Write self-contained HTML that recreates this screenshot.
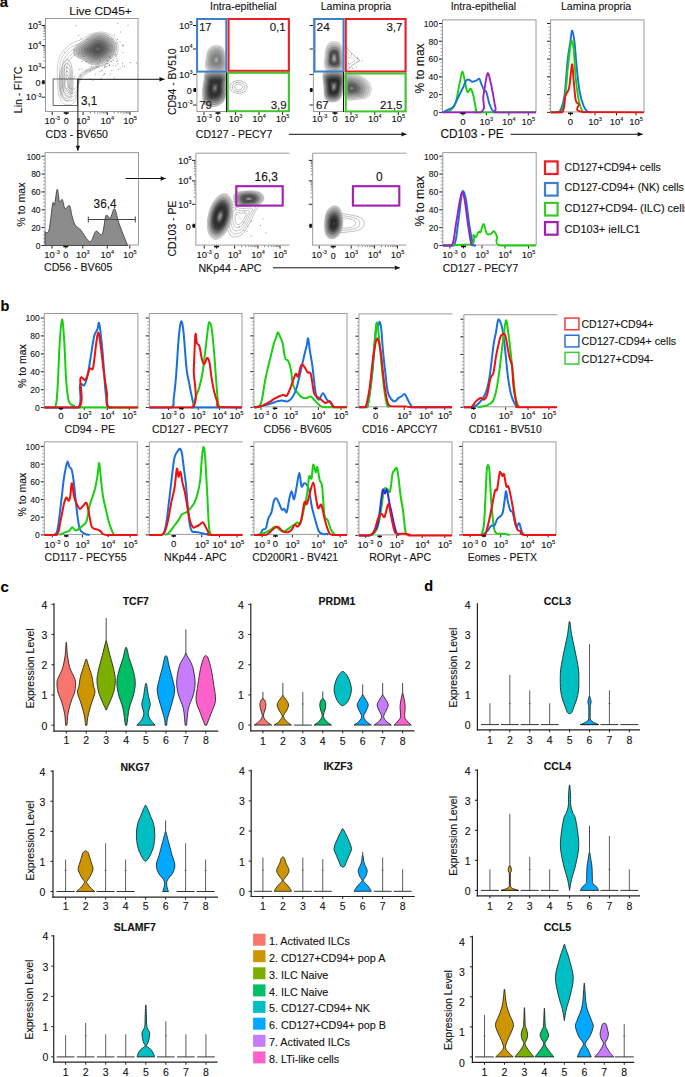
<!DOCTYPE html><html><head><meta charset="utf-8"><style>html,body{margin:0;padding:0;background:#fff;overflow:hidden;}svg{display:block;font-family:"Liberation Sans", sans-serif;} text{stroke:#1a1a1a;stroke-width:0.12px;}</style></head><body>
<svg width="685" height="1077" viewBox="0 0 685 1077">
<rect width="685" height="1077" fill="#fff"/>
<text x="-0.3" y="6.7" font-size="15" font-weight="bold" fill="#000">a</text>
<text x="69.30" y="14.56" font-size="11.5"  textLength="62.5" lengthAdjust="spacingAndGlyphs"  fill="#111" >Live CD45+</text>
<rect x="45.50" y="18.50" width="92.50" height="93.00" fill="none" stroke="#9a9a9a" stroke-width="1"/>
<line x1="41.50" y1="25.50" x2="45.00" y2="25.50" stroke="#222" stroke-width="1"/>
<line x1="41.50" y1="45.60" x2="45.00" y2="45.60" stroke="#222" stroke-width="1"/>
<line x1="41.50" y1="67.70" x2="45.00" y2="67.70" stroke="#222" stroke-width="1"/>
<line x1="41.50" y1="97.20" x2="45.00" y2="97.20" stroke="#222" stroke-width="1"/>
<line x1="41.50" y1="82.20" x2="45.00" y2="82.20" stroke="#222" stroke-width="1"/>
<text x="41.20" y="28.75" font-size="9.45" text-anchor="end" fill="#111">10<tspan font-size="5.5" dy="-3.78">5</tspan></text>
<text x="41.20" y="48.85" font-size="9.45" text-anchor="end" fill="#111">10<tspan font-size="5.5" dy="-3.78">4</tspan></text>
<text x="41.20" y="70.95" font-size="9.45" text-anchor="end" fill="#111">10<tspan font-size="5.5" dy="-3.78">3</tspan></text>
<text x="40.50" y="85.90" font-size="9" text-anchor="end"   fill="#111" >0</text>
<text x="41.20" y="100.45" font-size="9.45" text-anchor="end" fill="#111">10<tspan font-size="5.5" dy="-3.78">-3</tspan></text>
<line x1="45.00" y1="67.70" x2="45.00" y2="67.70" stroke="#222" stroke-width="1"/>
<line x1="45.00" y1="45.60" x2="45.00" y2="45.60" stroke="#222" stroke-width="1"/>
<line x1="45.00" y1="25.50" x2="45.00" y2="25.50" stroke="#222" stroke-width="1"/>
<line x1="43.50" y1="61.05" x2="45.00" y2="61.05" stroke="#555" stroke-width="0.7"/>
<line x1="43.50" y1="57.16" x2="45.00" y2="57.16" stroke="#555" stroke-width="0.7"/>
<line x1="43.50" y1="54.39" x2="45.00" y2="54.39" stroke="#555" stroke-width="0.7"/>
<line x1="43.50" y1="52.25" x2="45.00" y2="52.25" stroke="#555" stroke-width="0.7"/>
<line x1="43.50" y1="50.50" x2="45.00" y2="50.50" stroke="#555" stroke-width="0.7"/>
<line x1="43.50" y1="49.02" x2="45.00" y2="49.02" stroke="#555" stroke-width="0.7"/>
<line x1="43.50" y1="47.74" x2="45.00" y2="47.74" stroke="#555" stroke-width="0.7"/>
<line x1="43.50" y1="46.61" x2="45.00" y2="46.61" stroke="#555" stroke-width="0.7"/>
<line x1="43.50" y1="39.55" x2="45.00" y2="39.55" stroke="#555" stroke-width="0.7"/>
<line x1="43.50" y1="36.01" x2="45.00" y2="36.01" stroke="#555" stroke-width="0.7"/>
<line x1="43.50" y1="33.50" x2="45.00" y2="33.50" stroke="#555" stroke-width="0.7"/>
<line x1="43.50" y1="31.55" x2="45.00" y2="31.55" stroke="#555" stroke-width="0.7"/>
<line x1="43.50" y1="29.96" x2="45.00" y2="29.96" stroke="#555" stroke-width="0.7"/>
<line x1="43.50" y1="28.61" x2="45.00" y2="28.61" stroke="#555" stroke-width="0.7"/>
<line x1="43.50" y1="27.45" x2="45.00" y2="27.45" stroke="#555" stroke-width="0.7"/>
<line x1="43.50" y1="26.42" x2="45.00" y2="26.42" stroke="#555" stroke-width="0.7"/>
<line x1="52.20" y1="112.00" x2="52.20" y2="115.00" stroke="#222" stroke-width="1"/>
<line x1="66.20" y1="112.00" x2="66.20" y2="115.00" stroke="#222" stroke-width="1"/>
<line x1="83.10" y1="112.00" x2="83.10" y2="115.00" stroke="#222" stroke-width="1"/>
<line x1="107.30" y1="112.00" x2="107.30" y2="115.00" stroke="#222" stroke-width="1"/>
<line x1="130.00" y1="112.00" x2="130.00" y2="115.00" stroke="#222" stroke-width="1"/>
<line x1="83.10" y1="112.00" x2="83.10" y2="112.00" stroke="#222" stroke-width="1"/>
<line x1="107.30" y1="112.00" x2="107.30" y2="112.00" stroke="#222" stroke-width="1"/>
<line x1="130.00" y1="112.00" x2="130.00" y2="112.00" stroke="#222" stroke-width="1"/>
<line x1="90.38" y1="112.00" x2="90.38" y2="113.50" stroke="#555" stroke-width="0.7"/>
<line x1="94.65" y1="112.00" x2="94.65" y2="113.50" stroke="#555" stroke-width="0.7"/>
<line x1="97.67" y1="112.00" x2="97.67" y2="113.50" stroke="#555" stroke-width="0.7"/>
<line x1="100.02" y1="112.00" x2="100.02" y2="113.50" stroke="#555" stroke-width="0.7"/>
<line x1="101.93" y1="112.00" x2="101.93" y2="113.50" stroke="#555" stroke-width="0.7"/>
<line x1="103.55" y1="112.00" x2="103.55" y2="113.50" stroke="#555" stroke-width="0.7"/>
<line x1="104.95" y1="112.00" x2="104.95" y2="113.50" stroke="#555" stroke-width="0.7"/>
<line x1="106.19" y1="112.00" x2="106.19" y2="113.50" stroke="#555" stroke-width="0.7"/>
<line x1="114.13" y1="112.00" x2="114.13" y2="113.50" stroke="#555" stroke-width="0.7"/>
<line x1="118.13" y1="112.00" x2="118.13" y2="113.50" stroke="#555" stroke-width="0.7"/>
<line x1="120.97" y1="112.00" x2="120.97" y2="113.50" stroke="#555" stroke-width="0.7"/>
<line x1="123.17" y1="112.00" x2="123.17" y2="113.50" stroke="#555" stroke-width="0.7"/>
<line x1="124.96" y1="112.00" x2="124.96" y2="113.50" stroke="#555" stroke-width="0.7"/>
<line x1="126.48" y1="112.00" x2="126.48" y2="113.50" stroke="#555" stroke-width="0.7"/>
<line x1="127.80" y1="112.00" x2="127.80" y2="113.50" stroke="#555" stroke-width="0.7"/>
<line x1="128.96" y1="112.00" x2="128.96" y2="113.50" stroke="#555" stroke-width="0.7"/>
<text x="52.20" y="123.95" font-size="9.45" text-anchor="middle" fill="#111">10<tspan font-size="5.5" dy="-3.78">-3</tspan></text>
<text x="66.20" y="124.40" font-size="9" text-anchor="middle"   fill="#111" >0</text>
<text x="83.10" y="123.95" font-size="9.45" text-anchor="middle" fill="#111">10<tspan font-size="5.5" dy="-3.78">3</tspan></text>
<text x="107.30" y="123.95" font-size="9.45" text-anchor="middle" fill="#111">10<tspan font-size="5.5" dy="-3.78">4</tspan></text>
<text x="130.00" y="123.95" font-size="9.45" text-anchor="middle" fill="#111">10<tspan font-size="5.5" dy="-3.78">5</tspan></text>
<text x="45.50" y="137.68" font-size="11"  textLength="62.5" lengthAdjust="spacingAndGlyphs"  fill="#111" >CD3 - BV650</text>
<text transform="translate(18.70,89.90) rotate(-90)" x="0" y="3.78" font-size="11" text-anchor="middle" textLength="46.5" lengthAdjust="spacingAndGlyphs"  fill="#111" >Lin - FITC</text>
<path d="M58.00,62.30 C58.82,57.85 60.10,55.45 62.20,52.40 C64.30,49.35 67.57,46.10 70.60,44.00 C73.63,41.90 77.12,41.43 80.40,39.80 C83.68,38.17 86.55,35.48 90.30,34.20 C94.05,32.92 98.93,31.63 102.90,32.10 C106.87,32.57 111.53,34.55 114.10,37.00 C116.67,39.45 118.07,43.53 118.30,46.80 C118.53,50.07 117.37,53.78 115.50,56.60 C113.63,59.42 110.13,61.82 107.10,63.70 C104.07,65.58 100.35,66.50 97.30,67.90 C94.25,69.30 91.38,70.47 88.80,72.10 C86.22,73.73 83.55,75.37 81.80,77.70 C80.05,80.03 79.12,82.83 78.30,86.10 C77.48,89.37 77.95,94.27 76.90,97.30 C75.85,100.33 74.22,103.25 72.00,104.30 C69.78,105.35 65.82,105.23 63.60,103.60 C61.38,101.97 59.75,98.58 58.70,94.50 C57.65,90.42 57.42,84.47 57.30,79.10 C57.18,73.73 57.18,66.75 58.00,62.30Z" fill="none" stroke="#333" stroke-opacity="0.45" stroke-width="0.5"/>
<path d="M60.25,63.17 C60.97,59.22 62.11,57.09 63.98,54.38 C65.84,51.67 68.74,48.79 71.43,46.92 C74.12,45.06 77.22,44.65 80.13,43.20 C83.04,41.75 85.59,39.37 88.92,38.23 C92.24,37.09 96.58,35.95 100.10,36.36 C103.62,36.78 107.76,38.54 110.04,40.71 C112.32,42.89 113.56,46.51 113.77,49.41 C113.97,52.31 112.94,55.61 111.28,58.11 C109.62,60.61 106.52,62.74 103.83,64.41 C101.13,66.08 97.84,66.89 95.13,68.14 C92.42,69.38 89.88,70.41 87.58,71.86 C85.29,73.31 82.93,74.76 81.37,76.83 C79.82,78.90 78.99,81.39 78.27,84.29 C77.54,87.19 77.96,91.54 77.02,94.23 C76.09,96.92 74.64,99.51 72.67,100.44 C70.71,101.37 67.19,101.27 65.22,99.82 C63.25,98.37 61.80,95.37 60.87,91.74 C59.94,88.12 59.73,82.84 59.63,78.08 C59.53,73.31 59.53,67.12 60.25,63.17Z" fill="none" stroke="#333" stroke-opacity="0.45" stroke-width="0.5"/>
<path d="M62.50,64.03 C63.13,60.58 64.13,58.72 65.75,56.36 C67.38,54.00 69.91,51.48 72.27,49.85 C74.62,48.22 77.32,47.86 79.86,46.59 C82.40,45.33 84.63,43.25 87.53,42.26 C90.44,41.26 94.22,40.27 97.30,40.63 C100.37,40.99 103.99,42.53 105.98,44.42 C107.97,46.32 109.05,49.49 109.23,52.02 C109.41,54.55 108.51,57.43 107.06,59.62 C105.62,61.80 102.90,63.66 100.55,65.12 C98.20,66.58 95.32,67.29 92.96,68.37 C90.59,69.46 88.37,70.36 86.37,71.63 C84.37,72.89 82.30,74.16 80.94,75.97 C79.59,77.78 78.87,79.95 78.23,82.48 C77.60,85.01 77.96,88.81 77.15,91.16 C76.33,93.51 75.07,95.77 73.35,96.58 C71.63,97.40 68.56,97.31 66.84,96.04 C65.12,94.77 63.86,92.15 63.04,88.99 C62.23,85.82 62.05,81.21 61.96,77.05 C61.87,72.89 61.87,67.48 62.50,64.03Z" fill="none" stroke="#333" stroke-opacity="0.45" stroke-width="0.5"/>
<path d="M64.75,64.90 C65.29,61.95 66.14,60.36 67.53,58.34 C68.92,56.32 71.09,54.17 73.10,52.77 C75.11,51.38 77.41,51.07 79.59,49.99 C81.77,48.91 83.66,47.13 86.15,46.28 C88.63,45.43 91.87,44.58 94.50,44.89 C97.12,45.20 100.22,46.51 101.92,48.14 C103.62,49.76 104.54,52.47 104.70,54.63 C104.85,56.79 104.08,59.26 102.84,61.12 C101.61,62.99 99.29,64.58 97.28,65.83 C95.27,67.07 92.81,67.68 90.79,68.61 C88.77,69.54 86.87,70.31 85.16,71.39 C83.44,72.47 81.68,73.56 80.52,75.10 C79.36,76.65 78.74,78.50 78.20,80.67 C77.66,82.83 77.97,86.08 77.27,88.09 C76.58,90.10 75.49,92.03 74.03,92.72 C72.56,93.42 69.93,93.34 68.46,92.26 C66.99,91.18 65.91,88.94 65.21,86.23 C64.52,83.53 64.36,79.58 64.29,76.03 C64.21,72.47 64.21,67.85 64.75,64.90Z" fill="none" stroke="#333" stroke-opacity="0.45" stroke-width="0.5"/>
<path d="M67.00,65.77 C67.45,63.32 68.16,62.00 69.31,60.32 C70.47,58.64 72.26,56.86 73.93,55.70 C75.60,54.55 77.51,54.29 79.32,53.39 C81.13,52.49 82.70,51.02 84.77,50.31 C86.83,49.60 89.51,48.90 91.70,49.16 C93.88,49.41 96.44,50.50 97.85,51.85 C99.27,53.20 100.04,55.44 100.16,57.24 C100.29,59.04 99.65,61.08 98.62,62.63 C97.60,64.18 95.67,65.50 94.00,66.53 C92.34,67.57 90.29,68.08 88.61,68.84 C86.94,69.61 85.36,70.26 83.94,71.16 C82.52,72.05 81.05,72.95 80.09,74.23 C79.13,75.52 78.61,77.06 78.16,78.85 C77.72,80.65 77.97,83.35 77.40,85.02 C76.82,86.68 75.92,88.29 74.70,88.86 C73.48,89.44 71.30,89.38 70.08,88.48 C68.86,87.58 67.96,85.72 67.39,83.47 C66.81,81.23 66.68,77.96 66.61,75.00 C66.55,72.05 66.55,68.21 67.00,65.77Z" fill="none" stroke="#333" stroke-opacity="0.45" stroke-width="0.5"/>
<path d="M61.00,70.00 C62.17,66.33 64.33,61.00 66.00,60.00 C67.67,59.00 69.83,60.67 71.00,64.00 C72.17,67.33 72.83,74.83 73.00,80.00 C73.17,85.17 73.00,91.50 72.00,95.00 C71.00,98.50 68.83,100.83 67.00,101.00 C65.17,101.17 62.33,99.17 61.00,96.00 C59.67,92.83 59.00,86.33 59.00,82.00 C59.00,77.67 59.83,73.67 61.00,70.00Z" fill="none" stroke="#333" stroke-opacity="0.55" stroke-width="0.55"/>
<path d="M61.83,72.25 C62.82,69.13 64.66,64.60 66.08,63.75 C67.49,62.90 69.33,64.32 70.33,67.15 C71.32,69.98 71.88,76.36 72.03,80.75 C72.17,85.14 72.03,90.53 71.17,93.50 C70.32,96.47 68.48,98.46 66.92,98.60 C65.37,98.74 62.96,97.04 61.83,94.35 C60.69,91.66 60.12,86.13 60.12,82.45 C60.12,78.77 60.83,75.37 61.83,72.25Z" fill="none" stroke="#333" stroke-opacity="0.55" stroke-width="0.55"/>
<path d="M62.65,74.50 C63.47,71.93 64.98,68.20 66.15,67.50 C67.32,66.80 68.83,67.97 69.65,70.30 C70.47,72.63 70.93,77.88 71.05,81.50 C71.17,85.12 71.05,89.55 70.35,92.00 C69.65,94.45 68.13,96.08 66.85,96.20 C65.57,96.32 63.58,94.92 62.65,92.70 C61.72,90.48 61.25,85.93 61.25,82.90 C61.25,79.87 61.83,77.07 62.65,74.50Z" fill="none" stroke="#333" stroke-opacity="0.55" stroke-width="0.55"/>
<path d="M63.48,76.75 C64.12,74.73 65.31,71.80 66.22,71.25 C67.14,70.70 68.33,71.62 68.97,73.45 C69.62,75.28 69.98,79.41 70.08,82.25 C70.17,85.09 70.08,88.58 69.53,90.50 C68.98,92.42 67.78,93.71 66.78,93.80 C65.77,93.89 64.21,92.79 63.48,91.05 C62.74,89.31 62.38,85.73 62.38,83.35 C62.38,80.97 62.83,78.77 63.48,76.75Z" fill="none" stroke="#333" stroke-opacity="0.55" stroke-width="0.55"/>
<path d="M64.30,79.00 C64.77,77.53 65.63,75.40 66.30,75.00 C66.97,74.60 67.83,75.27 68.30,76.60 C68.77,77.93 69.03,80.93 69.10,83.00 C69.17,85.07 69.10,87.60 68.70,89.00 C68.30,90.40 67.43,91.33 66.70,91.40 C65.97,91.47 64.83,90.67 64.30,89.40 C63.77,88.13 63.50,85.53 63.50,83.80 C63.50,82.07 63.83,80.47 64.30,79.00Z" fill="none" stroke="#333" stroke-opacity="0.55" stroke-width="0.55"/>
<path d="M65.12,81.25 C65.42,80.33 65.96,79.00 66.38,78.75 C66.79,78.50 67.33,78.92 67.62,79.75 C67.92,80.58 68.08,82.46 68.12,83.75 C68.17,85.04 68.12,86.62 67.88,87.50 C67.62,88.38 67.08,88.96 66.62,89.00 C66.17,89.04 65.46,88.54 65.12,87.75 C64.79,86.96 64.62,85.33 64.62,84.25 C64.62,83.17 64.83,82.17 65.12,81.25Z" fill="none" stroke="#333" stroke-opacity="0.55" stroke-width="0.55"/>
<path d="M74.10,48.20 C75.50,45.75 80.03,42.83 83.20,40.50 C86.37,38.17 89.58,35.37 93.10,34.20 C96.62,33.03 100.92,32.68 104.30,33.50 C107.68,34.32 111.30,36.77 113.40,39.10 C115.50,41.43 116.90,44.58 116.90,47.50 C116.90,50.42 115.73,54.02 113.40,56.60 C111.07,59.18 106.52,61.70 102.90,63.00 C99.28,64.30 95.22,65.00 91.70,64.40 C88.18,63.80 84.62,60.93 81.80,59.40 C78.98,57.87 76.08,57.07 74.80,55.20 C73.52,53.33 72.70,50.65 74.10,48.20Z" fill="rgb(205,205,205)" stroke="#333" stroke-opacity="0.5" stroke-width="0.4"/>
<path d="M76.73,48.29 C77.97,46.11 82.01,43.51 84.83,41.44 C87.65,39.36 90.51,36.87 93.64,35.83 C96.77,34.79 100.60,34.48 103.61,35.20 C106.62,35.93 109.84,38.11 111.71,40.19 C113.58,42.27 114.82,45.07 114.82,47.66 C114.82,50.26 113.78,53.46 111.71,55.76 C109.63,58.06 105.58,60.30 102.36,61.46 C99.14,62.62 95.52,63.24 92.39,62.71 C89.26,62.17 86.09,59.62 83.58,58.26 C81.08,56.89 78.49,56.18 77.35,54.52 C76.21,52.86 75.48,50.47 76.73,48.29Z" fill="rgb(185,185,185)" stroke="#333" stroke-opacity="0.5" stroke-width="0.4"/>
<path d="M79.36,48.38 C80.45,46.47 83.99,44.19 86.46,42.37 C88.93,40.55 91.44,38.37 94.18,37.46 C96.92,36.55 100.28,36.27 102.91,36.91 C105.55,37.55 108.37,39.46 110.01,41.28 C111.65,43.10 112.74,45.55 112.74,47.83 C112.74,50.10 111.83,52.91 110.01,54.93 C108.19,56.94 104.64,58.91 101.82,59.92 C99.00,60.93 95.83,61.48 93.09,61.01 C90.34,60.54 87.56,58.31 85.36,57.11 C83.17,55.92 80.91,55.29 79.90,53.84 C78.90,52.38 78.27,50.29 79.36,48.38Z" fill="rgb(165,165,165)" stroke="#333" stroke-opacity="0.5" stroke-width="0.4"/>
<path d="M81.99,48.46 C82.92,46.82 85.96,44.87 88.08,43.30 C90.21,41.74 92.36,39.87 94.72,39.08 C97.07,38.30 99.95,38.07 102.22,38.62 C104.49,39.16 106.91,40.80 108.32,42.37 C109.72,43.93 110.66,46.04 110.66,47.99 C110.66,49.95 109.88,52.36 108.32,54.09 C106.75,55.82 103.71,57.51 101.28,58.38 C98.86,59.25 96.14,59.72 93.78,59.32 C91.42,58.92 89.03,57.00 87.15,55.97 C85.26,54.94 83.32,54.40 82.46,53.15 C81.60,51.90 81.05,50.11 81.99,48.46Z" fill="rgb(145,145,145)" stroke="#333" stroke-opacity="0.5" stroke-width="0.4"/>
<path d="M84.62,48.55 C85.40,47.18 87.94,45.55 89.71,44.24 C91.49,42.93 93.29,41.37 95.26,40.71 C97.23,40.06 99.63,39.86 101.53,40.32 C103.42,40.78 105.45,42.15 106.62,43.46 C107.80,44.76 108.58,46.53 108.58,48.16 C108.58,49.79 107.93,51.81 106.62,53.26 C105.32,54.70 102.77,56.11 100.74,56.84 C98.72,57.57 96.44,57.96 94.47,57.62 C92.50,57.29 90.51,55.68 88.93,54.82 C87.35,53.97 85.73,53.52 85.01,52.47 C84.29,51.43 83.83,49.92 84.62,48.55Z" fill="rgb(125,125,125)" stroke="#333" stroke-opacity="0.5" stroke-width="0.4"/>
<path d="M87.25,48.64 C87.88,47.54 89.92,46.22 91.34,45.17 C92.77,44.12 94.21,42.87 95.80,42.34 C97.38,41.82 99.31,41.66 100.83,42.02 C102.36,42.39 103.99,43.50 104.93,44.55 C105.88,45.59 106.50,47.01 106.50,48.33 C106.50,49.64 105.98,51.26 104.93,52.42 C103.88,53.58 101.83,54.71 100.20,55.30 C98.58,55.88 96.75,56.20 95.17,55.93 C93.58,55.66 91.98,54.37 90.71,53.68 C89.44,52.99 88.14,52.63 87.56,51.79 C86.98,50.95 86.62,49.74 87.25,48.64Z" fill="rgb(110,110,110)" stroke="#333" stroke-opacity="0.5" stroke-width="0.4"/>
<path d="M89.87,48.73 C90.35,47.90 91.89,46.90 92.97,46.11 C94.04,45.32 95.14,44.36 96.33,43.97 C97.53,43.57 98.99,43.45 100.14,43.73 C101.29,44.01 102.52,44.84 103.24,45.63 C103.95,46.43 104.43,47.50 104.43,48.49 C104.43,49.48 104.03,50.71 103.24,51.58 C102.44,52.46 100.90,53.32 99.67,53.76 C98.44,54.20 97.05,54.44 95.86,54.24 C94.66,54.03 93.45,53.06 92.49,52.54 C91.53,52.01 90.55,51.74 90.11,51.11 C89.68,50.47 89.40,49.56 89.87,48.73Z" fill="rgb(95,95,95)" stroke="#333" stroke-opacity="0.5" stroke-width="0.4"/>
<path d="M92.50,48.82 C92.83,48.25 93.87,47.58 94.60,47.05 C95.32,46.51 96.06,45.86 96.87,45.60 C97.68,45.33 98.67,45.25 99.45,45.44 C100.23,45.62 101.06,46.19 101.54,46.72 C102.03,47.26 102.35,47.98 102.35,48.66 C102.35,49.33 102.08,50.15 101.54,50.75 C101.01,51.34 99.96,51.92 99.13,52.22 C98.30,52.52 97.36,52.68 96.55,52.54 C95.74,52.40 94.92,51.74 94.27,51.39 C93.63,51.04 92.96,50.86 92.66,50.43 C92.37,50.00 92.18,49.38 92.50,48.82Z" fill="rgb(85,85,85)" stroke="#333" stroke-opacity="0.5" stroke-width="0.4"/>
<path d="M95.13,48.90 C95.30,48.61 95.84,48.26 96.22,47.98 C96.60,47.70 96.99,47.36 97.41,47.22 C97.83,47.08 98.35,47.04 98.76,47.14 C99.16,47.24 99.60,47.53 99.85,47.81 C100.10,48.09 100.27,48.47 100.27,48.82 C100.27,49.17 100.13,49.60 99.85,49.91 C99.57,50.22 99.02,50.52 98.59,50.68 C98.15,50.84 97.67,50.92 97.24,50.85 C96.82,50.78 96.39,50.43 96.06,50.25 C95.72,50.06 95.37,49.97 95.22,49.74 C95.06,49.52 94.96,49.20 95.13,48.90Z" fill="rgb(100,100,100)" stroke="#333" stroke-opacity="0.5" stroke-width="0.4"/>
<rect x="53.10" y="79.00" width="24.30" height="26.40" stroke="#444" stroke-width="0.8" fill="none"/>
<line x1="77.40" y1="79.30" x2="164.50" y2="79.30" stroke="#111" stroke-width="1"/>
<polygon points="164.50,79.30 159.50,77.05 159.50,81.55" fill="#111"/>
<line x1="77.90" y1="79.30" x2="77.90" y2="150.80" stroke="#111" stroke-width="1"/>
<polygon points="77.90,150.80 80.15,145.80 75.65,145.80" fill="#111"/>
<text x="81.10" y="104.83" font-size="12"  textLength="16.2" lengthAdjust="spacingAndGlyphs"  fill="#111" >3,1</text>
<text x="210.00" y="10.48" font-size="11"  textLength="66.5" lengthAdjust="spacingAndGlyphs"  fill="#111" >Intra-epithelial</text>
<rect x="196.90" y="18.50" width="92.40" height="93.00" fill="none" stroke="#9a9a9a" stroke-width="1"/>
<line x1="193.00" y1="25.50" x2="196.40" y2="25.50" stroke="#222" stroke-width="1"/>
<text x="192.50" y="28.75" font-size="9.45" text-anchor="end" fill="#111">10<tspan font-size="5.5" dy="-3.78">5</tspan></text>
<line x1="193.00" y1="49.00" x2="196.40" y2="49.00" stroke="#222" stroke-width="1"/>
<text x="192.50" y="52.25" font-size="9.45" text-anchor="end" fill="#111">10<tspan font-size="5.5" dy="-3.78">4</tspan></text>
<line x1="193.00" y1="74.60" x2="196.40" y2="74.60" stroke="#222" stroke-width="1"/>
<text x="192.50" y="77.85" font-size="9.45" text-anchor="end" fill="#111">10<tspan font-size="5.5" dy="-3.78">3</tspan></text>
<line x1="193.00" y1="90.00" x2="196.40" y2="90.00" stroke="#222" stroke-width="1"/>
<text x="191.80" y="93.70" font-size="9" text-anchor="end"   fill="#111" >0</text>
<line x1="193.00" y1="105.00" x2="196.40" y2="105.00" stroke="#222" stroke-width="1"/>
<text x="192.50" y="108.25" font-size="9.45" text-anchor="end" fill="#111">10<tspan font-size="5.5" dy="-3.78">-3</tspan></text>
<text transform="translate(172.30,81.80) rotate(-90)" x="0" y="3.78" font-size="11" text-anchor="middle" textLength="66.5" lengthAdjust="spacingAndGlyphs"  fill="#111" >CD94 - BV510</text>
<line x1="204.00" y1="112.00" x2="204.00" y2="115.00" stroke="#222" stroke-width="1"/>
<text x="204.00" y="121.75" font-size="9.45" text-anchor="middle" fill="#111">10<tspan font-size="5.5" dy="-3.78">-3</tspan></text>
<line x1="235.60" y1="112.00" x2="235.60" y2="115.00" stroke="#222" stroke-width="1"/>
<text x="235.60" y="121.75" font-size="9.45" text-anchor="middle" fill="#111">10<tspan font-size="5.5" dy="-3.78">3</tspan></text>
<line x1="259.00" y1="112.00" x2="259.00" y2="115.00" stroke="#222" stroke-width="1"/>
<text x="259.00" y="121.75" font-size="9.45" text-anchor="middle" fill="#111">10<tspan font-size="5.5" dy="-3.78">4</tspan></text>
<line x1="282.60" y1="112.00" x2="282.60" y2="115.00" stroke="#222" stroke-width="1"/>
<text x="282.60" y="121.75" font-size="9.45" text-anchor="middle" fill="#111">10<tspan font-size="5.5" dy="-3.78">5</tspan></text>
<line x1="218.00" y1="112.00" x2="218.00" y2="115.00" stroke="#222" stroke-width="1"/>
<text x="218.00" y="122.20" font-size="9" text-anchor="middle"   fill="#111" >0</text>
<text x="195.80" y="138.38" font-size="11"  textLength="76.6" lengthAdjust="spacingAndGlyphs"  fill="#111" >CD127 - PECY7</text>
<line x1="288.80" y1="134.30" x2="406.50" y2="134.30" stroke="#111" stroke-width="1"/>
<polygon points="406.50,134.30 401.50,132.05 401.50,136.55" fill="#111"/>
<path d="M207.00,70.00 C203.92,67.50 206.17,59.58 206.50,56.00 C206.83,52.42 207.58,50.25 209.00,48.50 C210.42,46.75 212.83,45.75 215.00,45.50 C217.17,45.25 220.33,45.42 222.00,47.00 C223.67,48.58 224.50,51.00 225.00,55.00 C225.50,59.00 228.00,68.50 225.00,71.00 C222.00,73.50 210.08,72.50 207.00,70.00Z" fill="rgb(225,225,225)" stroke="#333" stroke-opacity="0.45" stroke-width="0.4"/>
<path d="M208.01,68.94 C205.25,66.70 207.26,59.63 207.56,56.42 C207.86,53.22 208.53,51.29 209.80,49.72 C211.06,48.16 213.22,47.26 215.16,47.04 C217.10,46.82 219.93,46.97 221.42,48.38 C222.91,49.80 223.65,51.96 224.10,55.53 C224.54,59.11 226.78,67.60 224.10,69.83 C221.42,72.07 210.77,71.17 208.01,68.94Z" fill="rgb(205,205,205)" stroke="#333" stroke-opacity="0.45" stroke-width="0.4"/>
<path d="M209.02,67.88 C206.59,65.91 208.36,59.67 208.62,56.85 C208.89,54.03 209.48,52.32 210.59,50.94 C211.71,49.57 213.61,48.78 215.32,48.58 C217.03,48.38 219.52,48.52 220.83,49.76 C222.14,51.01 222.80,52.91 223.19,56.06 C223.59,59.21 225.56,66.69 223.19,68.66 C220.83,70.63 211.45,69.84 209.02,67.88Z" fill="rgb(185,185,185)" stroke="#333" stroke-opacity="0.45" stroke-width="0.4"/>
<path d="M210.03,66.81 C207.93,65.11 209.46,59.72 209.69,57.27 C209.91,54.83 210.43,53.36 211.39,52.17 C212.36,50.97 214.00,50.29 215.48,50.12 C216.95,49.95 219.11,50.07 220.25,51.14 C221.38,52.22 221.95,53.87 222.29,56.59 C222.63,59.32 224.33,65.79 222.29,67.49 C220.25,69.20 212.13,68.52 210.03,66.81Z" fill="rgb(170,170,170)" stroke="#333" stroke-opacity="0.45" stroke-width="0.4"/>
<path d="M211.04,65.75 C209.26,64.31 210.56,59.76 210.75,57.70 C210.94,55.64 211.37,54.39 212.19,53.39 C213.00,52.38 214.39,51.81 215.64,51.66 C216.88,51.52 218.70,51.61 219.66,52.52 C220.62,53.44 221.10,54.83 221.39,57.12 C221.67,59.42 223.11,64.89 221.39,66.33 C219.66,67.76 212.81,67.19 211.04,65.75Z" fill="rgb(160,160,160)" stroke="#333" stroke-opacity="0.45" stroke-width="0.4"/>
<path d="M212.05,64.69 C210.60,63.52 211.66,59.80 211.81,58.12 C211.97,56.45 212.32,55.43 212.98,54.61 C213.65,53.79 214.78,53.32 215.80,53.20 C216.81,53.09 218.30,53.16 219.08,53.91 C219.86,54.65 220.25,55.78 220.48,57.66 C220.72,59.53 221.89,63.98 220.48,65.16 C219.08,66.33 213.49,65.86 212.05,64.69Z" fill="rgb(150,150,150)" stroke="#333" stroke-opacity="0.45" stroke-width="0.4"/>
<path d="M213.06,63.62 C211.94,62.72 212.75,59.85 212.88,58.55 C213.00,57.25 213.27,56.47 213.78,55.83 C214.29,55.20 215.17,54.83 215.96,54.74 C216.74,54.65 217.89,54.71 218.49,55.29 C219.10,55.86 219.40,56.74 219.58,58.19 C219.76,59.64 220.67,63.08 219.58,63.99 C218.49,64.89 214.17,64.53 213.06,63.62Z" fill="rgb(140,140,140)" stroke="#333" stroke-opacity="0.45" stroke-width="0.4"/>
<path d="M214.07,62.56 C213.28,61.92 213.85,59.89 213.94,58.98 C214.02,58.06 214.22,57.50 214.58,57.05 C214.94,56.60 215.56,56.35 216.12,56.28 C216.67,56.22 217.48,56.26 217.91,56.67 C218.34,57.07 218.55,57.69 218.68,58.72 C218.81,59.74 219.45,62.18 218.68,62.82 C217.91,63.46 214.86,63.20 214.07,62.56Z" fill="rgb(150,150,150)" stroke="#333" stroke-opacity="0.45" stroke-width="0.4"/>
<path d="M215.07,61.50 C214.61,61.12 214.95,59.94 215.00,59.40 C215.05,58.86 215.16,58.54 215.38,58.27 C215.59,58.01 215.95,57.86 216.28,57.83 C216.60,57.79 217.07,57.81 217.32,58.05 C217.57,58.29 217.70,58.65 217.78,59.25 C217.85,59.85 218.23,61.27 217.78,61.65 C217.32,62.02 215.54,61.88 215.07,61.50Z" fill="rgb(175,175,175)" stroke="#333" stroke-opacity="0.45" stroke-width="0.4"/>
<path d="M207.00,71.50 C210.58,70.08 222.33,69.25 225.50,71.50 C228.67,73.75 226.08,80.42 226.00,85.00 C225.92,89.58 226.50,95.50 225.00,99.00 C223.50,102.50 220.33,105.00 217.00,106.00 C213.67,107.00 207.42,107.17 205.00,105.00 C202.58,102.83 202.67,97.17 202.50,93.00 C202.33,88.83 203.25,83.58 204.00,80.00 C204.75,76.42 203.42,72.92 207.00,71.50Z" fill="rgb(195,195,195)" stroke="#333" stroke-opacity="0.5" stroke-width="0.4"/>
<path d="M207.80,73.15 C211.03,71.88 221.60,71.12 224.45,73.15 C227.30,75.18 224.97,81.17 224.90,85.30 C224.83,89.42 225.35,94.75 224.00,97.90 C222.65,101.05 219.80,103.30 216.80,104.20 C213.80,105.10 208.18,105.25 206.00,103.30 C203.82,101.35 203.90,96.25 203.75,92.50 C203.60,88.75 204.42,84.02 205.10,80.80 C205.78,77.58 204.58,74.43 207.80,73.15Z" fill="rgb(165,165,165)" stroke="#333" stroke-opacity="0.5" stroke-width="0.4"/>
<path d="M208.60,74.80 C211.47,73.67 220.87,73.00 223.40,74.80 C225.93,76.60 223.87,81.93 223.80,85.60 C223.73,89.27 224.20,94.00 223.00,96.80 C221.80,99.60 219.27,101.60 216.60,102.40 C213.93,103.20 208.93,103.33 207.00,101.60 C205.07,99.87 205.13,95.33 205.00,92.00 C204.87,88.67 205.60,84.47 206.20,81.60 C206.80,78.73 205.73,75.93 208.60,74.80Z" fill="rgb(135,135,135)" stroke="#333" stroke-opacity="0.5" stroke-width="0.4"/>
<path d="M209.40,76.45 C211.91,75.46 220.13,74.88 222.35,76.45 C224.57,78.03 222.76,82.69 222.70,85.90 C222.64,89.11 223.05,93.25 222.00,95.70 C220.95,98.15 218.73,99.90 216.40,100.60 C214.07,101.30 209.69,101.42 208.00,99.90 C206.31,98.38 206.37,94.42 206.25,91.50 C206.13,88.58 206.78,84.91 207.30,82.40 C207.83,79.89 206.89,77.44 209.40,76.45Z" fill="rgb(105,105,105)" stroke="#333" stroke-opacity="0.5" stroke-width="0.4"/>
<path d="M210.20,78.10 C212.35,77.25 219.40,76.75 221.30,78.10 C223.20,79.45 221.65,83.45 221.60,86.20 C221.55,88.95 221.90,92.50 221.00,94.60 C220.10,96.70 218.20,98.20 216.20,98.80 C214.20,99.40 210.45,99.50 209.00,98.20 C207.55,96.90 207.60,93.50 207.50,91.00 C207.40,88.50 207.95,85.35 208.40,83.20 C208.85,81.05 208.05,78.95 210.20,78.10Z" fill="rgb(75,75,75)" stroke="#333" stroke-opacity="0.5" stroke-width="0.4"/>
<path d="M211.00,79.75 C212.79,79.04 218.67,78.62 220.25,79.75 C221.83,80.88 220.54,84.21 220.50,86.50 C220.46,88.79 220.75,91.75 220.00,93.50 C219.25,95.25 217.67,96.50 216.00,97.00 C214.33,97.50 211.21,97.58 210.00,96.50 C208.79,95.42 208.83,92.58 208.75,90.50 C208.67,88.42 209.12,85.79 209.50,84.00 C209.88,82.21 209.21,80.46 211.00,79.75Z" fill="rgb(55,55,55)" stroke="#333" stroke-opacity="0.5" stroke-width="0.4"/>
<path d="M211.80,81.40 C213.23,80.83 217.93,80.50 219.20,81.40 C220.47,82.30 219.43,84.97 219.40,86.80 C219.37,88.63 219.60,91.00 219.00,92.40 C218.40,93.80 217.13,94.80 215.80,95.20 C214.47,95.60 211.97,95.67 211.00,94.80 C210.03,93.93 210.07,91.67 210.00,90.00 C209.93,88.33 210.30,86.23 210.60,84.80 C210.90,83.37 210.37,81.97 211.80,81.40Z" fill="rgb(45,45,45)" stroke="#333" stroke-opacity="0.5" stroke-width="0.4"/>
<path d="M212.60,83.05 C213.68,82.62 217.20,82.38 218.15,83.05 C219.10,83.72 218.33,85.72 218.30,87.10 C218.28,88.47 218.45,90.25 218.00,91.30 C217.55,92.35 216.60,93.10 215.60,93.40 C214.60,93.70 212.72,93.75 212.00,93.10 C211.28,92.45 211.30,90.75 211.25,89.50 C211.20,88.25 211.47,86.67 211.70,85.60 C211.92,84.52 211.52,83.47 212.60,83.05Z" fill="rgb(60,60,60)" stroke="#333" stroke-opacity="0.5" stroke-width="0.4"/>
<path d="M213.40,84.70 C214.12,84.42 216.47,84.25 217.10,84.70 C217.73,85.15 217.22,86.48 217.20,87.40 C217.18,88.32 217.30,89.50 217.00,90.20 C216.70,90.90 216.07,91.40 215.40,91.60 C214.73,91.80 213.48,91.83 213.00,91.40 C212.52,90.97 212.53,89.83 212.50,89.00 C212.47,88.17 212.65,87.12 212.80,86.40 C212.95,85.68 212.68,84.98 213.40,84.70Z" fill="rgb(90,90,90)" stroke="#333" stroke-opacity="0.5" stroke-width="0.4"/>
<path d="M214.20,86.35 C214.56,86.21 215.73,86.12 216.05,86.35 C216.37,86.57 216.11,87.24 216.10,87.70 C216.09,88.16 216.15,88.75 216.00,89.10 C215.85,89.45 215.53,89.70 215.20,89.80 C214.87,89.90 214.24,89.92 214.00,89.70 C213.76,89.48 213.77,88.92 213.75,88.50 C213.73,88.08 213.83,87.56 213.90,87.20 C213.97,86.84 213.84,86.49 214.20,86.35Z" fill="rgb(130,130,130)" stroke="#333" stroke-opacity="0.5" stroke-width="0.4"/>
<path d="M247.10,87.00 C247.10,88.07 246.66,89.28 245.95,90.20 C245.23,91.12 244.04,92.01 242.80,92.54 C241.56,93.08 239.93,93.40 238.50,93.40 C237.07,93.40 235.44,93.08 234.20,92.54 C232.96,92.01 231.77,91.12 231.05,90.20 C230.34,89.28 229.90,88.07 229.90,87.00 C229.90,85.93 230.34,84.72 231.05,83.80 C231.77,82.88 232.96,81.99 234.20,81.46 C235.44,80.92 237.07,80.60 238.50,80.60 C239.93,80.60 241.56,80.92 242.80,81.46 C244.04,81.99 245.23,82.88 245.95,83.80 C246.66,84.72 247.10,85.93 247.10,87.00Z" fill="none" stroke="#333" stroke-opacity="0.55" stroke-width="0.6"/>
<path d="M244.73,87.00 C244.73,87.77 244.42,88.65 243.90,89.32 C243.38,89.99 242.52,90.63 241.62,91.02 C240.72,91.41 239.54,91.64 238.50,91.64 C237.46,91.64 236.28,91.41 235.38,91.02 C234.48,90.63 233.62,89.99 233.10,89.32 C232.58,88.65 232.27,87.77 232.27,87.00 C232.27,86.23 232.58,85.35 233.10,84.68 C233.62,84.01 234.48,83.37 235.38,82.98 C236.28,82.59 237.46,82.36 238.50,82.36 C239.54,82.36 240.72,82.59 241.62,82.98 C242.52,83.37 243.38,84.01 243.90,84.68 C244.42,85.35 244.73,86.23 244.73,87.00Z" fill="none" stroke="#333" stroke-opacity="0.55" stroke-width="0.6"/>
<path d="M242.37,87.00 C242.37,87.48 242.17,88.02 241.85,88.44 C241.53,88.86 240.99,89.25 240.44,89.49 C239.88,89.73 239.15,89.88 238.50,89.88 C237.85,89.88 237.12,89.73 236.56,89.49 C236.01,89.25 235.47,88.86 235.15,88.44 C234.83,88.02 234.63,87.48 234.63,87.00 C234.63,86.52 234.83,85.98 235.15,85.56 C235.47,85.14 236.01,84.75 236.56,84.51 C237.12,84.27 237.85,84.12 238.50,84.12 C239.15,84.12 239.88,84.27 240.44,84.51 C240.99,84.75 241.53,85.14 241.85,85.56 C242.17,85.98 242.37,86.52 242.37,87.00Z" fill="none" stroke="#333" stroke-opacity="0.55" stroke-width="0.6"/>
<rect x="197.10" y="19.00" width="29.20" height="52.60" stroke="#3f7fc8" stroke-width="2" fill="none"/>
<rect x="228.60" y="19.00" width="60.20" height="51.80" stroke="#ee1c25" stroke-width="2" fill="none"/>
<rect x="227.80" y="72.80" width="61.00" height="38.40" stroke="#3fc62b" stroke-width="2" fill="none"/>
<line x1="226.50" y1="72.60" x2="226.50" y2="112.20" stroke="#111" stroke-width="1"/>
<text x="199.20" y="30.96" font-size="11.5"  textLength="12.3" lengthAdjust="spacingAndGlyphs"  fill="#111" >17</text>
<text x="285.70" y="30.96" font-size="11.5" text-anchor="end"   fill="#111" >0,1</text>
<text x="199.20" y="109.06" font-size="11.5"  textLength="12.8" lengthAdjust="spacingAndGlyphs"  fill="#111" >79</text>
<text x="286.70" y="109.06" font-size="11.5" text-anchor="end"   fill="#111" >3,9</text>
<text x="320.70" y="10.38" font-size="11"  textLength="70.5" lengthAdjust="spacingAndGlyphs"  fill="#111" >Lamina propria</text>
<rect x="313.40" y="18.50" width="92.60" height="93.00" fill="none" stroke="#9a9a9a" stroke-width="1"/>
<line x1="309.50" y1="25.50" x2="312.90" y2="25.50" stroke="#222" stroke-width="1"/>
<line x1="309.50" y1="49.00" x2="312.90" y2="49.00" stroke="#222" stroke-width="1"/>
<line x1="309.50" y1="74.60" x2="312.90" y2="74.60" stroke="#222" stroke-width="1"/>
<line x1="309.50" y1="90.00" x2="312.90" y2="90.00" stroke="#222" stroke-width="1"/>
<line x1="309.50" y1="105.00" x2="312.90" y2="105.00" stroke="#222" stroke-width="1"/>
<line x1="319.60" y1="112.00" x2="319.60" y2="115.00" stroke="#222" stroke-width="1"/>
<text x="319.60" y="121.75" font-size="9.45" text-anchor="middle" fill="#111">10<tspan font-size="5.5" dy="-3.78">-3</tspan></text>
<line x1="351.00" y1="112.00" x2="351.00" y2="115.00" stroke="#222" stroke-width="1"/>
<text x="351.00" y="121.75" font-size="9.45" text-anchor="middle" fill="#111">10<tspan font-size="5.5" dy="-3.78">3</tspan></text>
<line x1="374.80" y1="112.00" x2="374.80" y2="115.00" stroke="#222" stroke-width="1"/>
<text x="374.80" y="121.75" font-size="9.45" text-anchor="middle" fill="#111">10<tspan font-size="5.5" dy="-3.78">4</tspan></text>
<line x1="398.30" y1="112.00" x2="398.30" y2="115.00" stroke="#222" stroke-width="1"/>
<text x="398.30" y="121.75" font-size="9.45" text-anchor="middle" fill="#111">10<tspan font-size="5.5" dy="-3.78">5</tspan></text>
<line x1="335.00" y1="112.00" x2="335.00" y2="115.00" stroke="#222" stroke-width="1"/>
<text x="335.00" y="122.20" font-size="9" text-anchor="middle"   fill="#111" >0</text>
<path d="M345.5,46 C350,52 355,57 360,60.7 C355,63 350,67 345.5,71" fill="none" stroke="#666" stroke-width="0.5"/>
<path d="M345.5,50 C349,55 352,58 355,60.5 C352,62 349,65 345.5,68" fill="none" stroke="#888" stroke-width="0.4"/>
<path d="M326.00,70.00 C323.22,66.83 324.88,56.42 325.30,52.00 C325.72,47.58 326.97,45.20 328.50,43.50 C330.03,41.80 332.50,41.72 334.50,41.80 C336.50,41.88 339.13,41.80 340.50,44.00 C341.87,46.20 342.45,50.50 342.70,55.00 C342.95,59.50 344.78,68.50 342.00,71.00 C339.22,73.50 328.78,73.17 326.00,70.00Z" fill="rgb(228,228,228)" stroke="#333" stroke-opacity="0.45" stroke-width="0.4"/>
<path d="M326.88,68.78 C324.39,65.95 325.88,56.64 326.26,52.69 C326.63,48.74 327.75,46.61 329.12,45.09 C330.49,43.57 332.69,43.50 334.48,43.57 C336.27,43.65 338.62,43.57 339.84,45.54 C341.06,47.51 341.58,51.35 341.81,55.37 C342.03,59.39 343.67,67.44 341.18,69.67 C338.69,71.91 329.37,71.61 326.88,68.78Z" fill="rgb(208,208,208)" stroke="#333" stroke-opacity="0.45" stroke-width="0.4"/>
<path d="M327.76,67.56 C325.57,65.06 326.88,56.86 327.21,53.38 C327.54,49.90 328.53,48.03 329.73,46.69 C330.94,45.35 332.88,45.28 334.46,45.35 C336.03,45.41 338.11,45.35 339.18,47.08 C340.26,48.81 340.72,52.20 340.92,55.74 C341.11,59.29 342.56,66.38 340.36,68.34 C338.17,70.31 329.96,70.05 327.76,67.56Z" fill="rgb(182,182,182)" stroke="#333" stroke-opacity="0.45" stroke-width="0.4"/>
<path d="M328.65,66.33 C326.75,64.18 327.88,57.08 328.17,54.07 C328.45,51.06 329.30,49.44 330.35,48.28 C331.39,47.12 333.07,47.07 334.44,47.12 C335.80,47.18 337.59,47.12 338.52,48.62 C339.45,50.12 339.85,53.05 340.02,56.12 C340.19,59.18 341.44,65.31 339.55,67.02 C337.65,68.72 330.54,68.49 328.65,66.33Z" fill="rgb(150,150,150)" stroke="#333" stroke-opacity="0.45" stroke-width="0.4"/>
<path d="M329.53,65.11 C327.93,63.29 328.89,57.30 329.12,54.76 C329.36,52.22 330.08,50.85 330.97,49.88 C331.85,48.90 333.27,48.85 334.42,48.90 C335.56,48.95 337.08,48.90 337.87,50.16 C338.65,51.43 338.99,53.90 339.13,56.49 C339.27,59.07 340.33,64.25 338.73,65.69 C337.13,67.12 331.13,66.93 329.53,65.11Z" fill="rgb(110,110,110)" stroke="#333" stroke-opacity="0.45" stroke-width="0.4"/>
<path d="M330.41,63.89 C329.10,62.41 329.89,57.52 330.08,55.45 C330.28,53.38 330.86,52.27 331.58,51.47 C332.30,50.67 333.46,50.63 334.39,50.67 C335.33,50.71 336.57,50.67 337.21,51.70 C337.85,52.73 338.12,54.75 338.24,56.86 C338.35,58.97 339.21,63.19 337.91,64.36 C336.60,65.53 331.71,65.38 330.41,63.89Z" fill="rgb(75,75,75)" stroke="#333" stroke-opacity="0.45" stroke-width="0.4"/>
<path d="M331.29,62.67 C330.28,61.52 330.89,57.74 331.04,56.14 C331.19,54.54 331.64,53.68 332.20,53.06 C332.75,52.45 333.65,52.42 334.37,52.45 C335.10,52.48 336.05,52.45 336.55,53.24 C337.04,54.04 337.25,55.60 337.35,57.23 C337.44,58.86 338.10,62.12 337.09,63.03 C336.08,63.94 332.30,63.82 331.29,62.67Z" fill="rgb(85,85,85)" stroke="#333" stroke-opacity="0.45" stroke-width="0.4"/>
<path d="M332.17,61.45 C331.46,60.64 331.89,57.97 331.99,56.83 C332.10,55.70 332.42,55.09 332.81,54.66 C333.21,54.22 333.84,54.20 334.35,54.22 C334.86,54.24 335.54,54.22 335.89,54.78 C336.24,55.35 336.39,56.45 336.45,57.60 C336.52,58.76 336.99,61.06 336.27,61.70 C335.56,62.34 332.89,62.26 332.17,61.45Z" fill="rgb(125,125,125)" stroke="#333" stroke-opacity="0.45" stroke-width="0.4"/>
<path d="M333.06,60.23 C332.64,59.75 332.89,58.19 332.95,57.52 C333.01,56.86 333.20,56.51 333.43,56.25 C333.66,55.99 334.03,55.98 334.33,55.99 C334.63,56.01 335.03,56.00 335.23,56.33 C335.44,56.66 335.52,57.30 335.56,57.98 C335.60,58.65 335.87,60.00 335.45,60.38 C335.04,60.75 333.47,60.70 333.06,60.23Z" fill="rgb(165,165,165)" stroke="#333" stroke-opacity="0.45" stroke-width="0.4"/>
<path d="M324.50,72.00 C327.70,69.67 339.88,69.33 343.00,72.00 C346.12,74.67 343.70,83.50 343.20,88.00 C342.70,92.50 341.70,96.67 340.00,99.00 C338.30,101.33 335.42,102.00 333.00,102.00 C330.58,102.00 327.03,101.67 325.50,99.00 C323.97,96.33 323.97,90.50 323.80,86.00 C323.63,81.50 321.30,74.33 324.50,72.00Z" fill="rgb(195,195,195)" stroke="#333" stroke-opacity="0.5" stroke-width="0.4"/>
<path d="M325.51,73.59 C328.37,71.51 339.26,71.21 342.04,73.59 C344.83,75.98 342.67,83.87 342.22,87.89 C341.78,91.92 340.88,95.64 339.36,97.72 C337.84,99.81 335.27,100.41 333.11,100.41 C330.95,100.41 327.77,100.11 326.40,97.72 C325.03,95.34 325.03,90.13 324.88,86.11 C324.73,82.08 322.65,75.68 325.51,73.59Z" fill="rgb(160,160,160)" stroke="#333" stroke-opacity="0.5" stroke-width="0.4"/>
<path d="M326.52,75.19 C329.04,73.35 338.63,73.09 341.09,75.19 C343.54,77.29 341.64,84.24 341.25,87.79 C340.85,91.33 340.06,94.61 338.73,96.45 C337.39,98.29 335.12,98.81 333.21,98.81 C331.31,98.81 328.51,98.55 327.31,96.45 C326.10,94.35 326.10,89.76 325.97,86.21 C325.84,82.67 324.00,77.03 326.52,75.19Z" fill="rgb(125,125,125)" stroke="#333" stroke-opacity="0.5" stroke-width="0.4"/>
<path d="M327.53,76.78 C329.71,75.19 338.01,74.96 340.13,76.78 C342.25,78.60 340.61,84.62 340.27,87.68 C339.93,90.75 339.25,93.59 338.09,95.17 C336.93,96.76 334.97,97.22 333.32,97.22 C331.67,97.22 329.25,96.99 328.21,95.17 C327.16,93.36 327.16,89.38 327.05,86.32 C326.94,83.25 325.35,78.37 327.53,76.78Z" fill="rgb(90,90,90)" stroke="#333" stroke-opacity="0.5" stroke-width="0.4"/>
<path d="M328.54,78.38 C330.38,77.03 337.38,76.84 339.18,78.38 C340.97,79.91 339.58,84.99 339.29,87.58 C339.00,90.16 338.43,92.56 337.45,93.90 C336.47,95.24 334.81,95.62 333.43,95.62 C332.04,95.62 329.99,95.43 329.11,93.90 C328.23,92.37 328.23,89.01 328.13,86.42 C328.04,83.84 326.70,79.72 328.54,78.38Z" fill="rgb(60,60,60)" stroke="#333" stroke-opacity="0.5" stroke-width="0.4"/>
<path d="M329.55,79.97 C331.05,78.88 336.76,78.72 338.22,79.97 C339.68,81.22 338.55,85.36 338.31,87.47 C338.08,89.58 337.61,91.53 336.81,92.62 C336.02,93.72 334.66,94.03 333.53,94.03 C332.40,94.03 330.73,93.88 330.02,92.62 C329.30,91.38 329.30,88.64 329.22,86.53 C329.14,84.42 328.05,81.06 329.55,79.97Z" fill="rgb(40,40,40)" stroke="#333" stroke-opacity="0.5" stroke-width="0.4"/>
<path d="M330.56,81.56 C331.72,80.72 336.13,80.60 337.26,81.56 C338.39,82.53 337.52,85.73 337.33,87.36 C337.15,88.99 336.79,90.50 336.18,91.35 C335.56,92.20 334.51,92.44 333.64,92.44 C332.76,92.44 331.47,92.32 330.92,91.35 C330.36,90.38 330.36,88.27 330.30,86.64 C330.24,85.01 329.40,82.41 330.56,81.56Z" fill="rgb(55,55,55)" stroke="#333" stroke-opacity="0.5" stroke-width="0.4"/>
<path d="M331.57,83.16 C332.39,82.56 335.51,82.47 336.31,83.16 C337.10,83.84 336.49,86.10 336.36,87.26 C336.23,88.41 335.97,89.48 335.54,90.08 C335.10,90.67 334.36,90.84 333.74,90.84 C333.12,90.84 332.21,90.76 331.82,90.08 C331.43,89.39 331.43,87.90 331.39,86.74 C331.34,85.59 330.75,83.75 331.57,83.16Z" fill="rgb(95,95,95)" stroke="#333" stroke-opacity="0.5" stroke-width="0.4"/>
<path d="M332.57,84.75 C333.06,84.40 334.88,84.35 335.35,84.75 C335.82,85.15 335.45,86.48 335.38,87.15 C335.31,87.83 335.15,88.45 334.90,88.80 C334.64,89.15 334.21,89.25 333.85,89.25 C333.49,89.25 332.96,89.20 332.73,88.80 C332.50,88.40 332.50,87.52 332.47,86.85 C332.45,86.17 332.09,85.10 332.57,84.75Z" fill="rgb(140,140,140)" stroke="#333" stroke-opacity="0.5" stroke-width="0.4"/>
<path d="M345.30,75.00 C347.08,71.08 352.55,73.83 356.00,74.50 C359.45,75.17 363.45,76.75 366.00,79.00 C368.55,81.25 370.97,85.00 371.30,88.00 C371.63,91.00 370.38,95.08 368.00,97.00 C365.62,98.92 360.78,99.33 357.00,99.50 C353.22,99.67 347.25,102.08 345.30,98.00 C343.35,93.92 343.52,78.92 345.30,75.00Z" fill="rgb(225,225,225)" stroke="#333" stroke-opacity="0.4" stroke-width="0.4"/>
<path d="M345.93,76.48 C347.51,73.00 352.38,75.45 355.45,76.04 C358.52,76.63 362.08,78.04 364.35,80.05 C366.62,82.05 368.77,85.39 369.07,88.06 C369.36,90.73 368.25,94.36 366.13,96.06 C364.01,97.77 359.71,98.14 356.34,98.29 C352.97,98.44 347.66,100.59 345.93,96.95 C344.19,93.32 344.34,79.97 345.93,76.48Z" fill="rgb(205,205,205)" stroke="#333" stroke-opacity="0.4" stroke-width="0.4"/>
<path d="M346.55,77.97 C347.95,74.91 352.21,77.06 354.90,77.58 C357.59,78.10 360.71,79.34 362.70,81.09 C364.69,82.84 366.57,85.77 366.83,88.11 C367.09,90.45 366.12,93.63 364.26,95.13 C362.40,96.62 358.63,96.95 355.68,97.08 C352.73,97.21 348.08,99.09 346.55,95.91 C345.03,92.72 345.16,81.03 346.55,77.97Z" fill="rgb(185,185,185)" stroke="#333" stroke-opacity="0.4" stroke-width="0.4"/>
<path d="M347.18,79.45 C348.38,76.83 352.04,78.67 354.35,79.12 C356.66,79.57 359.34,80.63 361.05,82.14 C362.76,83.64 364.38,86.16 364.60,88.17 C364.82,90.18 363.99,92.91 362.39,94.19 C360.79,95.48 357.55,95.76 355.02,95.87 C352.49,95.98 348.49,97.60 347.18,94.86 C345.87,92.13 345.99,82.08 347.18,79.45Z" fill="rgb(165,165,165)" stroke="#333" stroke-opacity="0.4" stroke-width="0.4"/>
<path d="M347.81,80.94 C348.81,78.75 351.87,80.29 353.80,80.66 C355.73,81.03 357.97,81.92 359.40,83.18 C360.83,84.44 362.18,86.54 362.37,88.22 C362.55,89.90 361.85,92.19 360.52,93.26 C359.19,94.33 356.48,94.57 354.36,94.66 C352.24,94.75 348.90,96.11 347.81,93.82 C346.72,91.53 346.81,83.13 347.81,80.94Z" fill="rgb(145,145,145)" stroke="#333" stroke-opacity="0.4" stroke-width="0.4"/>
<path d="M348.44,82.42 C349.24,80.66 351.70,81.90 353.25,82.20 C354.80,82.50 356.60,83.21 357.75,84.22 C358.90,85.24 359.99,86.93 360.13,88.28 C360.28,89.62 359.72,91.46 358.65,92.33 C357.58,93.19 355.40,93.38 353.70,93.45 C352.00,93.53 349.31,94.61 348.44,92.78 C347.56,90.94 347.63,84.19 348.44,82.42Z" fill="rgb(120,120,120)" stroke="#333" stroke-opacity="0.4" stroke-width="0.4"/>
<path d="M349.06,83.91 C349.67,82.58 351.53,83.51 352.70,83.74 C353.87,83.97 355.23,84.50 356.10,85.27 C356.97,86.03 357.79,87.31 357.90,88.33 C358.02,89.35 357.59,90.74 356.78,91.39 C355.97,92.04 354.33,92.18 353.04,92.24 C351.75,92.30 349.73,93.12 349.06,91.73 C348.40,90.34 348.46,85.24 349.06,83.91Z" fill="rgb(100,100,100)" stroke="#333" stroke-opacity="0.4" stroke-width="0.4"/>
<path d="M349.69,85.39 C350.10,84.49 351.36,85.13 352.15,85.28 C352.94,85.43 353.86,85.80 354.45,86.31 C355.04,86.83 355.59,87.70 355.67,88.39 C355.75,89.08 355.46,90.01 354.91,90.45 C354.36,90.90 353.25,90.99 352.38,91.03 C351.51,91.07 350.14,91.62 349.69,90.69 C349.24,89.75 349.28,86.30 349.69,85.39Z" fill="rgb(90,90,90)" stroke="#333" stroke-opacity="0.4" stroke-width="0.4"/>
<path d="M350.32,86.88 C350.53,86.41 351.19,86.74 351.60,86.82 C352.01,86.90 352.49,87.09 352.80,87.36 C353.11,87.63 353.40,88.08 353.44,88.44 C353.48,88.80 353.33,89.29 353.04,89.52 C352.75,89.75 352.17,89.80 351.72,89.82 C351.27,89.84 350.55,90.13 350.32,89.64 C350.08,89.15 350.10,87.35 350.32,86.88Z" fill="rgb(130,130,130)" stroke="#333" stroke-opacity="0.4" stroke-width="0.4"/>
<rect x="314.50" y="19.00" width="29.00" height="52.50" stroke="#3f7fc8" stroke-width="2" fill="none"/>
<rect x="345.80" y="19.00" width="59.70" height="52.50" stroke="#ee1c25" stroke-width="2" fill="none"/>
<rect x="345.80" y="73.50" width="59.70" height="37.90" stroke="#3fc62b" stroke-width="2" fill="none"/>
<line x1="343.50" y1="72.00" x2="343.50" y2="112.00" stroke="#111" stroke-width="1"/>
<text x="316.60" y="30.96" font-size="11.5"  textLength="13.3" lengthAdjust="spacingAndGlyphs"  fill="#111" >24</text>
<text x="402.40" y="30.96" font-size="11.5" text-anchor="end"   fill="#111" >3,7</text>
<text x="316.00" y="109.06" font-size="11.5"  textLength="12.7" lengthAdjust="spacingAndGlyphs"  fill="#111" >67</text>
<text x="402.40" y="109.06" font-size="11.5" text-anchor="end"   fill="#111" >21,5</text>
<text x="450.70" y="10.38" font-size="11"  textLength="65.3" lengthAdjust="spacingAndGlyphs"  fill="#111" >Intra-epithelial</text>
<rect x="442.50" y="19.90" width="93.50" height="92.00" fill="none" stroke="#9a9a9a" stroke-width="1"/>
<line x1="439.00" y1="112.40" x2="442.00" y2="112.40" stroke="#222" stroke-width="1"/>
<text x="438.00" y="115.81" font-size="9.9" text-anchor="end" textLength="4.74" lengthAdjust="spacingAndGlyphs"  fill="#111" >0</text>
<line x1="439.00" y1="94.62" x2="442.00" y2="94.62" stroke="#222" stroke-width="1"/>
<text x="438.00" y="98.03" font-size="9.9" text-anchor="end" textLength="9.47" lengthAdjust="spacingAndGlyphs"  fill="#111" >20</text>
<line x1="439.00" y1="76.84" x2="442.00" y2="76.84" stroke="#222" stroke-width="1"/>
<text x="438.00" y="80.25" font-size="9.9" text-anchor="end" textLength="9.47" lengthAdjust="spacingAndGlyphs"  fill="#111" >40</text>
<line x1="439.00" y1="59.06" x2="442.00" y2="59.06" stroke="#222" stroke-width="1"/>
<text x="438.00" y="62.47" font-size="9.9" text-anchor="end" textLength="9.47" lengthAdjust="spacingAndGlyphs"  fill="#111" >60</text>
<line x1="439.00" y1="41.28" x2="442.00" y2="41.28" stroke="#222" stroke-width="1"/>
<text x="438.00" y="44.69" font-size="9.9" text-anchor="end" textLength="9.47" lengthAdjust="spacingAndGlyphs"  fill="#111" >80</text>
<line x1="439.00" y1="23.50" x2="442.00" y2="23.50" stroke="#222" stroke-width="1"/>
<text x="438.00" y="26.91" font-size="9.9" text-anchor="end" textLength="14.21" lengthAdjust="spacingAndGlyphs"  fill="#111" >100</text>
<line x1="440.50" y1="112.40" x2="442.00" y2="112.40" stroke="#555" stroke-width="0.6"/>
<line x1="440.50" y1="108.84" x2="442.00" y2="108.84" stroke="#555" stroke-width="0.6"/>
<line x1="440.50" y1="105.29" x2="442.00" y2="105.29" stroke="#555" stroke-width="0.6"/>
<line x1="440.50" y1="101.73" x2="442.00" y2="101.73" stroke="#555" stroke-width="0.6"/>
<line x1="440.50" y1="98.18" x2="442.00" y2="98.18" stroke="#555" stroke-width="0.6"/>
<line x1="440.50" y1="94.62" x2="442.00" y2="94.62" stroke="#555" stroke-width="0.6"/>
<line x1="440.50" y1="91.06" x2="442.00" y2="91.06" stroke="#555" stroke-width="0.6"/>
<line x1="440.50" y1="87.51" x2="442.00" y2="87.51" stroke="#555" stroke-width="0.6"/>
<line x1="440.50" y1="83.95" x2="442.00" y2="83.95" stroke="#555" stroke-width="0.6"/>
<line x1="440.50" y1="80.40" x2="442.00" y2="80.40" stroke="#555" stroke-width="0.6"/>
<line x1="440.50" y1="76.84" x2="442.00" y2="76.84" stroke="#555" stroke-width="0.6"/>
<line x1="440.50" y1="73.28" x2="442.00" y2="73.28" stroke="#555" stroke-width="0.6"/>
<line x1="440.50" y1="69.73" x2="442.00" y2="69.73" stroke="#555" stroke-width="0.6"/>
<line x1="440.50" y1="66.17" x2="442.00" y2="66.17" stroke="#555" stroke-width="0.6"/>
<line x1="440.50" y1="62.62" x2="442.00" y2="62.62" stroke="#555" stroke-width="0.6"/>
<line x1="440.50" y1="59.06" x2="442.00" y2="59.06" stroke="#555" stroke-width="0.6"/>
<line x1="440.50" y1="55.50" x2="442.00" y2="55.50" stroke="#555" stroke-width="0.6"/>
<line x1="440.50" y1="51.95" x2="442.00" y2="51.95" stroke="#555" stroke-width="0.6"/>
<line x1="440.50" y1="48.39" x2="442.00" y2="48.39" stroke="#555" stroke-width="0.6"/>
<line x1="440.50" y1="44.84" x2="442.00" y2="44.84" stroke="#555" stroke-width="0.6"/>
<line x1="440.50" y1="41.28" x2="442.00" y2="41.28" stroke="#555" stroke-width="0.6"/>
<line x1="440.50" y1="37.72" x2="442.00" y2="37.72" stroke="#555" stroke-width="0.6"/>
<line x1="440.50" y1="34.17" x2="442.00" y2="34.17" stroke="#555" stroke-width="0.6"/>
<line x1="440.50" y1="30.61" x2="442.00" y2="30.61" stroke="#555" stroke-width="0.6"/>
<line x1="440.50" y1="27.06" x2="442.00" y2="27.06" stroke="#555" stroke-width="0.6"/>
<text transform="translate(420.20,68.50) rotate(-90)" x="0" y="4.13" font-size="12" text-anchor="middle" textLength="50.2" lengthAdjust="spacingAndGlyphs"  fill="#111" >% to max</text>
<line x1="486.40" y1="112.40" x2="486.40" y2="115.40" stroke="#222" stroke-width="1"/>
<text x="486.40" y="125.25" font-size="9.45" text-anchor="middle" fill="#111">10<tspan font-size="5.5" dy="-3.78">3</tspan></text>
<line x1="508.90" y1="112.40" x2="508.90" y2="115.40" stroke="#222" stroke-width="1"/>
<text x="508.90" y="125.25" font-size="9.45" text-anchor="middle" fill="#111">10<tspan font-size="5.5" dy="-3.78">4</tspan></text>
<line x1="528.30" y1="112.40" x2="528.30" y2="115.40" stroke="#222" stroke-width="1"/>
<text x="528.30" y="125.25" font-size="9.45" text-anchor="middle" fill="#111">10<tspan font-size="5.5" dy="-3.78">5</tspan></text>
<line x1="462.90" y1="112.40" x2="462.90" y2="115.40" stroke="#222" stroke-width="1"/>
<text x="462.90" y="124.87" font-size="9.5" text-anchor="middle"   fill="#111" >0</text>
<text x="440.40" y="137.93" font-size="12"  textLength="63.4" lengthAdjust="spacingAndGlyphs"  fill="#111" >CD103 - PE</text>
<line x1="510.50" y1="134.30" x2="642.70" y2="134.30" stroke="#111" stroke-width="1"/>
<polygon points="642.70,134.30 637.70,132.05 637.70,136.55" fill="#111"/>
<path d="M442.50,112.40 C442.83,112.37 443.13,112.40 444.50,112.20 C445.87,111.87 448.82,112.07 450.70,110.40 C452.58,108.73 454.27,106.98 455.80,102.20 C457.33,97.42 458.78,86.82 459.90,81.70 C461.02,76.58 461.65,71.50 462.50,71.50 C463.35,71.50 464.18,78.28 465.00,81.70 C465.82,85.12 466.45,90.80 467.40,92.00 C468.35,93.20 469.68,88.23 470.70,88.90 C471.72,89.57 472.58,92.42 473.50,96.00 C474.42,99.58 475.42,107.67 476.20,110.40 C476.98,112.40 468.23,112.07 478.20,112.40 L536.00,112.40" fill="none" stroke="#18d010" stroke-width="1.9" stroke-linejoin="round"/>
<path d="M442.50,112.40 C443.52,111.88 446.73,110.32 448.60,109.30 C450.47,108.28 452.00,108.52 453.70,106.30 C455.40,104.08 457.27,99.07 458.80,96.00 C460.33,92.93 461.70,90.45 462.90,87.90 C464.10,85.35 464.98,82.07 466.00,80.70 C467.02,79.33 467.98,79.53 469.00,79.70 C470.02,79.87 470.90,81.53 472.10,81.70 C473.30,81.87 475.00,81.20 476.20,80.70 C477.40,80.20 478.45,78.18 479.30,78.70 C480.15,79.22 480.45,81.77 481.30,83.80 C482.15,85.83 483.55,89.53 484.40,90.90 C485.25,92.27 485.55,89.78 486.40,92.00 C487.25,94.22 488.30,100.87 489.50,104.20 C490.70,107.53 492.52,110.63 493.60,112.00 C494.68,112.40 495.60,112.33 496.00,112.40" fill="none" stroke="#1a6fe0" stroke-width="1.9" stroke-linejoin="round"/>
<path d="M442.50,112.40 L480.30,112.40 C487.12,109.67 482.22,102.47 483.40,96.00 C484.58,89.53 486.22,75.98 487.40,73.60 C488.58,71.22 489.63,78.63 490.50,81.70 C491.37,84.77 491.75,87.57 492.60,92.00 C493.45,96.43 494.75,104.90 495.60,108.30 C496.45,111.70 490.97,111.72 497.70,112.40 L536.00,112.40" fill="none" stroke="#a020c0" stroke-width="1.9" stroke-linejoin="round"/>
<text x="561.00" y="10.38" font-size="11"  textLength="70.2" lengthAdjust="spacingAndGlyphs"  fill="#111" >Lamina propria</text>
<rect x="550.60" y="19.90" width="93.40" height="92.00" fill="none" stroke="#9a9a9a" stroke-width="1"/>
<line x1="547.10" y1="112.40" x2="550.10" y2="112.40" stroke="#222" stroke-width="1"/>
<line x1="547.10" y1="94.62" x2="550.10" y2="94.62" stroke="#222" stroke-width="1"/>
<line x1="547.10" y1="76.84" x2="550.10" y2="76.84" stroke="#222" stroke-width="1"/>
<line x1="547.10" y1="59.06" x2="550.10" y2="59.06" stroke="#222" stroke-width="1"/>
<line x1="547.10" y1="41.28" x2="550.10" y2="41.28" stroke="#222" stroke-width="1"/>
<line x1="547.10" y1="23.50" x2="550.10" y2="23.50" stroke="#222" stroke-width="1"/>
<line x1="548.60" y1="112.40" x2="550.10" y2="112.40" stroke="#555" stroke-width="0.6"/>
<line x1="548.60" y1="108.84" x2="550.10" y2="108.84" stroke="#555" stroke-width="0.6"/>
<line x1="548.60" y1="105.29" x2="550.10" y2="105.29" stroke="#555" stroke-width="0.6"/>
<line x1="548.60" y1="101.73" x2="550.10" y2="101.73" stroke="#555" stroke-width="0.6"/>
<line x1="548.60" y1="98.18" x2="550.10" y2="98.18" stroke="#555" stroke-width="0.6"/>
<line x1="548.60" y1="94.62" x2="550.10" y2="94.62" stroke="#555" stroke-width="0.6"/>
<line x1="548.60" y1="91.06" x2="550.10" y2="91.06" stroke="#555" stroke-width="0.6"/>
<line x1="548.60" y1="87.51" x2="550.10" y2="87.51" stroke="#555" stroke-width="0.6"/>
<line x1="548.60" y1="83.95" x2="550.10" y2="83.95" stroke="#555" stroke-width="0.6"/>
<line x1="548.60" y1="80.40" x2="550.10" y2="80.40" stroke="#555" stroke-width="0.6"/>
<line x1="548.60" y1="76.84" x2="550.10" y2="76.84" stroke="#555" stroke-width="0.6"/>
<line x1="548.60" y1="73.28" x2="550.10" y2="73.28" stroke="#555" stroke-width="0.6"/>
<line x1="548.60" y1="69.73" x2="550.10" y2="69.73" stroke="#555" stroke-width="0.6"/>
<line x1="548.60" y1="66.17" x2="550.10" y2="66.17" stroke="#555" stroke-width="0.6"/>
<line x1="548.60" y1="62.62" x2="550.10" y2="62.62" stroke="#555" stroke-width="0.6"/>
<line x1="548.60" y1="59.06" x2="550.10" y2="59.06" stroke="#555" stroke-width="0.6"/>
<line x1="548.60" y1="55.50" x2="550.10" y2="55.50" stroke="#555" stroke-width="0.6"/>
<line x1="548.60" y1="51.95" x2="550.10" y2="51.95" stroke="#555" stroke-width="0.6"/>
<line x1="548.60" y1="48.39" x2="550.10" y2="48.39" stroke="#555" stroke-width="0.6"/>
<line x1="548.60" y1="44.84" x2="550.10" y2="44.84" stroke="#555" stroke-width="0.6"/>
<line x1="548.60" y1="41.28" x2="550.10" y2="41.28" stroke="#555" stroke-width="0.6"/>
<line x1="548.60" y1="37.72" x2="550.10" y2="37.72" stroke="#555" stroke-width="0.6"/>
<line x1="548.60" y1="34.17" x2="550.10" y2="34.17" stroke="#555" stroke-width="0.6"/>
<line x1="548.60" y1="30.61" x2="550.10" y2="30.61" stroke="#555" stroke-width="0.6"/>
<line x1="548.60" y1="27.06" x2="550.10" y2="27.06" stroke="#555" stroke-width="0.6"/>
<line x1="595.00" y1="112.40" x2="595.00" y2="115.40" stroke="#222" stroke-width="1"/>
<text x="595.00" y="125.25" font-size="9.45" text-anchor="middle" fill="#111">10<tspan font-size="5.5" dy="-3.78">3</tspan></text>
<line x1="616.50" y1="112.40" x2="616.50" y2="115.40" stroke="#222" stroke-width="1"/>
<text x="616.50" y="125.25" font-size="9.45" text-anchor="middle" fill="#111">10<tspan font-size="5.5" dy="-3.78">4</tspan></text>
<line x1="636.00" y1="112.40" x2="636.00" y2="115.40" stroke="#222" stroke-width="1"/>
<text x="636.00" y="125.25" font-size="9.45" text-anchor="middle" fill="#111">10<tspan font-size="5.5" dy="-3.78">5</tspan></text>
<line x1="570.50" y1="112.40" x2="570.50" y2="115.40" stroke="#222" stroke-width="1"/>
<text x="570.50" y="124.87" font-size="9.5" text-anchor="middle"   fill="#111" >0</text>
<path d="M550.50,112.40 C551.97,112.33 556.98,112.40 559.30,112.00 C561.62,109.27 563.03,104.45 564.40,96.00 C565.77,87.55 566.48,70.48 567.50,61.30 C568.52,52.12 569.72,46.00 570.50,40.90 C571.28,35.80 571.52,30.37 572.20,30.70 C572.88,31.03 573.85,36.78 574.60,42.90 C575.35,49.02 575.85,59.22 576.70,67.40 C577.55,75.58 578.52,85.52 579.70,92.00 C580.88,98.48 582.43,102.97 583.80,106.30 C585.17,109.63 586.53,110.98 587.90,112.00 C589.27,112.40 591.32,112.33 592.00,112.40" fill="none" stroke="#1a6fe0" stroke-width="1.9" stroke-linejoin="round"/>
<path d="M550.50,112.40 C552.30,112.33 558.82,112.40 561.30,112.00 C563.78,108.93 564.30,101.43 565.40,94.00 C566.50,86.57 566.93,76.08 567.90,67.40 C568.87,58.72 570.25,44.97 571.20,41.90 C572.15,38.83 572.85,43.03 573.60,49.00 C574.35,54.97 574.85,69.18 575.70,77.70 C576.55,86.22 577.52,94.38 578.70,100.10 C579.88,105.82 581.58,109.95 582.80,112.00 C584.02,112.40 585.47,112.33 586.00,112.40" fill="none" stroke="#18d010" stroke-width="1.9" stroke-linejoin="round"/>
<path d="M550.50,112.40 C552.48,112.33 559.92,112.40 562.40,112.00 C564.88,109.27 564.28,100.02 565.40,96.00 C566.52,91.98 568.00,93.17 569.10,87.90 C570.20,82.63 571.25,65.77 572.00,64.40 C572.75,63.03 572.98,73.75 573.60,79.70 C574.22,85.65 574.85,96.02 575.70,100.10 C576.55,104.18 577.52,102.22 578.70,104.20 C579.88,106.18 571.92,110.63 582.80,112.00 L644.00,112.40" fill="none" stroke="#f01010" stroke-width="1.9" stroke-linejoin="round"/>
<rect x="45.10" y="152.60" width="93.40" height="92.40" fill="none" stroke="#9a9a9a" stroke-width="1"/>
<line x1="41.60" y1="245.50" x2="44.60" y2="245.50" stroke="#222" stroke-width="1"/>
<text x="40.60" y="248.91" font-size="9.9" text-anchor="end" textLength="4.74" lengthAdjust="spacingAndGlyphs"  fill="#111" >0</text>
<line x1="41.60" y1="227.64" x2="44.60" y2="227.64" stroke="#222" stroke-width="1"/>
<text x="40.60" y="231.05" font-size="9.9" text-anchor="end" textLength="9.47" lengthAdjust="spacingAndGlyphs"  fill="#111" >20</text>
<line x1="41.60" y1="209.78" x2="44.60" y2="209.78" stroke="#222" stroke-width="1"/>
<text x="40.60" y="213.19" font-size="9.9" text-anchor="end" textLength="9.47" lengthAdjust="spacingAndGlyphs"  fill="#111" >40</text>
<line x1="41.60" y1="191.92" x2="44.60" y2="191.92" stroke="#222" stroke-width="1"/>
<text x="40.60" y="195.33" font-size="9.9" text-anchor="end" textLength="9.47" lengthAdjust="spacingAndGlyphs"  fill="#111" >60</text>
<line x1="41.60" y1="174.06" x2="44.60" y2="174.06" stroke="#222" stroke-width="1"/>
<text x="40.60" y="177.47" font-size="9.9" text-anchor="end" textLength="9.47" lengthAdjust="spacingAndGlyphs"  fill="#111" >80</text>
<line x1="41.60" y1="156.20" x2="44.60" y2="156.20" stroke="#222" stroke-width="1"/>
<text x="40.60" y="159.61" font-size="9.9" text-anchor="end" textLength="14.21" lengthAdjust="spacingAndGlyphs"  fill="#111" >100</text>
<line x1="43.10" y1="245.50" x2="44.60" y2="245.50" stroke="#555" stroke-width="0.6"/>
<line x1="43.10" y1="241.93" x2="44.60" y2="241.93" stroke="#555" stroke-width="0.6"/>
<line x1="43.10" y1="238.36" x2="44.60" y2="238.36" stroke="#555" stroke-width="0.6"/>
<line x1="43.10" y1="234.78" x2="44.60" y2="234.78" stroke="#555" stroke-width="0.6"/>
<line x1="43.10" y1="231.21" x2="44.60" y2="231.21" stroke="#555" stroke-width="0.6"/>
<line x1="43.10" y1="227.64" x2="44.60" y2="227.64" stroke="#555" stroke-width="0.6"/>
<line x1="43.10" y1="224.07" x2="44.60" y2="224.07" stroke="#555" stroke-width="0.6"/>
<line x1="43.10" y1="220.50" x2="44.60" y2="220.50" stroke="#555" stroke-width="0.6"/>
<line x1="43.10" y1="216.92" x2="44.60" y2="216.92" stroke="#555" stroke-width="0.6"/>
<line x1="43.10" y1="213.35" x2="44.60" y2="213.35" stroke="#555" stroke-width="0.6"/>
<line x1="43.10" y1="209.78" x2="44.60" y2="209.78" stroke="#555" stroke-width="0.6"/>
<line x1="43.10" y1="206.21" x2="44.60" y2="206.21" stroke="#555" stroke-width="0.6"/>
<line x1="43.10" y1="202.64" x2="44.60" y2="202.64" stroke="#555" stroke-width="0.6"/>
<line x1="43.10" y1="199.06" x2="44.60" y2="199.06" stroke="#555" stroke-width="0.6"/>
<line x1="43.10" y1="195.49" x2="44.60" y2="195.49" stroke="#555" stroke-width="0.6"/>
<line x1="43.10" y1="191.92" x2="44.60" y2="191.92" stroke="#555" stroke-width="0.6"/>
<line x1="43.10" y1="188.35" x2="44.60" y2="188.35" stroke="#555" stroke-width="0.6"/>
<line x1="43.10" y1="184.78" x2="44.60" y2="184.78" stroke="#555" stroke-width="0.6"/>
<line x1="43.10" y1="181.20" x2="44.60" y2="181.20" stroke="#555" stroke-width="0.6"/>
<line x1="43.10" y1="177.63" x2="44.60" y2="177.63" stroke="#555" stroke-width="0.6"/>
<line x1="43.10" y1="174.06" x2="44.60" y2="174.06" stroke="#555" stroke-width="0.6"/>
<line x1="43.10" y1="170.49" x2="44.60" y2="170.49" stroke="#555" stroke-width="0.6"/>
<line x1="43.10" y1="166.92" x2="44.60" y2="166.92" stroke="#555" stroke-width="0.6"/>
<line x1="43.10" y1="163.34" x2="44.60" y2="163.34" stroke="#555" stroke-width="0.6"/>
<line x1="43.10" y1="159.77" x2="44.60" y2="159.77" stroke="#555" stroke-width="0.6"/>
<text transform="translate(20.90,204.60) rotate(-90)" x="0" y="3.65" font-size="10.6" text-anchor="middle" textLength="44.1" lengthAdjust="spacingAndGlyphs"  fill="#111" >% to max</text>
<line x1="52.00" y1="245.50" x2="52.00" y2="248.50" stroke="#222" stroke-width="1"/>
<text x="52.00" y="257.95" font-size="9.45" text-anchor="middle" fill="#111">10<tspan font-size="5.5" dy="-3.78">-3</tspan></text>
<line x1="82.80" y1="245.50" x2="82.80" y2="248.50" stroke="#222" stroke-width="1"/>
<text x="82.80" y="257.95" font-size="9.45" text-anchor="middle" fill="#111">10<tspan font-size="5.5" dy="-3.78">3</tspan></text>
<line x1="107.30" y1="245.50" x2="107.30" y2="248.50" stroke="#222" stroke-width="1"/>
<text x="107.30" y="257.95" font-size="9.45" text-anchor="middle" fill="#111">10<tspan font-size="5.5" dy="-3.78">4</tspan></text>
<line x1="129.80" y1="245.50" x2="129.80" y2="248.50" stroke="#222" stroke-width="1"/>
<text x="129.80" y="257.95" font-size="9.45" text-anchor="middle" fill="#111">10<tspan font-size="5.5" dy="-3.78">5</tspan></text>
<line x1="65.80" y1="245.50" x2="65.80" y2="248.50" stroke="#222" stroke-width="1"/>
<text x="65.80" y="258.40" font-size="9" text-anchor="middle"   fill="#111" >0</text>
<text x="44.00" y="270.88" font-size="11"  textLength="68.4" lengthAdjust="spacingAndGlyphs"  fill="#111" >CD56 - BV605</text>
<path d="M45.00,232.00 C45.67,231.67 47.72,234.73 49.00,230.00 C50.28,225.27 51.78,207.77 52.70,203.60 C53.62,199.43 53.75,207.38 54.50,205.00 C55.25,202.62 56.35,189.80 57.20,189.30 C58.05,188.80 58.75,200.30 59.60,202.00 C60.45,203.70 61.40,198.38 62.30,199.50 C63.20,200.62 63.80,207.68 65.00,208.70 C66.20,209.72 68.33,204.42 69.50,205.60 C70.67,206.78 71.05,212.57 72.00,215.80 C72.95,219.03 73.75,222.63 75.20,225.00 C76.65,227.37 78.58,227.43 80.70,230.00 C82.82,232.57 86.10,238.67 87.90,240.40 C89.70,242.13 90.15,241.93 91.50,240.40 C92.85,238.87 94.22,232.23 96.00,231.20 C97.78,230.17 100.55,236.77 102.20,234.20 C103.85,231.63 104.55,218.50 105.90,215.80 C107.25,213.10 108.87,219.18 110.30,218.00 C111.73,216.82 113.13,208.03 114.50,208.70 C115.87,209.37 116.80,217.07 118.50,222.00 C120.20,226.93 123.17,234.38 124.70,238.30 C126.23,242.22 127.20,244.30 127.70,245.50 L127.7,245.5 L45,245.5 Z" fill="#8c8c8c" stroke="#333" stroke-width="0.8"/>
<text x="93.60" y="208.33" font-size="12"  textLength="22.9" lengthAdjust="spacingAndGlyphs"  fill="#111" >36,4</text>
<line x1="88.30" y1="219.50" x2="135.30" y2="219.50" stroke="#444" stroke-width="1.2"/>
<line x1="88.30" y1="216.50" x2="88.30" y2="222.50" stroke="#444" stroke-width="1"/>
<line x1="135.30" y1="216.50" x2="135.30" y2="222.50" stroke="#444" stroke-width="1"/>
<line x1="125.70" y1="178.50" x2="165.70" y2="178.50" stroke="#111" stroke-width="1"/>
<polygon points="165.70,178.50 160.70,176.25 160.70,180.75" fill="#111"/>
<path d="M195.9,245.6 V153.2 H289.5" fill="none" stroke="#9a9a9a" stroke-width="1"/>
<line x1="195.40" y1="245.10" x2="289.50" y2="245.10" stroke="#9a9a9a" stroke-width="1"/>
<line x1="192.00" y1="160.40" x2="195.40" y2="160.40" stroke="#222" stroke-width="1"/>
<text x="191.50" y="163.65" font-size="9.45" text-anchor="end" fill="#111">10<tspan font-size="5.5" dy="-3.78">5</tspan></text>
<line x1="192.00" y1="180.90" x2="195.40" y2="180.90" stroke="#222" stroke-width="1"/>
<text x="191.50" y="184.15" font-size="9.45" text-anchor="end" fill="#111">10<tspan font-size="5.5" dy="-3.78">4</tspan></text>
<line x1="192.00" y1="204.30" x2="195.40" y2="204.30" stroke="#222" stroke-width="1"/>
<text x="191.50" y="207.55" font-size="9.45" text-anchor="end" fill="#111">10<tspan font-size="5.5" dy="-3.78">3</tspan></text>
<line x1="192.00" y1="225.80" x2="195.40" y2="225.80" stroke="#222" stroke-width="1"/>
<text x="190.80" y="229.50" font-size="9" text-anchor="end"   fill="#111" >0</text>
<line x1="195.40" y1="204.30" x2="195.40" y2="204.30" stroke="#222" stroke-width="1"/>
<line x1="195.40" y1="180.90" x2="195.40" y2="180.90" stroke="#222" stroke-width="1"/>
<line x1="195.40" y1="160.40" x2="195.40" y2="160.40" stroke="#222" stroke-width="1"/>
<line x1="193.90" y1="197.26" x2="195.40" y2="197.26" stroke="#555" stroke-width="0.7"/>
<line x1="193.90" y1="193.14" x2="195.40" y2="193.14" stroke="#555" stroke-width="0.7"/>
<line x1="193.90" y1="190.21" x2="195.40" y2="190.21" stroke="#555" stroke-width="0.7"/>
<line x1="193.90" y1="187.94" x2="195.40" y2="187.94" stroke="#555" stroke-width="0.7"/>
<line x1="193.90" y1="186.09" x2="195.40" y2="186.09" stroke="#555" stroke-width="0.7"/>
<line x1="193.90" y1="184.52" x2="195.40" y2="184.52" stroke="#555" stroke-width="0.7"/>
<line x1="193.90" y1="183.17" x2="195.40" y2="183.17" stroke="#555" stroke-width="0.7"/>
<line x1="193.90" y1="181.97" x2="195.40" y2="181.97" stroke="#555" stroke-width="0.7"/>
<line x1="193.90" y1="174.73" x2="195.40" y2="174.73" stroke="#555" stroke-width="0.7"/>
<line x1="193.90" y1="171.12" x2="195.40" y2="171.12" stroke="#555" stroke-width="0.7"/>
<line x1="193.90" y1="168.56" x2="195.40" y2="168.56" stroke="#555" stroke-width="0.7"/>
<line x1="193.90" y1="166.57" x2="195.40" y2="166.57" stroke="#555" stroke-width="0.7"/>
<line x1="193.90" y1="164.95" x2="195.40" y2="164.95" stroke="#555" stroke-width="0.7"/>
<line x1="193.90" y1="163.58" x2="195.40" y2="163.58" stroke="#555" stroke-width="0.7"/>
<line x1="193.90" y1="162.39" x2="195.40" y2="162.39" stroke="#555" stroke-width="0.7"/>
<line x1="193.90" y1="161.34" x2="195.40" y2="161.34" stroke="#555" stroke-width="0.7"/>
<text transform="translate(172.70,228.60) rotate(-90)" x="0" y="3.78" font-size="11" text-anchor="middle" textLength="56" lengthAdjust="spacingAndGlyphs"  fill="#111" >CD103 - PE</text>
<line x1="204.20" y1="245.60" x2="204.20" y2="248.60" stroke="#222" stroke-width="1"/>
<text x="204.20" y="258.25" font-size="9.45" text-anchor="middle" fill="#111">10<tspan font-size="5.5" dy="-3.78">-3</tspan></text>
<line x1="234.60" y1="245.60" x2="234.60" y2="248.60" stroke="#222" stroke-width="1"/>
<text x="234.60" y="258.25" font-size="9.45" text-anchor="middle" fill="#111">10<tspan font-size="5.5" dy="-3.78">3</tspan></text>
<line x1="258.00" y1="245.60" x2="258.00" y2="248.60" stroke="#222" stroke-width="1"/>
<text x="258.00" y="258.25" font-size="9.45" text-anchor="middle" fill="#111">10<tspan font-size="5.5" dy="-3.78">4</tspan></text>
<line x1="280.00" y1="245.60" x2="280.00" y2="248.60" stroke="#222" stroke-width="1"/>
<text x="280.00" y="258.25" font-size="9.45" text-anchor="middle" fill="#111">10<tspan font-size="5.5" dy="-3.78">5</tspan></text>
<line x1="216.60" y1="245.60" x2="216.60" y2="248.60" stroke="#222" stroke-width="1"/>
<text x="216.60" y="258.70" font-size="9" text-anchor="middle"   fill="#111" >0</text>
<line x1="234.60" y1="245.60" x2="234.60" y2="245.60" stroke="#222" stroke-width="1"/>
<line x1="258.00" y1="245.60" x2="258.00" y2="245.60" stroke="#222" stroke-width="1"/>
<line x1="280.00" y1="245.60" x2="280.00" y2="245.60" stroke="#222" stroke-width="1"/>
<line x1="241.64" y1="245.60" x2="241.64" y2="247.10" stroke="#555" stroke-width="0.7"/>
<line x1="245.76" y1="245.60" x2="245.76" y2="247.10" stroke="#555" stroke-width="0.7"/>
<line x1="248.69" y1="245.60" x2="248.69" y2="247.10" stroke="#555" stroke-width="0.7"/>
<line x1="250.96" y1="245.60" x2="250.96" y2="247.10" stroke="#555" stroke-width="0.7"/>
<line x1="252.81" y1="245.60" x2="252.81" y2="247.10" stroke="#555" stroke-width="0.7"/>
<line x1="254.38" y1="245.60" x2="254.38" y2="247.10" stroke="#555" stroke-width="0.7"/>
<line x1="255.73" y1="245.60" x2="255.73" y2="247.10" stroke="#555" stroke-width="0.7"/>
<line x1="256.93" y1="245.60" x2="256.93" y2="247.10" stroke="#555" stroke-width="0.7"/>
<line x1="264.62" y1="245.60" x2="264.62" y2="247.10" stroke="#555" stroke-width="0.7"/>
<line x1="268.50" y1="245.60" x2="268.50" y2="247.10" stroke="#555" stroke-width="0.7"/>
<line x1="271.25" y1="245.60" x2="271.25" y2="247.10" stroke="#555" stroke-width="0.7"/>
<line x1="273.38" y1="245.60" x2="273.38" y2="247.10" stroke="#555" stroke-width="0.7"/>
<line x1="275.12" y1="245.60" x2="275.12" y2="247.10" stroke="#555" stroke-width="0.7"/>
<line x1="276.59" y1="245.60" x2="276.59" y2="247.10" stroke="#555" stroke-width="0.7"/>
<line x1="277.87" y1="245.60" x2="277.87" y2="247.10" stroke="#555" stroke-width="0.7"/>
<line x1="278.99" y1="245.60" x2="278.99" y2="247.10" stroke="#555" stroke-width="0.7"/>
<text x="198.40" y="271.68" font-size="11"  textLength="63.1" lengthAdjust="spacingAndGlyphs"  fill="#111" >NKp44 - APC</text>
<line x1="273.00" y1="267.80" x2="399.80" y2="267.80" stroke="#111" stroke-width="1"/>
<polygon points="399.80,267.80 394.80,265.55 394.80,270.05" fill="#111"/>
<path d="M228.00,203.00 C231.00,200.00 239.00,203.83 244.00,204.00 C249.00,204.17 256.33,202.33 258.00,204.00 C259.67,205.67 255.67,210.33 254.00,214.00 C252.33,217.67 250.17,222.50 248.00,226.00 C245.83,229.50 243.83,233.33 241.00,235.00 C238.17,236.67 233.50,238.17 231.00,236.00 C228.50,233.83 226.50,227.50 226.00,222.00 C225.50,216.50 225.00,206.00 228.00,203.00Z" fill="none" stroke="#333" stroke-opacity="0.55" stroke-width="0.5"/>
<path d="M229.95,205.44 C232.46,202.93 239.16,206.14 243.35,206.28 C247.54,206.41 253.68,204.88 255.07,206.28 C256.47,207.67 253.12,211.58 251.72,214.65 C250.33,217.72 248.51,221.77 246.70,224.70 C244.89,227.63 243.21,230.84 240.84,232.24 C238.46,233.63 234.56,234.89 232.46,233.07 C230.37,231.26 228.69,225.96 228.28,221.35 C227.86,216.74 227.44,207.95 229.95,205.44Z" fill="none" stroke="#333" stroke-opacity="0.55" stroke-width="0.5"/>
<path d="M231.90,207.88 C233.93,205.85 239.32,208.44 242.70,208.55 C246.07,208.66 251.03,207.43 252.15,208.55 C253.28,209.68 250.57,212.83 249.45,215.30 C248.32,217.78 246.86,221.04 245.40,223.40 C243.94,225.76 242.59,228.35 240.68,229.47 C238.76,230.60 235.61,231.61 233.93,230.15 C232.24,228.69 230.89,224.41 230.55,220.70 C230.21,216.99 229.88,209.90 231.90,207.88Z" fill="none" stroke="#333" stroke-opacity="0.55" stroke-width="0.5"/>
<path d="M233.85,210.31 C235.39,208.78 239.49,210.74 242.05,210.82 C244.61,210.91 248.37,209.97 249.22,210.82 C250.08,211.68 248.03,214.07 247.18,215.95 C246.32,217.83 245.21,220.31 244.10,222.10 C242.99,223.89 241.96,225.86 240.51,226.71 C239.06,227.57 236.67,228.34 235.39,227.22 C234.11,226.11 233.08,222.87 232.82,220.05 C232.57,217.23 232.31,211.85 233.85,210.31Z" fill="none" stroke="#333" stroke-opacity="0.55" stroke-width="0.5"/>
<path d="M235.80,212.75 C236.85,211.70 239.65,213.04 241.40,213.10 C243.15,213.16 245.72,212.52 246.30,213.10 C246.88,213.68 245.48,215.32 244.90,216.60 C244.32,217.88 243.56,219.58 242.80,220.80 C242.04,222.03 241.34,223.37 240.35,223.95 C239.36,224.53 237.72,225.06 236.85,224.30 C235.97,223.54 235.27,221.33 235.10,219.40 C234.93,217.47 234.75,213.80 235.80,212.75Z" fill="none" stroke="#333" stroke-opacity="0.55" stroke-width="0.5"/>
<path d="M231.45,219.35 C230.63,222.65 229.31,226.17 227.85,228.97 C226.39,231.76 224.50,234.37 222.69,236.11 C220.89,237.84 218.80,239.03 217.01,239.37 C215.21,239.70 213.34,239.23 211.91,238.10 C210.48,236.96 209.20,234.93 208.42,232.55 C207.63,230.17 207.20,226.97 207.22,223.82 C207.24,220.67 207.73,216.94 208.55,213.65 C209.37,210.35 210.69,206.83 212.15,204.03 C213.61,201.24 215.50,198.63 217.31,196.89 C219.11,195.16 221.20,193.97 222.99,193.63 C224.79,193.30 226.66,193.77 228.09,194.90 C229.52,196.04 230.80,198.07 231.58,200.45 C232.37,202.83 232.80,206.03 232.78,209.18 C232.76,212.33 232.27,216.06 231.45,219.35Z" fill="rgb(215,215,215)" stroke="#333" stroke-opacity="0.5" stroke-width="0.4"/>
<path d="M230.37,219.09 C229.62,222.07 228.43,225.26 227.11,227.79 C225.79,230.32 224.08,232.69 222.44,234.26 C220.80,235.83 218.92,236.91 217.29,237.21 C215.66,237.51 213.97,237.08 212.67,236.06 C211.38,235.03 210.22,233.19 209.51,231.03 C208.80,228.88 208.40,225.98 208.42,223.13 C208.45,220.28 208.89,216.90 209.63,213.91 C210.38,210.93 211.57,207.74 212.89,205.21 C214.21,202.68 215.92,200.31 217.56,198.74 C219.20,197.17 221.08,196.09 222.71,195.79 C224.34,195.49 226.03,195.92 227.33,196.94 C228.62,197.97 229.78,199.81 230.49,201.97 C231.20,204.12 231.60,207.02 231.58,209.87 C231.55,212.72 231.11,216.10 230.37,219.09Z" fill="rgb(185,185,185)" stroke="#333" stroke-opacity="0.5" stroke-width="0.4"/>
<path d="M229.29,218.82 C228.62,221.49 227.55,224.35 226.37,226.61 C225.18,228.88 223.65,231.00 222.18,232.40 C220.72,233.81 219.03,234.78 217.57,235.05 C216.11,235.32 214.60,234.94 213.44,234.02 C212.28,233.09 211.24,231.45 210.60,229.52 C209.97,227.59 209.61,224.99 209.63,222.44 C209.65,219.88 210.05,216.86 210.71,214.18 C211.38,211.51 212.45,208.65 213.63,206.39 C214.82,204.12 216.35,202.00 217.82,200.60 C219.28,199.19 220.97,198.22 222.43,197.95 C223.89,197.68 225.40,198.06 226.56,198.98 C227.72,199.91 228.76,201.55 229.40,203.48 C230.03,205.41 230.39,208.01 230.37,210.56 C230.35,213.12 229.95,216.14 229.29,218.82Z" fill="rgb(150,150,150)" stroke="#333" stroke-opacity="0.5" stroke-width="0.4"/>
<path d="M228.21,218.55 C227.62,220.91 226.67,223.43 225.63,225.43 C224.58,227.43 223.23,229.31 221.93,230.55 C220.64,231.79 219.14,232.65 217.85,232.89 C216.57,233.12 215.23,232.79 214.20,231.98 C213.18,231.16 212.26,229.71 211.70,228.00 C211.14,226.30 210.82,224.00 210.84,221.75 C210.86,219.49 211.21,216.82 211.79,214.45 C212.38,212.09 213.33,209.57 214.37,207.57 C215.42,205.57 216.77,203.69 218.07,202.45 C219.36,201.21 220.86,200.35 222.15,200.11 C223.43,199.88 224.77,200.21 225.80,201.02 C226.82,201.84 227.74,203.29 228.30,205.00 C228.86,206.70 229.18,209.00 229.16,211.25 C229.14,213.51 228.79,216.18 228.21,218.55Z" fill="rgb(110,110,110)" stroke="#333" stroke-opacity="0.5" stroke-width="0.4"/>
<path d="M227.12,218.28 C226.61,220.33 225.79,222.52 224.88,224.26 C223.98,225.99 222.80,227.62 221.68,228.70 C220.55,229.78 219.25,230.52 218.14,230.73 C217.02,230.93 215.86,230.64 214.97,229.94 C214.08,229.23 213.28,227.97 212.79,226.49 C212.31,225.00 212.03,223.02 212.05,221.06 C212.06,219.10 212.36,216.78 212.88,214.72 C213.39,212.67 214.21,210.48 215.12,208.74 C216.02,207.01 217.20,205.38 218.32,204.30 C219.45,203.22 220.75,202.48 221.86,202.27 C222.98,202.07 224.14,202.36 225.03,203.06 C225.92,203.77 226.72,205.03 227.21,206.51 C227.69,208.00 227.97,209.98 227.95,211.94 C227.94,213.90 227.64,216.22 227.12,218.28Z" fill="rgb(75,75,75)" stroke="#333" stroke-opacity="0.5" stroke-width="0.4"/>
<path d="M226.04,218.01 C225.61,219.75 224.91,221.61 224.14,223.08 C223.37,224.55 222.38,225.93 221.42,226.85 C220.47,227.76 219.37,228.39 218.42,228.57 C217.47,228.74 216.49,228.50 215.73,227.90 C214.97,227.30 214.30,226.23 213.89,224.97 C213.47,223.71 213.24,222.03 213.25,220.36 C213.27,218.70 213.52,216.73 213.96,214.99 C214.39,213.25 215.09,211.39 215.86,209.92 C216.63,208.45 217.62,207.07 218.58,206.15 C219.53,205.24 220.63,204.61 221.58,204.43 C222.53,204.26 223.51,204.50 224.27,205.10 C225.03,205.70 225.70,206.77 226.11,208.03 C226.53,209.29 226.76,210.97 226.75,212.64 C226.73,214.30 226.48,216.27 226.04,218.01Z" fill="rgb(55,55,55)" stroke="#333" stroke-opacity="0.5" stroke-width="0.4"/>
<path d="M224.96,217.74 C224.61,219.17 224.03,220.69 223.40,221.90 C222.77,223.11 221.95,224.25 221.17,225.00 C220.38,225.75 219.48,226.26 218.70,226.41 C217.92,226.55 217.11,226.35 216.49,225.86 C215.87,225.37 215.32,224.48 214.98,223.45 C214.64,222.42 214.45,221.04 214.46,219.67 C214.47,218.31 214.68,216.69 215.04,215.26 C215.39,213.83 215.97,212.31 216.60,211.10 C217.23,209.89 218.05,208.75 218.83,208.00 C219.62,207.25 220.52,206.74 221.30,206.59 C222.08,206.45 222.89,206.65 223.51,207.14 C224.13,207.63 224.68,208.52 225.02,209.55 C225.36,210.58 225.55,211.96 225.54,213.33 C225.53,214.69 225.32,216.31 224.96,217.74Z" fill="rgb(45,45,45)" stroke="#333" stroke-opacity="0.5" stroke-width="0.4"/>
<path d="M223.88,217.47 C223.60,218.59 223.15,219.78 222.66,220.72 C222.17,221.67 221.53,222.56 220.91,223.14 C220.30,223.73 219.59,224.14 218.99,224.25 C218.38,224.36 217.74,224.20 217.26,223.82 C216.77,223.43 216.34,222.74 216.07,221.94 C215.81,221.13 215.66,220.05 215.67,218.98 C215.68,217.91 215.84,216.65 216.12,215.53 C216.40,214.41 216.85,213.22 217.34,212.28 C217.83,211.33 218.47,210.44 219.09,209.86 C219.70,209.27 220.41,208.86 221.01,208.75 C221.62,208.64 222.26,208.80 222.74,209.18 C223.23,209.57 223.66,210.26 223.93,211.06 C224.19,211.87 224.34,212.95 224.33,214.02 C224.32,215.09 224.16,216.35 223.88,217.47Z" fill="rgb(55,55,55)" stroke="#333" stroke-opacity="0.5" stroke-width="0.4"/>
<path d="M222.80,217.20 C222.60,218.00 222.28,218.86 221.92,219.55 C221.56,220.23 221.10,220.87 220.66,221.29 C220.22,221.72 219.71,222.01 219.27,222.09 C218.83,222.17 218.37,222.06 218.02,221.78 C217.67,221.50 217.36,221.00 217.17,220.42 C216.98,219.84 216.87,219.06 216.88,218.29 C216.88,217.52 217.00,216.61 217.20,215.80 C217.40,215.00 217.72,214.14 218.08,213.45 C218.44,212.77 218.90,212.13 219.34,211.71 C219.78,211.28 220.29,210.99 220.73,210.91 C221.17,210.83 221.63,210.94 221.98,211.22 C222.33,211.50 222.64,212.00 222.83,212.58 C223.02,213.16 223.13,213.94 223.12,214.71 C223.12,215.48 223.00,216.39 222.80,217.20Z" fill="rgb(90,90,90)" stroke="#333" stroke-opacity="0.5" stroke-width="0.4"/>
<path d="M221.72,216.93 C221.59,217.42 221.40,217.95 221.18,218.37 C220.96,218.79 220.68,219.18 220.40,219.44 C220.13,219.70 219.82,219.88 219.55,219.93 C219.28,219.98 219.00,219.91 218.79,219.74 C218.57,219.57 218.38,219.26 218.26,218.91 C218.15,218.55 218.08,218.07 218.08,217.60 C218.09,217.13 218.16,216.57 218.28,216.07 C218.41,215.58 218.60,215.05 218.82,214.63 C219.04,214.21 219.32,213.82 219.60,213.56 C219.87,213.30 220.18,213.12 220.45,213.07 C220.72,213.02 221.00,213.09 221.21,213.26 C221.43,213.43 221.62,213.74 221.74,214.09 C221.85,214.45 221.92,214.93 221.92,215.40 C221.91,215.87 221.84,216.43 221.72,216.93Z" fill="rgb(140,140,140)" stroke="#333" stroke-opacity="0.5" stroke-width="0.4"/>
<path d="M234.40,194.00 C235.73,192.37 239.07,191.73 242.00,191.20 C244.93,190.67 248.83,190.50 252.00,190.80 C255.17,191.10 259.00,191.72 261.00,193.00 C263.00,194.28 264.17,196.67 264.00,198.50 C263.83,200.33 262.33,202.75 260.00,204.00 C257.67,205.25 253.67,205.67 250.00,206.00 C246.33,206.33 240.67,206.83 238.00,206.00 C235.33,205.17 234.60,203.00 234.00,201.00 C233.40,199.00 233.07,195.63 234.40,194.00Z" fill="rgb(215,215,215)" stroke="#333" stroke-opacity="0.5" stroke-width="0.4"/>
<path d="M235.95,194.53 C237.14,193.07 240.12,192.51 242.74,192.03 C245.37,191.55 248.85,191.40 251.68,191.67 C254.51,191.94 257.94,192.49 259.73,193.64 C261.51,194.78 262.56,196.91 262.41,198.55 C262.26,200.19 260.92,202.35 258.83,203.47 C256.75,204.59 253.17,204.96 249.89,205.26 C246.62,205.55 241.55,206.00 239.17,205.26 C236.79,204.51 236.13,202.57 235.59,200.79 C235.06,199.00 234.76,195.99 235.95,194.53Z" fill="rgb(195,195,195)" stroke="#333" stroke-opacity="0.5" stroke-width="0.4"/>
<path d="M237.50,195.06 C238.55,193.78 241.18,193.28 243.49,192.86 C245.80,192.44 248.87,192.31 251.36,192.54 C253.86,192.78 256.88,193.26 258.45,194.28 C260.02,195.29 260.94,197.16 260.81,198.61 C260.68,200.05 259.50,201.95 257.66,202.94 C255.83,203.92 252.68,204.25 249.79,204.51 C246.90,204.77 242.44,205.17 240.34,204.51 C238.24,203.86 237.66,202.15 237.19,200.57 C236.72,199.00 236.45,196.35 237.50,195.06Z" fill="rgb(170,170,170)" stroke="#333" stroke-opacity="0.5" stroke-width="0.4"/>
<path d="M239.05,195.59 C239.96,194.48 242.23,194.05 244.23,193.69 C246.23,193.32 248.89,193.21 251.04,193.41 C253.20,193.62 255.81,194.04 257.18,194.91 C258.54,195.79 259.33,197.41 259.22,198.66 C259.11,199.91 258.08,201.55 256.49,202.41 C254.90,203.26 252.18,203.54 249.68,203.77 C247.18,204.00 243.32,204.34 241.51,203.77 C239.69,203.20 239.19,201.73 238.78,200.36 C238.37,199.00 238.15,196.71 239.05,195.59Z" fill="rgb(140,140,140)" stroke="#333" stroke-opacity="0.5" stroke-width="0.4"/>
<path d="M240.61,196.12 C241.37,195.19 243.29,194.82 244.97,194.51 C246.66,194.21 248.90,194.11 250.72,194.28 C252.55,194.46 254.75,194.81 255.90,195.55 C257.05,196.29 257.72,197.66 257.62,198.71 C257.53,199.77 256.67,201.16 255.32,201.88 C253.98,202.59 251.68,202.83 249.57,203.03 C247.47,203.22 244.21,203.50 242.68,203.03 C241.14,202.55 240.72,201.30 240.38,200.15 C240.03,199.00 239.84,197.06 240.61,196.12Z" fill="rgb(110,110,110)" stroke="#333" stroke-opacity="0.5" stroke-width="0.4"/>
<path d="M242.16,196.66 C242.78,195.89 244.34,195.59 245.72,195.34 C247.09,195.09 248.92,195.02 250.41,195.16 C251.89,195.30 253.69,195.59 254.62,196.19 C255.56,196.79 256.11,197.91 256.03,198.77 C255.95,199.62 255.25,200.76 254.16,201.34 C253.06,201.93 251.19,202.12 249.47,202.28 C247.75,202.44 245.09,202.67 243.84,202.28 C242.59,201.89 242.25,200.88 241.97,199.94 C241.69,199.00 241.53,197.42 242.16,196.66Z" fill="rgb(90,90,90)" stroke="#333" stroke-opacity="0.5" stroke-width="0.4"/>
<path d="M243.71,197.19 C244.19,196.60 245.40,196.37 246.46,196.17 C247.53,195.98 248.94,195.92 250.09,196.03 C251.24,196.14 252.62,196.36 253.35,196.82 C254.07,197.29 254.50,198.15 254.44,198.82 C254.38,199.48 253.83,200.36 252.99,200.81 C252.14,201.27 250.69,201.42 249.36,201.54 C248.03,201.66 245.98,201.84 245.01,201.54 C244.05,201.24 243.78,200.45 243.56,199.72 C243.34,199.00 243.22,197.78 243.71,197.19Z" fill="rgb(80,80,80)" stroke="#333" stroke-opacity="0.5" stroke-width="0.4"/>
<path d="M245.26,197.72 C245.60,197.30 246.45,197.14 247.21,197.00 C247.96,196.86 248.96,196.82 249.77,196.90 C250.58,196.98 251.56,197.13 252.07,197.46 C252.59,197.79 252.89,198.40 252.84,198.87 C252.80,199.34 252.42,199.96 251.82,200.28 C251.22,200.60 250.20,200.71 249.26,200.79 C248.32,200.88 246.86,201.01 246.18,200.79 C245.50,200.58 245.31,200.02 245.16,199.51 C245.00,199.00 244.92,198.14 245.26,197.72Z" fill="rgb(100,100,100)" stroke="#333" stroke-opacity="0.5" stroke-width="0.4"/>
<path d="M246.81,198.25 C247.01,198.00 247.51,197.91 247.95,197.83 C248.39,197.75 248.97,197.73 249.45,197.77 C249.92,197.81 250.50,197.91 250.80,198.10 C251.10,198.29 251.28,198.65 251.25,198.93 C251.22,199.20 251.00,199.56 250.65,199.75 C250.30,199.94 249.70,200.00 249.15,200.05 C248.60,200.10 247.75,200.18 247.35,200.05 C246.95,199.93 246.84,199.60 246.75,199.30 C246.66,199.00 246.61,198.50 246.81,198.25Z" fill="rgb(150,150,150)" stroke="#333" stroke-opacity="0.5" stroke-width="0.4"/>
<rect x="236.30" y="186.20" width="46.40" height="19.40" stroke="#a11fb1" stroke-width="2.1" fill="none"/>
<text x="254.50" y="181.43" font-size="12"  textLength="23.3" lengthAdjust="spacingAndGlyphs"  fill="#111" >16,3</text>
<path d="M312.7,245.6 V153.2 H406.3" fill="none" stroke="#9a9a9a" stroke-width="1"/>
<line x1="312.20" y1="245.10" x2="406.30" y2="245.10" stroke="#9a9a9a" stroke-width="1"/>
<line x1="308.80" y1="160.40" x2="312.20" y2="160.40" stroke="#222" stroke-width="1"/>
<line x1="308.80" y1="180.90" x2="312.20" y2="180.90" stroke="#222" stroke-width="1"/>
<line x1="308.80" y1="204.30" x2="312.20" y2="204.30" stroke="#222" stroke-width="1"/>
<line x1="308.80" y1="225.80" x2="312.20" y2="225.80" stroke="#222" stroke-width="1"/>
<line x1="312.20" y1="204.30" x2="312.20" y2="204.30" stroke="#222" stroke-width="1"/>
<line x1="312.20" y1="180.90" x2="312.20" y2="180.90" stroke="#222" stroke-width="1"/>
<line x1="312.20" y1="160.40" x2="312.20" y2="160.40" stroke="#222" stroke-width="1"/>
<line x1="310.70" y1="197.26" x2="312.20" y2="197.26" stroke="#555" stroke-width="0.7"/>
<line x1="310.70" y1="193.14" x2="312.20" y2="193.14" stroke="#555" stroke-width="0.7"/>
<line x1="310.70" y1="190.21" x2="312.20" y2="190.21" stroke="#555" stroke-width="0.7"/>
<line x1="310.70" y1="187.94" x2="312.20" y2="187.94" stroke="#555" stroke-width="0.7"/>
<line x1="310.70" y1="186.09" x2="312.20" y2="186.09" stroke="#555" stroke-width="0.7"/>
<line x1="310.70" y1="184.52" x2="312.20" y2="184.52" stroke="#555" stroke-width="0.7"/>
<line x1="310.70" y1="183.17" x2="312.20" y2="183.17" stroke="#555" stroke-width="0.7"/>
<line x1="310.70" y1="181.97" x2="312.20" y2="181.97" stroke="#555" stroke-width="0.7"/>
<line x1="310.70" y1="174.73" x2="312.20" y2="174.73" stroke="#555" stroke-width="0.7"/>
<line x1="310.70" y1="171.12" x2="312.20" y2="171.12" stroke="#555" stroke-width="0.7"/>
<line x1="310.70" y1="168.56" x2="312.20" y2="168.56" stroke="#555" stroke-width="0.7"/>
<line x1="310.70" y1="166.57" x2="312.20" y2="166.57" stroke="#555" stroke-width="0.7"/>
<line x1="310.70" y1="164.95" x2="312.20" y2="164.95" stroke="#555" stroke-width="0.7"/>
<line x1="310.70" y1="163.58" x2="312.20" y2="163.58" stroke="#555" stroke-width="0.7"/>
<line x1="310.70" y1="162.39" x2="312.20" y2="162.39" stroke="#555" stroke-width="0.7"/>
<line x1="310.70" y1="161.34" x2="312.20" y2="161.34" stroke="#555" stroke-width="0.7"/>
<line x1="319.20" y1="245.60" x2="319.20" y2="248.60" stroke="#222" stroke-width="1"/>
<text x="319.20" y="258.25" font-size="9.45" text-anchor="middle" fill="#111">10<tspan font-size="5.5" dy="-3.78">-3</tspan></text>
<line x1="351.20" y1="245.60" x2="351.20" y2="248.60" stroke="#222" stroke-width="1"/>
<text x="351.20" y="258.25" font-size="9.45" text-anchor="middle" fill="#111">10<tspan font-size="5.5" dy="-3.78">3</tspan></text>
<line x1="374.60" y1="245.60" x2="374.60" y2="248.60" stroke="#222" stroke-width="1"/>
<text x="374.60" y="258.25" font-size="9.45" text-anchor="middle" fill="#111">10<tspan font-size="5.5" dy="-3.78">4</tspan></text>
<line x1="397.50" y1="245.60" x2="397.50" y2="248.60" stroke="#222" stroke-width="1"/>
<text x="397.50" y="258.25" font-size="9.45" text-anchor="middle" fill="#111">10<tspan font-size="5.5" dy="-3.78">5</tspan></text>
<line x1="333.20" y1="245.60" x2="333.20" y2="248.60" stroke="#222" stroke-width="1"/>
<text x="333.20" y="258.70" font-size="9" text-anchor="middle"   fill="#111" >0</text>
<line x1="351.20" y1="245.60" x2="351.20" y2="245.60" stroke="#222" stroke-width="1"/>
<line x1="374.60" y1="245.60" x2="374.60" y2="245.60" stroke="#222" stroke-width="1"/>
<line x1="397.50" y1="245.60" x2="397.50" y2="245.60" stroke="#222" stroke-width="1"/>
<line x1="358.24" y1="245.60" x2="358.24" y2="247.10" stroke="#555" stroke-width="0.7"/>
<line x1="362.36" y1="245.60" x2="362.36" y2="247.10" stroke="#555" stroke-width="0.7"/>
<line x1="365.29" y1="245.60" x2="365.29" y2="247.10" stroke="#555" stroke-width="0.7"/>
<line x1="367.56" y1="245.60" x2="367.56" y2="247.10" stroke="#555" stroke-width="0.7"/>
<line x1="369.41" y1="245.60" x2="369.41" y2="247.10" stroke="#555" stroke-width="0.7"/>
<line x1="370.98" y1="245.60" x2="370.98" y2="247.10" stroke="#555" stroke-width="0.7"/>
<line x1="372.33" y1="245.60" x2="372.33" y2="247.10" stroke="#555" stroke-width="0.7"/>
<line x1="373.53" y1="245.60" x2="373.53" y2="247.10" stroke="#555" stroke-width="0.7"/>
<line x1="381.49" y1="245.60" x2="381.49" y2="247.10" stroke="#555" stroke-width="0.7"/>
<line x1="385.53" y1="245.60" x2="385.53" y2="247.10" stroke="#555" stroke-width="0.7"/>
<line x1="388.39" y1="245.60" x2="388.39" y2="247.10" stroke="#555" stroke-width="0.7"/>
<line x1="390.61" y1="245.60" x2="390.61" y2="247.10" stroke="#555" stroke-width="0.7"/>
<line x1="392.42" y1="245.60" x2="392.42" y2="247.10" stroke="#555" stroke-width="0.7"/>
<line x1="393.95" y1="245.60" x2="393.95" y2="247.10" stroke="#555" stroke-width="0.7"/>
<line x1="395.28" y1="245.60" x2="395.28" y2="247.10" stroke="#555" stroke-width="0.7"/>
<line x1="396.45" y1="245.60" x2="396.45" y2="247.10" stroke="#555" stroke-width="0.7"/>
<path d="M338.00,215.00 C340.00,212.30 346.17,214.30 350.00,214.80 C353.83,215.30 358.65,216.55 361.00,218.00 C363.35,219.45 364.10,221.67 364.10,223.50 C364.10,225.33 363.35,227.63 361.00,229.00 C358.65,230.37 353.83,231.37 350.00,231.70 C346.17,232.03 340.00,233.78 338.00,231.00 C336.00,228.22 336.00,217.70 338.00,215.00Z" fill="none" stroke="#333" stroke-opacity="0.6" stroke-width="0.5"/>
<path d="M339.57,216.80 C341.12,214.71 345.90,216.26 348.88,216.65 C351.85,217.03 355.58,218.00 357.40,219.12 C359.22,220.25 359.80,221.97 359.80,223.39 C359.80,224.81 359.22,226.59 357.40,227.65 C355.58,228.71 351.85,229.48 348.88,229.74 C345.90,230.00 341.12,231.36 339.57,229.20 C338.02,227.04 338.02,218.89 339.57,216.80Z" fill="none" stroke="#333" stroke-opacity="0.6" stroke-width="0.5"/>
<path d="M341.15,218.60 C342.25,217.12 345.64,218.22 347.75,218.49 C349.86,218.77 352.51,219.45 353.80,220.25 C355.09,221.05 355.50,222.27 355.50,223.28 C355.50,224.28 355.09,225.55 353.80,226.30 C352.51,227.05 349.86,227.60 347.75,227.78 C345.64,227.97 342.25,228.93 341.15,227.40 C340.05,225.87 340.05,220.08 341.15,218.60Z" fill="none" stroke="#333" stroke-opacity="0.6" stroke-width="0.5"/>
<path d="M334.00,205.90 C336.17,205.57 338.53,206.65 340.00,209.00 C341.47,211.35 342.63,216.17 342.80,220.00 C342.97,223.83 342.47,228.88 341.00,232.00 C339.53,235.12 336.42,238.03 334.00,238.70 C331.58,239.37 328.10,238.45 326.50,236.00 C324.90,233.55 324.32,228.17 324.40,224.00 C324.48,219.83 325.40,214.02 327.00,211.00 C328.60,207.98 331.83,206.23 334.00,205.90Z" fill="rgb(205,205,205)" stroke="#333" stroke-opacity="0.5" stroke-width="0.4"/>
<path d="M333.98,207.91 C335.90,207.62 338.00,208.58 339.30,210.66 C340.60,212.75 341.64,217.03 341.79,220.43 C341.94,223.83 341.49,228.31 340.19,231.08 C338.89,233.84 336.12,236.43 333.98,237.02 C331.83,237.62 328.74,236.80 327.32,234.63 C325.90,232.45 325.38,227.68 325.46,223.98 C325.53,220.28 326.34,215.12 327.76,212.44 C329.19,209.76 332.05,208.21 333.98,207.91Z" fill="rgb(175,175,175)" stroke="#333" stroke-opacity="0.5" stroke-width="0.4"/>
<path d="M333.95,209.93 C335.63,209.67 337.47,210.51 338.61,212.33 C339.74,214.15 340.65,217.88 340.78,220.85 C340.90,223.83 340.52,227.74 339.38,230.16 C338.24,232.57 335.83,234.83 333.95,235.35 C332.08,235.86 329.38,235.15 328.14,233.25 C326.90,231.36 326.45,227.18 326.51,223.96 C326.58,220.73 327.29,216.22 328.53,213.88 C329.77,211.54 332.28,210.19 333.95,209.93Z" fill="rgb(145,145,145)" stroke="#333" stroke-opacity="0.5" stroke-width="0.4"/>
<path d="M333.93,211.94 C335.37,211.72 336.94,212.44 337.91,214.00 C338.88,215.55 339.65,218.74 339.76,221.28 C339.87,223.82 339.54,227.17 338.57,229.23 C337.60,231.30 335.53,233.23 333.93,233.67 C332.33,234.11 330.02,233.51 328.96,231.88 C327.90,230.26 327.52,226.69 327.57,223.93 C327.63,221.17 328.24,217.32 329.30,215.32 C330.36,213.32 332.50,212.16 333.93,211.94Z" fill="rgb(115,115,115)" stroke="#333" stroke-opacity="0.5" stroke-width="0.4"/>
<path d="M333.91,213.96 C335.10,213.77 336.40,214.37 337.21,215.66 C338.02,216.95 338.66,219.60 338.75,221.71 C338.84,223.82 338.57,226.60 337.76,228.31 C336.95,230.02 335.24,231.63 333.91,232.00 C332.58,232.36 330.67,231.86 329.79,230.51 C328.91,229.16 328.58,226.20 328.63,223.91 C328.68,221.62 329.18,218.42 330.06,216.76 C330.94,215.10 332.72,214.14 333.91,213.96Z" fill="rgb(85,85,85)" stroke="#333" stroke-opacity="0.5" stroke-width="0.4"/>
<path d="M333.89,215.97 C334.84,215.82 335.87,216.30 336.51,217.33 C337.15,218.35 337.66,220.46 337.74,222.14 C337.81,223.81 337.59,226.02 336.95,227.39 C336.31,228.75 334.94,230.03 333.89,230.32 C332.83,230.61 331.31,230.21 330.61,229.14 C329.91,228.07 329.65,225.71 329.69,223.89 C329.72,222.06 330.12,219.52 330.82,218.20 C331.52,216.88 332.94,216.11 333.89,215.97Z" fill="rgb(60,60,60)" stroke="#333" stroke-opacity="0.5" stroke-width="0.4"/>
<path d="M333.87,217.98 C334.57,217.87 335.34,218.23 335.81,218.99 C336.29,219.75 336.67,221.32 336.73,222.56 C336.78,223.81 336.62,225.45 336.14,226.47 C335.66,227.48 334.65,228.43 333.87,228.64 C333.08,228.86 331.95,228.56 331.43,227.77 C330.91,226.97 330.72,225.22 330.75,223.87 C330.77,222.51 331.07,220.62 331.59,219.64 C332.11,218.66 333.16,218.09 333.87,217.98Z" fill="rgb(45,45,45)" stroke="#333" stroke-opacity="0.5" stroke-width="0.4"/>
<path d="M333.84,220.00 C334.30,219.93 334.81,220.16 335.12,220.66 C335.43,221.15 335.68,222.18 335.71,222.99 C335.75,223.81 335.64,224.88 335.33,225.54 C335.02,226.20 334.36,226.82 333.84,226.97 C333.33,227.11 332.59,226.91 332.25,226.39 C331.91,225.87 331.78,224.73 331.80,223.84 C331.82,222.96 332.01,221.72 332.36,221.08 C332.70,220.44 333.38,220.07 333.84,220.00Z" fill="rgb(40,40,40)" stroke="#333" stroke-opacity="0.5" stroke-width="0.4"/>
<path d="M333.82,222.01 C334.04,221.98 334.27,222.09 334.42,222.32 C334.57,222.56 334.68,223.04 334.70,223.42 C334.72,223.80 334.67,224.31 334.52,224.62 C334.37,224.93 334.06,225.22 333.82,225.29 C333.58,225.36 333.23,225.27 333.07,225.02 C332.91,224.78 332.85,224.24 332.86,223.82 C332.87,223.40 332.96,222.82 333.12,222.52 C333.28,222.22 333.60,222.04 333.82,222.01Z" fill="rgb(70,70,70)" stroke="#333" stroke-opacity="0.5" stroke-width="0.4"/>
<rect x="352.90" y="186.20" width="46.40" height="19.40" stroke="#a11fb1" stroke-width="2.1" fill="none"/>
<text x="379.30" y="180.73" font-size="12" text-anchor="middle"   fill="#111" >0</text>
<rect x="442.80" y="152.60" width="93.40" height="92.40" fill="none" stroke="#9a9a9a" stroke-width="1"/>
<line x1="439.30" y1="245.50" x2="442.30" y2="245.50" stroke="#222" stroke-width="1"/>
<text x="438.30" y="248.91" font-size="9.9" text-anchor="end" textLength="4.74" lengthAdjust="spacingAndGlyphs"  fill="#111" >0</text>
<line x1="439.30" y1="227.64" x2="442.30" y2="227.64" stroke="#222" stroke-width="1"/>
<text x="438.30" y="231.05" font-size="9.9" text-anchor="end" textLength="9.47" lengthAdjust="spacingAndGlyphs"  fill="#111" >20</text>
<line x1="439.30" y1="209.78" x2="442.30" y2="209.78" stroke="#222" stroke-width="1"/>
<text x="438.30" y="213.19" font-size="9.9" text-anchor="end" textLength="9.47" lengthAdjust="spacingAndGlyphs"  fill="#111" >40</text>
<line x1="439.30" y1="191.92" x2="442.30" y2="191.92" stroke="#222" stroke-width="1"/>
<text x="438.30" y="195.33" font-size="9.9" text-anchor="end" textLength="9.47" lengthAdjust="spacingAndGlyphs"  fill="#111" >60</text>
<line x1="439.30" y1="174.06" x2="442.30" y2="174.06" stroke="#222" stroke-width="1"/>
<text x="438.30" y="177.47" font-size="9.9" text-anchor="end" textLength="9.47" lengthAdjust="spacingAndGlyphs"  fill="#111" >80</text>
<line x1="439.30" y1="156.20" x2="442.30" y2="156.20" stroke="#222" stroke-width="1"/>
<text x="438.30" y="159.61" font-size="9.9" text-anchor="end" textLength="14.21" lengthAdjust="spacingAndGlyphs"  fill="#111" >100</text>
<line x1="440.80" y1="245.50" x2="442.30" y2="245.50" stroke="#555" stroke-width="0.6"/>
<line x1="440.80" y1="241.93" x2="442.30" y2="241.93" stroke="#555" stroke-width="0.6"/>
<line x1="440.80" y1="238.36" x2="442.30" y2="238.36" stroke="#555" stroke-width="0.6"/>
<line x1="440.80" y1="234.78" x2="442.30" y2="234.78" stroke="#555" stroke-width="0.6"/>
<line x1="440.80" y1="231.21" x2="442.30" y2="231.21" stroke="#555" stroke-width="0.6"/>
<line x1="440.80" y1="227.64" x2="442.30" y2="227.64" stroke="#555" stroke-width="0.6"/>
<line x1="440.80" y1="224.07" x2="442.30" y2="224.07" stroke="#555" stroke-width="0.6"/>
<line x1="440.80" y1="220.50" x2="442.30" y2="220.50" stroke="#555" stroke-width="0.6"/>
<line x1="440.80" y1="216.92" x2="442.30" y2="216.92" stroke="#555" stroke-width="0.6"/>
<line x1="440.80" y1="213.35" x2="442.30" y2="213.35" stroke="#555" stroke-width="0.6"/>
<line x1="440.80" y1="209.78" x2="442.30" y2="209.78" stroke="#555" stroke-width="0.6"/>
<line x1="440.80" y1="206.21" x2="442.30" y2="206.21" stroke="#555" stroke-width="0.6"/>
<line x1="440.80" y1="202.64" x2="442.30" y2="202.64" stroke="#555" stroke-width="0.6"/>
<line x1="440.80" y1="199.06" x2="442.30" y2="199.06" stroke="#555" stroke-width="0.6"/>
<line x1="440.80" y1="195.49" x2="442.30" y2="195.49" stroke="#555" stroke-width="0.6"/>
<line x1="440.80" y1="191.92" x2="442.30" y2="191.92" stroke="#555" stroke-width="0.6"/>
<line x1="440.80" y1="188.35" x2="442.30" y2="188.35" stroke="#555" stroke-width="0.6"/>
<line x1="440.80" y1="184.78" x2="442.30" y2="184.78" stroke="#555" stroke-width="0.6"/>
<line x1="440.80" y1="181.20" x2="442.30" y2="181.20" stroke="#555" stroke-width="0.6"/>
<line x1="440.80" y1="177.63" x2="442.30" y2="177.63" stroke="#555" stroke-width="0.6"/>
<line x1="440.80" y1="174.06" x2="442.30" y2="174.06" stroke="#555" stroke-width="0.6"/>
<line x1="440.80" y1="170.49" x2="442.30" y2="170.49" stroke="#555" stroke-width="0.6"/>
<line x1="440.80" y1="166.92" x2="442.30" y2="166.92" stroke="#555" stroke-width="0.6"/>
<line x1="440.80" y1="163.34" x2="442.30" y2="163.34" stroke="#555" stroke-width="0.6"/>
<line x1="440.80" y1="159.77" x2="442.30" y2="159.77" stroke="#555" stroke-width="0.6"/>
<text transform="translate(420.20,201.30) rotate(-90)" x="0" y="4.13" font-size="12" text-anchor="middle" textLength="50.6" lengthAdjust="spacingAndGlyphs"  fill="#111" >% to max</text>
<line x1="449.90" y1="245.50" x2="449.90" y2="248.50" stroke="#222" stroke-width="1"/>
<text x="449.90" y="257.95" font-size="9.45" text-anchor="middle" fill="#111">10<tspan font-size="5.5" dy="-3.78">-3</tspan></text>
<line x1="482.00" y1="245.50" x2="482.00" y2="248.50" stroke="#222" stroke-width="1"/>
<text x="482.00" y="257.95" font-size="9.45" text-anchor="middle" fill="#111">10<tspan font-size="5.5" dy="-3.78">3</tspan></text>
<line x1="505.00" y1="245.50" x2="505.00" y2="248.50" stroke="#222" stroke-width="1"/>
<text x="505.00" y="257.95" font-size="9.45" text-anchor="middle" fill="#111">10<tspan font-size="5.5" dy="-3.78">4</tspan></text>
<line x1="528.50" y1="245.50" x2="528.50" y2="248.50" stroke="#222" stroke-width="1"/>
<text x="528.50" y="257.95" font-size="9.45" text-anchor="middle" fill="#111">10<tspan font-size="5.5" dy="-3.78">5</tspan></text>
<line x1="463.50" y1="245.50" x2="463.50" y2="248.50" stroke="#222" stroke-width="1"/>
<text x="463.50" y="258.40" font-size="9" text-anchor="middle"   fill="#111" >0</text>
<text x="442.70" y="272.38" font-size="11"  textLength="75.6" lengthAdjust="spacingAndGlyphs"  fill="#111" >CD127 - PECY7</text>
<path d="M442.70,245.50 C444.57,245.50 451.35,245.50 453.90,245.50 C456.45,241.92 456.73,232.25 458.00,224.00 C459.27,215.75 460.58,201.45 461.50,196.00 C462.42,190.55 462.72,190.47 463.50,191.30 C464.28,192.13 465.20,195.22 466.20,201.00 C467.20,206.78 468.30,218.58 469.50,226.00 C470.70,233.42 472.32,242.25 473.40,245.50 C474.48,245.50 475.57,245.50 476.00,245.50" fill="none" stroke="#1a6fe0" stroke-width="1.9" stroke-linejoin="round"/>
<path d="M442.70,245.50 L471.30,244.40 C476.42,242.68 472.65,236.38 473.40,235.20 C474.15,234.02 474.95,237.87 475.80,237.30 C476.65,236.73 477.72,232.65 478.50,231.80 C479.28,230.95 479.65,233.50 480.50,232.20 C481.35,230.90 482.58,223.83 483.60,224.00 C484.62,224.17 485.42,231.50 486.60,233.20 C487.78,234.90 489.50,234.53 490.70,234.20 C491.90,233.87 492.77,230.85 493.80,231.20 C494.83,231.55 495.87,233.92 496.90,236.30 C497.93,238.68 493.48,243.97 500.00,245.50 L536.00,245.50" fill="none" stroke="#18d010" stroke-width="1.9" stroke-linejoin="round"/>
<path d="M442.70,245.50 C444.23,245.50 449.68,245.50 451.90,245.50 C454.12,241.92 454.63,231.67 456.00,224.00 C457.37,216.33 458.98,204.78 460.10,199.50 C461.22,194.22 461.85,191.62 462.70,192.30 C463.55,192.98 464.28,197.98 465.20,203.60 C466.12,209.22 467.18,219.20 468.20,226.00 C469.22,232.80 470.50,241.15 471.30,244.40 C472.10,245.50 472.72,245.32 473.00,245.50" fill="none" stroke="#a020c0" stroke-width="1.9" stroke-linejoin="round"/>
<rect x="545.00" y="161.40" width="12.60" height="12.60" stroke="#ee1c25" stroke-width="2.2" fill="none"/>
<text x="564.60" y="171.28" font-size="11"  textLength="96.3" lengthAdjust="spacingAndGlyphs"  fill="#111" >CD127+CD94+ cells</text>
<rect x="545.00" y="183.00" width="12.60" height="12.60" stroke="#3f7fc8" stroke-width="2.2" fill="none"/>
<text x="564.60" y="191.38" font-size="11"  textLength="119.3" lengthAdjust="spacingAndGlyphs"  fill="#111" >CD127-CD94+ (NK) cells</text>
<rect x="545.00" y="202.90" width="12.60" height="12.60" stroke="#3fc62b" stroke-width="2.2" fill="none"/>
<text x="564.60" y="212.38" font-size="11"    fill="#111" >CD127+CD94- (ILC) cells</text>
<rect x="545.00" y="222.10" width="12.60" height="12.60" stroke="#a11fb1" stroke-width="2.2" fill="none"/>
<text x="564.60" y="232.88" font-size="11"    fill="#111" >CD103+ ieILC1</text>
<rect x="98.4" y="64.6" width="0.8" height="0.8" fill="#666"/><rect x="98.8" y="53.9" width="0.8" height="0.8" fill="#666"/><rect x="89.0" y="55.2" width="0.8" height="0.8" fill="#666"/><rect x="117.6" y="63.5" width="0.8" height="0.8" fill="#666"/><rect x="116.5" y="61.2" width="0.8" height="0.8" fill="#666"/><rect x="107.5" y="60.4" width="0.8" height="0.8" fill="#666"/><rect x="78.7" y="69.1" width="0.8" height="0.8" fill="#666"/><rect x="109.1" y="64.5" width="0.8" height="0.8" fill="#666"/><rect x="78.3" y="35.3" width="0.8" height="0.8" fill="#666"/><rect x="89.5" y="51.9" width="0.8" height="0.8" fill="#666"/><rect x="106.3" y="57.4" width="0.8" height="0.8" fill="#666"/><rect x="109.3" y="49.7" width="0.8" height="0.8" fill="#666"/><rect x="106.3" y="63.1" width="0.8" height="0.8" fill="#666"/><rect x="92.7" y="80.3" width="0.8" height="0.8" fill="#666"/><rect x="109.8" y="73.6" width="0.8" height="0.8" fill="#666"/><rect x="93.3" y="48.4" width="0.8" height="0.8" fill="#666"/><rect x="97.2" y="56.6" width="0.8" height="0.8" fill="#666"/><rect x="110.8" y="61.2" width="0.8" height="0.8" fill="#666"/><rect x="95.7" y="45.6" width="0.8" height="0.8" fill="#666"/><rect x="94.7" y="73.9" width="0.8" height="0.8" fill="#666"/><rect x="90.7" y="61.2" width="0.8" height="0.8" fill="#666"/><rect x="108.0" y="38.6" width="0.8" height="0.8" fill="#666"/><rect x="102.7" y="75.0" width="0.8" height="0.8" fill="#666"/><rect x="73.8" y="53.8" width="0.8" height="0.8" fill="#666"/><rect x="100.5" y="47.4" width="0.8" height="0.8" fill="#666"/><rect x="109.0" y="57.2" width="0.8" height="0.8" fill="#666"/><rect x="81.5" y="68.8" width="0.8" height="0.8" fill="#666"/><rect x="111.4" y="70.3" width="0.8" height="0.8" fill="#666"/><rect x="122.2" y="62.7" width="0.8" height="0.8" fill="#666"/><rect x="103.7" y="41.1" width="0.8" height="0.8" fill="#666"/><rect x="110.6" y="50.0" width="0.8" height="0.8" fill="#666"/><rect x="95.7" y="41.6" width="0.8" height="0.8" fill="#666"/><rect x="88.5" y="51.1" width="0.8" height="0.8" fill="#666"/><rect x="120.0" y="31.6" width="0.8" height="0.8" fill="#666"/><rect x="81.6" y="61.1" width="0.8" height="0.8" fill="#666"/><rect x="122.2" y="65.5" width="0.8" height="0.8" fill="#666"/><rect x="75.4" y="25.3" width="0.8" height="0.8" fill="#666"/><rect x="107.0" y="48.4" width="0.8" height="0.8" fill="#666"/><rect x="86.3" y="70.7" width="0.8" height="0.8" fill="#666"/><rect x="117.4" y="60.0" width="0.8" height="0.8" fill="#666"/><rect x="105.4" y="63.6" width="0.8" height="0.8" fill="#666"/><rect x="124.3" y="66.0" width="0.8" height="0.8" fill="#666"/><rect x="109.3" y="65.1" width="0.8" height="0.8" fill="#666"/><rect x="80.0" y="74.7" width="0.8" height="0.8" fill="#666"/><rect x="115.4" y="64.9" width="0.8" height="0.8" fill="#666"/><rect x="74.4" y="49.8" width="0.8" height="0.8" fill="#666"/><rect x="113.8" y="34.5" width="0.8" height="0.8" fill="#666"/><rect x="99.4" y="71.3" width="0.8" height="0.8" fill="#666"/><rect x="83.6" y="78.9" width="0.8" height="0.8" fill="#666"/><rect x="109.7" y="56.0" width="0.8" height="0.8" fill="#666"/><rect x="106.5" y="66.4" width="0.8" height="0.8" fill="#666"/><rect x="103.7" y="72.9" width="0.8" height="0.8" fill="#666"/><rect x="92.7" y="52.6" width="0.8" height="0.8" fill="#666"/><rect x="116.6" y="58.3" width="0.8" height="0.8" fill="#666"/><rect x="89.7" y="70.3" width="0.8" height="0.8" fill="#666"/><rect x="122.5" y="52.2" width="0.8" height="0.8" fill="#666"/><rect x="82.7" y="56.2" width="0.8" height="0.8" fill="#666"/><rect x="99.9" y="54.1" width="0.8" height="0.8" fill="#666"/><rect x="121.7" y="44.6" width="0.8" height="0.8" fill="#666"/><rect x="119.6" y="41.5" width="0.8" height="0.8" fill="#666"/><rect x="91.0" y="66.2" width="0.8" height="0.8" fill="#666"/><rect x="117.8" y="69.2" width="0.8" height="0.8" fill="#666"/><rect x="106.8" y="59.9" width="0.8" height="0.8" fill="#666"/><rect x="104.1" y="65.5" width="0.8" height="0.8" fill="#666"/><rect x="99.5" y="61.6" width="0.8" height="0.8" fill="#666"/><rect x="110.0" y="58.0" width="0.8" height="0.8" fill="#666"/><rect x="112.7" y="65.4" width="0.8" height="0.8" fill="#666"/><rect x="130.1" y="62.2" width="0.8" height="0.8" fill="#666"/><rect x="96.0" y="53.2" width="0.8" height="0.8" fill="#666"/><rect x="101.8" y="70.0" width="0.8" height="0.8" fill="#666"/><rect x="97.3" y="63.0" width="0.8" height="0.8" fill="#666"/><rect x="127.7" y="24.7" width="0.8" height="0.8" fill="#666"/><rect x="86.3" y="61.2" width="0.8" height="0.8" fill="#666"/><rect x="107.6" y="61.1" width="0.8" height="0.8" fill="#666"/><rect x="96.0" y="66.5" width="0.8" height="0.8" fill="#666"/><rect x="105.9" y="51.2" width="0.8" height="0.8" fill="#666"/><rect x="136.0" y="62.6" width="0.8" height="0.8" fill="#666"/><rect x="94.2" y="56.7" width="0.8" height="0.8" fill="#666"/><rect x="98.8" y="57.2" width="0.8" height="0.8" fill="#666"/><rect x="63.8" y="51.7" width="0.8" height="0.8" fill="#666"/><rect x="116.1" y="42.8" width="0.8" height="0.8" fill="#666"/><rect x="101.1" y="70.4" width="0.8" height="0.8" fill="#666"/><rect x="114.0" y="77.4" width="0.8" height="0.8" fill="#666"/><rect x="78.2" y="53.4" width="0.8" height="0.8" fill="#666"/><rect x="97.2" y="66.1" width="0.8" height="0.8" fill="#666"/><rect x="117.3" y="23.1" width="0.8" height="0.8" fill="#666"/><rect x="117.2" y="39.2" width="0.8" height="0.8" fill="#666"/><rect x="111.6" y="38.6" width="0.8" height="0.8" fill="#666"/><rect x="104.5" y="73.5" width="0.8" height="0.8" fill="#666"/><rect x="99.9" y="60.5" width="0.8" height="0.8" fill="#666"/><rect x="113.2" y="59.8" width="0.8" height="0.8" fill="#666"/><rect x="100.8" y="77.9" width="0.8" height="0.8" fill="#666"/><rect x="116.7" y="54.2" width="0.8" height="0.8" fill="#666"/><rect x="114.8" y="54.5" width="0.8" height="0.8" fill="#666"/><rect x="103.9" y="67.2" width="0.8" height="0.8" fill="#666"/><rect x="105.1" y="66.3" width="0.8" height="0.8" fill="#666"/><rect x="80.6" y="38.4" width="0.8" height="0.8" fill="#666"/><rect x="110.6" y="45.5" width="0.8" height="0.8" fill="#666"/><rect x="87.6" y="38.9" width="0.8" height="0.8" fill="#666"/><rect x="119.7" y="67.7" width="0.8" height="0.8" fill="#666"/><rect x="122.6" y="45.8" width="0.8" height="0.8" fill="#666"/><rect x="102.0" y="43.2" width="0.8" height="0.8" fill="#666"/><rect x="112.7" y="78.7" width="0.8" height="0.8" fill="#666"/><rect x="89.5" y="78.3" width="0.8" height="0.8" fill="#666"/><rect x="115.8" y="55.7" width="0.8" height="0.8" fill="#666"/><rect x="74.4" y="76.3" width="0.8" height="0.8" fill="#666"/><rect x="100.7" y="50.2" width="0.8" height="0.8" fill="#666"/><rect x="107.6" y="63.3" width="0.8" height="0.8" fill="#666"/><rect x="123.0" y="44.7" width="0.8" height="0.8" fill="#666"/>
<rect x="357.4" y="58.2" width="0.8" height="0.8" fill="#666"/><rect x="357.1" y="57.4" width="0.8" height="0.8" fill="#666"/><rect x="361.5" y="60.4" width="0.8" height="0.8" fill="#666"/><rect x="346.4" y="70.0" width="0.8" height="0.8" fill="#666"/><rect x="352.1" y="67.9" width="0.8" height="0.8" fill="#666"/><rect x="351.1" y="54.3" width="0.8" height="0.8" fill="#666"/><rect x="348.7" y="57.2" width="0.8" height="0.8" fill="#666"/><rect x="349.4" y="67.5" width="0.8" height="0.8" fill="#666"/><rect x="348.0" y="63.3" width="0.8" height="0.8" fill="#666"/><rect x="356.0" y="66.6" width="0.8" height="0.8" fill="#666"/>
<rect x="250.8" y="235.7" width="0.8" height="0.8" fill="#666"/><rect x="236.4" y="214.4" width="0.8" height="0.8" fill="#666"/><rect x="262.6" y="218.6" width="0.8" height="0.8" fill="#666"/><rect x="246.7" y="230.8" width="0.8" height="0.8" fill="#666"/><rect x="243.5" y="229.9" width="0.8" height="0.8" fill="#666"/><rect x="239.6" y="217.7" width="0.8" height="0.8" fill="#666"/><rect x="250.7" y="221.2" width="0.8" height="0.8" fill="#666"/><rect x="247.5" y="225.8" width="0.8" height="0.8" fill="#666"/><rect x="260.2" y="225.1" width="0.8" height="0.8" fill="#666"/><rect x="239.2" y="226.3" width="0.8" height="0.8" fill="#666"/><rect x="243.9" y="211.6" width="0.8" height="0.8" fill="#666"/><rect x="243.5" y="222.2" width="0.8" height="0.8" fill="#666"/><rect x="235.2" y="208.3" width="0.8" height="0.8" fill="#666"/><rect x="265.4" y="232.4" width="0.8" height="0.8" fill="#666"/>
<text x="0.4" y="311.2" font-size="14.5" font-weight="bold" fill="#000">b</text>
<rect x="44.30" y="313.50" width="93.60" height="93.60" fill="none" stroke="#9a9a9a" stroke-width="1"/>
<line x1="40.80" y1="407.60" x2="43.80" y2="407.60" stroke="#222" stroke-width="1"/>
<text x="39.80" y="411.01" font-size="9.9" text-anchor="end" textLength="4.74" lengthAdjust="spacingAndGlyphs"  fill="#111" >0</text>
<line x1="40.80" y1="389.68" x2="43.80" y2="389.68" stroke="#222" stroke-width="1"/>
<text x="39.80" y="393.09" font-size="9.9" text-anchor="end" textLength="9.47" lengthAdjust="spacingAndGlyphs"  fill="#111" >20</text>
<line x1="40.80" y1="371.76" x2="43.80" y2="371.76" stroke="#222" stroke-width="1"/>
<text x="39.80" y="375.17" font-size="9.9" text-anchor="end" textLength="9.47" lengthAdjust="spacingAndGlyphs"  fill="#111" >40</text>
<line x1="40.80" y1="353.84" x2="43.80" y2="353.84" stroke="#222" stroke-width="1"/>
<text x="39.80" y="357.25" font-size="9.9" text-anchor="end" textLength="9.47" lengthAdjust="spacingAndGlyphs"  fill="#111" >60</text>
<line x1="40.80" y1="335.92" x2="43.80" y2="335.92" stroke="#222" stroke-width="1"/>
<text x="39.80" y="339.33" font-size="9.9" text-anchor="end" textLength="9.47" lengthAdjust="spacingAndGlyphs"  fill="#111" >80</text>
<line x1="40.80" y1="318.00" x2="43.80" y2="318.00" stroke="#222" stroke-width="1"/>
<text x="39.80" y="321.41" font-size="9.9" text-anchor="end" textLength="14.21" lengthAdjust="spacingAndGlyphs"  fill="#111" >100</text>
<line x1="42.30" y1="407.60" x2="43.80" y2="407.60" stroke="#666" stroke-width="0.6"/>
<line x1="42.30" y1="404.02" x2="43.80" y2="404.02" stroke="#666" stroke-width="0.6"/>
<line x1="42.30" y1="400.43" x2="43.80" y2="400.43" stroke="#666" stroke-width="0.6"/>
<line x1="42.30" y1="396.85" x2="43.80" y2="396.85" stroke="#666" stroke-width="0.6"/>
<line x1="42.30" y1="393.26" x2="43.80" y2="393.26" stroke="#666" stroke-width="0.6"/>
<line x1="42.30" y1="389.68" x2="43.80" y2="389.68" stroke="#666" stroke-width="0.6"/>
<line x1="42.30" y1="386.10" x2="43.80" y2="386.10" stroke="#666" stroke-width="0.6"/>
<line x1="42.30" y1="382.51" x2="43.80" y2="382.51" stroke="#666" stroke-width="0.6"/>
<line x1="42.30" y1="378.93" x2="43.80" y2="378.93" stroke="#666" stroke-width="0.6"/>
<line x1="42.30" y1="375.34" x2="43.80" y2="375.34" stroke="#666" stroke-width="0.6"/>
<line x1="42.30" y1="371.76" x2="43.80" y2="371.76" stroke="#666" stroke-width="0.6"/>
<line x1="42.30" y1="368.18" x2="43.80" y2="368.18" stroke="#666" stroke-width="0.6"/>
<line x1="42.30" y1="364.59" x2="43.80" y2="364.59" stroke="#666" stroke-width="0.6"/>
<line x1="42.30" y1="361.01" x2="43.80" y2="361.01" stroke="#666" stroke-width="0.6"/>
<line x1="42.30" y1="357.42" x2="43.80" y2="357.42" stroke="#666" stroke-width="0.6"/>
<line x1="42.30" y1="353.84" x2="43.80" y2="353.84" stroke="#666" stroke-width="0.6"/>
<line x1="42.30" y1="350.26" x2="43.80" y2="350.26" stroke="#666" stroke-width="0.6"/>
<line x1="42.30" y1="346.67" x2="43.80" y2="346.67" stroke="#666" stroke-width="0.6"/>
<line x1="42.30" y1="343.09" x2="43.80" y2="343.09" stroke="#666" stroke-width="0.6"/>
<line x1="42.30" y1="339.50" x2="43.80" y2="339.50" stroke="#666" stroke-width="0.6"/>
<line x1="42.30" y1="335.92" x2="43.80" y2="335.92" stroke="#666" stroke-width="0.6"/>
<line x1="42.30" y1="332.34" x2="43.80" y2="332.34" stroke="#666" stroke-width="0.6"/>
<line x1="42.30" y1="328.75" x2="43.80" y2="328.75" stroke="#666" stroke-width="0.6"/>
<line x1="42.30" y1="325.17" x2="43.80" y2="325.17" stroke="#666" stroke-width="0.6"/>
<line x1="42.30" y1="321.58" x2="43.80" y2="321.58" stroke="#666" stroke-width="0.6"/>
<text transform="translate(21.90,366.10) rotate(-90)" x="0" y="3.65" font-size="10.6" text-anchor="middle" textLength="43.8" lengthAdjust="spacingAndGlyphs"  fill="#111" >% to max</text>
<line x1="60.90" y1="407.60" x2="60.90" y2="410.10" stroke="#222" stroke-width="1"/>
<text x="60.90" y="419.27" font-size="9.5" text-anchor="middle"   fill="#111" >0</text>
<line x1="84.30" y1="407.60" x2="84.30" y2="410.10" stroke="#222" stroke-width="1"/>
<text x="84.30" y="419.43" font-size="9.97" text-anchor="middle" fill="#111">10<tspan font-size="5.8" dy="-3.99">3</tspan></text>
<line x1="107.30" y1="407.60" x2="107.30" y2="410.10" stroke="#222" stroke-width="1"/>
<text x="107.30" y="419.43" font-size="9.97" text-anchor="middle" fill="#111">10<tspan font-size="5.8" dy="-3.99">4</tspan></text>
<line x1="129.20" y1="407.60" x2="129.20" y2="410.10" stroke="#222" stroke-width="1"/>
<text x="129.20" y="419.43" font-size="9.97" text-anchor="middle" fill="#111">10<tspan font-size="5.8" dy="-3.99">5</tspan></text>
<text x="64.60" y="432.98" font-size="11"  textLength="50.4" lengthAdjust="spacingAndGlyphs"  fill="#111" >CD94 - PE</text>
<path d="M44.30,407.60 C46.03,407.60 52.52,407.60 54.70,407.60 C56.88,404.78 56.58,401.18 57.40,390.70 C58.22,380.22 58.83,356.55 59.60,344.70 C60.37,332.85 61.23,320.32 62.00,319.60 C62.77,318.88 63.48,330.00 64.20,340.40 C64.92,350.80 65.50,371.78 66.30,382.00 C67.10,392.22 67.65,397.70 69.00,401.70 C70.35,405.70 72.95,405.02 74.40,406.00 C75.85,406.98 67.10,407.33 77.70,407.60 L138.00,407.60" fill="none" stroke="#18d010" stroke-width="2.0" stroke-linejoin="round"/>
<path d="M44.30,407.60 L77.70,407.60 C83.63,403.87 78.80,388.93 79.90,385.20 C81.00,381.47 83.02,386.83 84.30,385.20 C85.58,383.57 86.50,380.32 87.60,375.40 C88.70,370.48 89.80,362.27 90.90,355.70 C92.00,349.13 93.12,340.38 94.20,336.00 C95.28,331.62 96.60,331.60 97.40,329.40 C98.20,327.20 98.45,322.07 99.00,322.80 C99.55,323.53 100.05,328.32 100.70,333.80 C101.35,339.28 102.17,346.95 102.90,355.70 C103.63,364.45 104.37,378.08 105.10,386.30 C105.83,394.52 106.68,401.45 107.30,405.00 C107.92,407.60 108.02,407.17 108.80,407.60 C109.58,407.60 111.47,407.60 112.00,407.60" fill="none" stroke="#1a6fe0" stroke-width="2.0" stroke-linejoin="round"/>
<path d="M44.30,407.60 L78.80,407.60 C84.82,402.78 79.30,383.33 80.40,378.70 C81.50,374.07 83.83,381.45 85.40,379.80 C86.97,378.15 88.52,370.82 89.80,368.80 C91.08,366.78 92.02,372.07 93.10,367.70 C94.18,363.33 95.40,348.43 96.30,342.60 C97.20,336.77 97.77,332.17 98.50,332.70 C99.23,333.23 99.78,339.05 100.70,345.80 C101.62,352.55 102.97,365.35 104.00,373.20 C105.03,381.05 105.98,387.17 106.90,392.90 C107.82,398.63 104.32,405.15 109.50,407.60 L138.00,407.60" fill="none" stroke="#f01010" stroke-width="2.0" stroke-linejoin="round"/>
<rect x="149.30" y="313.50" width="92.70" height="93.50" fill="none" stroke="#9a9a9a" stroke-width="1"/>
<line x1="145.80" y1="407.50" x2="148.80" y2="407.50" stroke="#222" stroke-width="1"/>
<line x1="145.80" y1="389.60" x2="148.80" y2="389.60" stroke="#222" stroke-width="1"/>
<line x1="145.80" y1="371.70" x2="148.80" y2="371.70" stroke="#222" stroke-width="1"/>
<line x1="145.80" y1="353.80" x2="148.80" y2="353.80" stroke="#222" stroke-width="1"/>
<line x1="145.80" y1="335.90" x2="148.80" y2="335.90" stroke="#222" stroke-width="1"/>
<line x1="145.80" y1="318.00" x2="148.80" y2="318.00" stroke="#222" stroke-width="1"/>
<line x1="147.30" y1="407.50" x2="148.80" y2="407.50" stroke="#666" stroke-width="0.6"/>
<line x1="147.30" y1="403.92" x2="148.80" y2="403.92" stroke="#666" stroke-width="0.6"/>
<line x1="147.30" y1="400.34" x2="148.80" y2="400.34" stroke="#666" stroke-width="0.6"/>
<line x1="147.30" y1="396.76" x2="148.80" y2="396.76" stroke="#666" stroke-width="0.6"/>
<line x1="147.30" y1="393.18" x2="148.80" y2="393.18" stroke="#666" stroke-width="0.6"/>
<line x1="147.30" y1="389.60" x2="148.80" y2="389.60" stroke="#666" stroke-width="0.6"/>
<line x1="147.30" y1="386.02" x2="148.80" y2="386.02" stroke="#666" stroke-width="0.6"/>
<line x1="147.30" y1="382.44" x2="148.80" y2="382.44" stroke="#666" stroke-width="0.6"/>
<line x1="147.30" y1="378.86" x2="148.80" y2="378.86" stroke="#666" stroke-width="0.6"/>
<line x1="147.30" y1="375.28" x2="148.80" y2="375.28" stroke="#666" stroke-width="0.6"/>
<line x1="147.30" y1="371.70" x2="148.80" y2="371.70" stroke="#666" stroke-width="0.6"/>
<line x1="147.30" y1="368.12" x2="148.80" y2="368.12" stroke="#666" stroke-width="0.6"/>
<line x1="147.30" y1="364.54" x2="148.80" y2="364.54" stroke="#666" stroke-width="0.6"/>
<line x1="147.30" y1="360.96" x2="148.80" y2="360.96" stroke="#666" stroke-width="0.6"/>
<line x1="147.30" y1="357.38" x2="148.80" y2="357.38" stroke="#666" stroke-width="0.6"/>
<line x1="147.30" y1="353.80" x2="148.80" y2="353.80" stroke="#666" stroke-width="0.6"/>
<line x1="147.30" y1="350.22" x2="148.80" y2="350.22" stroke="#666" stroke-width="0.6"/>
<line x1="147.30" y1="346.64" x2="148.80" y2="346.64" stroke="#666" stroke-width="0.6"/>
<line x1="147.30" y1="343.06" x2="148.80" y2="343.06" stroke="#666" stroke-width="0.6"/>
<line x1="147.30" y1="339.48" x2="148.80" y2="339.48" stroke="#666" stroke-width="0.6"/>
<line x1="147.30" y1="335.90" x2="148.80" y2="335.90" stroke="#666" stroke-width="0.6"/>
<line x1="147.30" y1="332.32" x2="148.80" y2="332.32" stroke="#666" stroke-width="0.6"/>
<line x1="147.30" y1="328.74" x2="148.80" y2="328.74" stroke="#666" stroke-width="0.6"/>
<line x1="147.30" y1="325.16" x2="148.80" y2="325.16" stroke="#666" stroke-width="0.6"/>
<line x1="147.30" y1="321.58" x2="148.80" y2="321.58" stroke="#666" stroke-width="0.6"/>
<line x1="168.50" y1="407.50" x2="168.50" y2="410.00" stroke="#222" stroke-width="1"/>
<text x="168.50" y="419.23" font-size="9.97" text-anchor="middle" fill="#111">10<tspan font-size="5.8" dy="-3.99">-3</tspan></text>
<line x1="182.10" y1="407.50" x2="182.10" y2="410.00" stroke="#222" stroke-width="1"/>
<text x="182.10" y="419.07" font-size="9.5" text-anchor="middle"   fill="#111" >0</text>
<line x1="198.20" y1="407.50" x2="198.20" y2="410.00" stroke="#222" stroke-width="1"/>
<text x="198.20" y="419.23" font-size="9.97" text-anchor="middle" fill="#111">10<tspan font-size="5.8" dy="-3.99">3</tspan></text>
<line x1="219.50" y1="407.50" x2="219.50" y2="410.00" stroke="#222" stroke-width="1"/>
<text x="219.50" y="419.23" font-size="9.97" text-anchor="middle" fill="#111">10<tspan font-size="5.8" dy="-3.99">4</tspan></text>
<line x1="236.30" y1="407.50" x2="236.30" y2="410.00" stroke="#222" stroke-width="1"/>
<text x="236.30" y="419.23" font-size="9.97" text-anchor="middle" fill="#111">10<tspan font-size="5.8" dy="-3.99">5</tspan></text>
<text x="152.00" y="433.08" font-size="11"  textLength="76.3" lengthAdjust="spacingAndGlyphs"  fill="#111" >CD127 - PECY7</text>
<path d="M149.30,407.50 L171.30,407.50 C175.37,405.93 172.90,403.40 173.70,398.10 C174.50,392.80 175.30,385.33 176.10,375.70 C176.90,366.07 177.77,349.00 178.50,340.30 C179.23,331.60 179.90,326.43 180.50,323.50 C181.10,320.57 181.57,320.97 182.10,322.70 C182.63,324.43 182.95,326.15 183.70,333.90 C184.45,341.65 185.72,361.17 186.60,369.20 C187.48,377.23 188.20,377.82 189.00,382.10 C189.80,386.38 190.52,390.75 191.40,394.90 C192.28,399.05 193.53,404.90 194.30,407.00 C195.07,407.50 188.05,407.42 196.00,407.50 L242.00,407.50" fill="none" stroke="#1a6fe0" stroke-width="2.0" stroke-linejoin="round"/>
<path d="M193.00,407.50 C193.40,405.93 194.33,401.53 195.40,398.10 C196.47,394.67 198.20,391.18 199.40,386.90 C200.60,382.62 201.53,379.08 202.60,372.40 C203.67,365.72 204.85,354.55 205.80,346.80 C206.75,339.05 207.68,329.98 208.30,325.90 C208.92,321.82 208.97,322.03 209.50,322.30 C210.03,322.57 210.77,322.88 211.50,327.50 C212.23,332.12 213.18,341.97 213.90,350.00 C214.62,358.03 215.13,367.13 215.80,375.70 C216.47,384.27 217.28,396.18 217.90,401.40 C218.52,406.62 218.98,405.98 219.50,407.00 C220.02,407.50 220.75,407.42 221.00,407.50" fill="none" stroke="#18d010" stroke-width="2.0" stroke-linejoin="round"/>
<path d="M149.30,407.50 L192.20,407.50 C199.62,401.12 193.27,381.33 193.80,369.20 C194.33,357.07 194.87,338.98 195.40,334.70 C195.93,330.42 196.33,341.62 197.00,343.50 C197.67,345.38 198.60,343.45 199.40,346.00 C200.20,348.55 201.00,355.73 201.80,358.80 C202.60,361.87 203.32,364.53 204.20,364.40 C205.08,364.27 206.23,358.40 207.10,358.00 C207.97,357.60 208.67,358.78 209.40,362.00 C210.13,365.22 210.70,372.35 211.50,377.30 C212.30,382.25 213.27,387.68 214.20,391.70 C215.13,395.72 216.22,398.85 217.10,401.40 C217.98,403.95 215.35,405.98 219.50,407.00 L242.00,407.50" fill="none" stroke="#f01010" stroke-width="2.0" stroke-linejoin="round"/>
<rect x="253.90" y="313.50" width="93.10" height="93.30" fill="none" stroke="#9a9a9a" stroke-width="1"/>
<line x1="250.40" y1="407.30" x2="253.40" y2="407.30" stroke="#222" stroke-width="1"/>
<line x1="250.40" y1="389.44" x2="253.40" y2="389.44" stroke="#222" stroke-width="1"/>
<line x1="250.40" y1="371.58" x2="253.40" y2="371.58" stroke="#222" stroke-width="1"/>
<line x1="250.40" y1="353.72" x2="253.40" y2="353.72" stroke="#222" stroke-width="1"/>
<line x1="250.40" y1="335.86" x2="253.40" y2="335.86" stroke="#222" stroke-width="1"/>
<line x1="250.40" y1="318.00" x2="253.40" y2="318.00" stroke="#222" stroke-width="1"/>
<line x1="251.90" y1="407.30" x2="253.40" y2="407.30" stroke="#666" stroke-width="0.6"/>
<line x1="251.90" y1="403.73" x2="253.40" y2="403.73" stroke="#666" stroke-width="0.6"/>
<line x1="251.90" y1="400.16" x2="253.40" y2="400.16" stroke="#666" stroke-width="0.6"/>
<line x1="251.90" y1="396.58" x2="253.40" y2="396.58" stroke="#666" stroke-width="0.6"/>
<line x1="251.90" y1="393.01" x2="253.40" y2="393.01" stroke="#666" stroke-width="0.6"/>
<line x1="251.90" y1="389.44" x2="253.40" y2="389.44" stroke="#666" stroke-width="0.6"/>
<line x1="251.90" y1="385.87" x2="253.40" y2="385.87" stroke="#666" stroke-width="0.6"/>
<line x1="251.90" y1="382.30" x2="253.40" y2="382.30" stroke="#666" stroke-width="0.6"/>
<line x1="251.90" y1="378.72" x2="253.40" y2="378.72" stroke="#666" stroke-width="0.6"/>
<line x1="251.90" y1="375.15" x2="253.40" y2="375.15" stroke="#666" stroke-width="0.6"/>
<line x1="251.90" y1="371.58" x2="253.40" y2="371.58" stroke="#666" stroke-width="0.6"/>
<line x1="251.90" y1="368.01" x2="253.40" y2="368.01" stroke="#666" stroke-width="0.6"/>
<line x1="251.90" y1="364.44" x2="253.40" y2="364.44" stroke="#666" stroke-width="0.6"/>
<line x1="251.90" y1="360.86" x2="253.40" y2="360.86" stroke="#666" stroke-width="0.6"/>
<line x1="251.90" y1="357.29" x2="253.40" y2="357.29" stroke="#666" stroke-width="0.6"/>
<line x1="251.90" y1="353.72" x2="253.40" y2="353.72" stroke="#666" stroke-width="0.6"/>
<line x1="251.90" y1="350.15" x2="253.40" y2="350.15" stroke="#666" stroke-width="0.6"/>
<line x1="251.90" y1="346.58" x2="253.40" y2="346.58" stroke="#666" stroke-width="0.6"/>
<line x1="251.90" y1="343.00" x2="253.40" y2="343.00" stroke="#666" stroke-width="0.6"/>
<line x1="251.90" y1="339.43" x2="253.40" y2="339.43" stroke="#666" stroke-width="0.6"/>
<line x1="251.90" y1="335.86" x2="253.40" y2="335.86" stroke="#666" stroke-width="0.6"/>
<line x1="251.90" y1="332.29" x2="253.40" y2="332.29" stroke="#666" stroke-width="0.6"/>
<line x1="251.90" y1="328.72" x2="253.40" y2="328.72" stroke="#666" stroke-width="0.6"/>
<line x1="251.90" y1="325.14" x2="253.40" y2="325.14" stroke="#666" stroke-width="0.6"/>
<line x1="251.90" y1="321.57" x2="253.40" y2="321.57" stroke="#666" stroke-width="0.6"/>
<line x1="261.00" y1="407.30" x2="261.00" y2="409.80" stroke="#222" stroke-width="1"/>
<text x="261.00" y="419.23" font-size="9.97" text-anchor="middle" fill="#111">10<tspan font-size="5.8" dy="-3.99">-3</tspan></text>
<line x1="274.70" y1="407.30" x2="274.70" y2="409.80" stroke="#222" stroke-width="1"/>
<text x="274.70" y="419.07" font-size="9.5" text-anchor="middle"   fill="#111" >0</text>
<line x1="290.80" y1="407.30" x2="290.80" y2="409.80" stroke="#222" stroke-width="1"/>
<text x="290.80" y="419.23" font-size="9.97" text-anchor="middle" fill="#111">10<tspan font-size="5.8" dy="-3.99">3</tspan></text>
<line x1="318.40" y1="407.30" x2="318.40" y2="409.80" stroke="#222" stroke-width="1"/>
<text x="318.40" y="419.23" font-size="9.97" text-anchor="middle" fill="#111">10<tspan font-size="5.8" dy="-3.99">4</tspan></text>
<line x1="341.00" y1="407.30" x2="341.00" y2="409.80" stroke="#222" stroke-width="1"/>
<text x="341.00" y="419.23" font-size="9.97" text-anchor="middle" fill="#111">10<tspan font-size="5.8" dy="-3.99">5</tspan></text>
<text x="263.50" y="433.08" font-size="11"  textLength="68.2" lengthAdjust="spacingAndGlyphs"  fill="#111" >CD56 - BV605</text>
<path d="M253.90,407.30 C254.68,407.30 257.27,407.30 258.60,407.30 C259.93,406.03 260.82,404.17 261.90,399.70 C262.98,395.23 264.03,386.12 265.10,380.50 C266.17,374.88 267.37,370.02 268.30,366.00 C269.23,361.98 269.77,360.15 270.70,356.40 C271.63,352.65 272.97,346.72 273.90,343.50 C274.83,340.28 275.63,338.97 276.30,337.10 C276.97,335.23 277.23,332.30 277.90,332.30 C278.57,332.30 279.50,335.23 280.30,337.10 C281.10,338.97 281.90,340.02 282.70,343.50 C283.50,346.98 284.15,355.05 285.10,358.00 C286.05,360.95 287.45,359.33 288.40,361.20 C289.35,363.07 290.00,365.18 290.80,369.20 C291.60,373.22 292.00,381.28 293.20,385.30 C294.40,389.32 296.53,391.30 298.00,393.30 C299.47,395.30 300.67,396.50 302.00,397.30 C303.33,398.10 304.53,398.23 306.00,398.10 C307.47,397.97 309.45,396.23 310.80,396.50 C312.15,396.77 312.75,398.35 314.10,399.70 C315.45,401.05 317.17,403.33 318.90,404.60 C320.63,405.87 319.82,406.85 324.50,407.30 L347.00,407.30" fill="none" stroke="#18d010" stroke-width="2.0" stroke-linejoin="round"/>
<path d="M254.60,407.30 C256.22,406.98 261.35,406.12 264.30,405.40 C267.25,404.68 270.17,403.67 272.30,403.00 C274.43,402.33 275.50,401.80 277.10,401.40 C278.70,401.00 280.15,400.60 281.90,400.60 C283.65,400.60 285.85,401.95 287.60,401.40 C289.35,400.85 290.93,399.45 292.40,397.30 C293.87,395.15 295.07,392.65 296.40,388.50 C297.73,384.35 299.07,378.02 300.40,372.40 C301.73,366.78 303.33,359.35 304.40,354.80 C305.47,350.25 306.18,347.83 306.80,345.10 C307.42,342.37 307.57,337.32 308.10,338.40 C308.63,339.48 309.28,347.00 310.00,351.60 C310.72,356.20 311.45,359.05 312.40,366.00 C313.35,372.95 314.62,387.68 315.70,393.30 C316.78,398.92 317.70,399.70 318.90,399.70 C320.10,399.70 321.57,393.30 322.90,393.30 C324.23,393.30 325.57,398.08 326.90,399.70 C328.23,401.32 329.70,401.73 330.90,403.00 C332.10,404.27 333.57,406.58 334.10,407.30" fill="none" stroke="#1a6fe0" stroke-width="2.0" stroke-linejoin="round"/>
<path d="M253.80,407.30 C255.02,407.12 258.55,407.05 261.10,406.20 C263.65,405.35 266.70,403.55 269.10,402.20 C271.50,400.85 273.23,399.32 275.50,398.10 C277.77,396.88 280.82,395.30 282.70,394.90 C284.58,394.50 285.45,397.03 286.80,395.70 C288.15,394.37 289.33,390.50 290.80,386.90 C292.27,383.30 294.40,375.83 295.60,374.10 C296.80,372.37 297.07,377.98 298.00,376.50 C298.93,375.02 300.13,366.82 301.20,365.20 C302.27,363.58 303.33,365.60 304.40,366.80 C305.47,368.00 306.53,371.18 307.60,372.40 C308.67,373.62 309.72,370.62 310.80,374.10 C311.88,377.58 312.88,389.43 314.10,393.30 C315.32,397.17 316.90,396.23 318.10,397.30 C319.30,398.37 320.10,398.75 321.30,399.70 C322.50,400.65 323.83,402.72 325.30,403.00 C326.77,403.28 328.63,400.68 330.10,401.40 C331.57,402.12 331.28,406.32 334.10,407.30 L347.00,407.30" fill="none" stroke="#f01010" stroke-width="2.0" stroke-linejoin="round"/>
<path d="M358.90,407.30 V313.90 H452.50" fill="none" stroke="#9a9a9a" stroke-width="1"/>
<line x1="358.40" y1="406.80" x2="452.50" y2="406.80" stroke="#9a9a9a" stroke-width="1"/>
<line x1="355.40" y1="407.30" x2="358.40" y2="407.30" stroke="#222" stroke-width="1"/>
<line x1="355.40" y1="389.52" x2="358.40" y2="389.52" stroke="#222" stroke-width="1"/>
<line x1="355.40" y1="371.74" x2="358.40" y2="371.74" stroke="#222" stroke-width="1"/>
<line x1="355.40" y1="353.96" x2="358.40" y2="353.96" stroke="#222" stroke-width="1"/>
<line x1="355.40" y1="336.18" x2="358.40" y2="336.18" stroke="#222" stroke-width="1"/>
<line x1="355.40" y1="318.40" x2="358.40" y2="318.40" stroke="#222" stroke-width="1"/>
<line x1="356.90" y1="407.30" x2="358.40" y2="407.30" stroke="#666" stroke-width="0.6"/>
<line x1="356.90" y1="403.74" x2="358.40" y2="403.74" stroke="#666" stroke-width="0.6"/>
<line x1="356.90" y1="400.19" x2="358.40" y2="400.19" stroke="#666" stroke-width="0.6"/>
<line x1="356.90" y1="396.63" x2="358.40" y2="396.63" stroke="#666" stroke-width="0.6"/>
<line x1="356.90" y1="393.08" x2="358.40" y2="393.08" stroke="#666" stroke-width="0.6"/>
<line x1="356.90" y1="389.52" x2="358.40" y2="389.52" stroke="#666" stroke-width="0.6"/>
<line x1="356.90" y1="385.96" x2="358.40" y2="385.96" stroke="#666" stroke-width="0.6"/>
<line x1="356.90" y1="382.41" x2="358.40" y2="382.41" stroke="#666" stroke-width="0.6"/>
<line x1="356.90" y1="378.85" x2="358.40" y2="378.85" stroke="#666" stroke-width="0.6"/>
<line x1="356.90" y1="375.30" x2="358.40" y2="375.30" stroke="#666" stroke-width="0.6"/>
<line x1="356.90" y1="371.74" x2="358.40" y2="371.74" stroke="#666" stroke-width="0.6"/>
<line x1="356.90" y1="368.18" x2="358.40" y2="368.18" stroke="#666" stroke-width="0.6"/>
<line x1="356.90" y1="364.63" x2="358.40" y2="364.63" stroke="#666" stroke-width="0.6"/>
<line x1="356.90" y1="361.07" x2="358.40" y2="361.07" stroke="#666" stroke-width="0.6"/>
<line x1="356.90" y1="357.52" x2="358.40" y2="357.52" stroke="#666" stroke-width="0.6"/>
<line x1="356.90" y1="353.96" x2="358.40" y2="353.96" stroke="#666" stroke-width="0.6"/>
<line x1="356.90" y1="350.40" x2="358.40" y2="350.40" stroke="#666" stroke-width="0.6"/>
<line x1="356.90" y1="346.85" x2="358.40" y2="346.85" stroke="#666" stroke-width="0.6"/>
<line x1="356.90" y1="343.29" x2="358.40" y2="343.29" stroke="#666" stroke-width="0.6"/>
<line x1="356.90" y1="339.74" x2="358.40" y2="339.74" stroke="#666" stroke-width="0.6"/>
<line x1="356.90" y1="336.18" x2="358.40" y2="336.18" stroke="#666" stroke-width="0.6"/>
<line x1="356.90" y1="332.62" x2="358.40" y2="332.62" stroke="#666" stroke-width="0.6"/>
<line x1="356.90" y1="329.07" x2="358.40" y2="329.07" stroke="#666" stroke-width="0.6"/>
<line x1="356.90" y1="325.51" x2="358.40" y2="325.51" stroke="#666" stroke-width="0.6"/>
<line x1="356.90" y1="321.96" x2="358.40" y2="321.96" stroke="#666" stroke-width="0.6"/>
<line x1="375.70" y1="407.30" x2="375.70" y2="409.80" stroke="#222" stroke-width="1"/>
<text x="375.70" y="419.07" font-size="9.5" text-anchor="middle"   fill="#111" >0</text>
<line x1="404.20" y1="407.30" x2="404.20" y2="409.80" stroke="#222" stroke-width="1"/>
<text x="404.20" y="419.23" font-size="9.97" text-anchor="middle" fill="#111">10<tspan font-size="5.8" dy="-3.99">3</tspan></text>
<line x1="425.90" y1="407.30" x2="425.90" y2="409.80" stroke="#222" stroke-width="1"/>
<text x="425.90" y="419.23" font-size="9.97" text-anchor="middle" fill="#111">10<tspan font-size="5.8" dy="-3.99">4</tspan></text>
<line x1="444.80" y1="407.30" x2="444.80" y2="409.80" stroke="#222" stroke-width="1"/>
<text x="444.80" y="419.23" font-size="9.97" text-anchor="middle" fill="#111">10<tspan font-size="5.8" dy="-3.99">5</tspan></text>
<text x="362.00" y="433.08" font-size="11"  textLength="75.5" lengthAdjust="spacingAndGlyphs"  fill="#111" >CD16 - APCCY7</text>
<path d="M358.90,407.30 C360.23,407.30 364.90,407.30 366.90,407.30 C368.90,403.63 369.70,394.32 370.90,385.30 C372.10,376.28 373.17,363.37 374.10,353.20 C375.03,343.03 375.83,328.85 376.50,324.30 C377.17,319.75 377.57,326.30 378.10,325.90 C378.63,325.50 379.17,321.37 379.70,321.90 C380.23,322.43 380.77,324.42 381.30,329.10 C381.83,333.78 382.23,342.78 382.90,350.00 C383.57,357.22 384.50,365.45 385.30,372.40 C386.10,379.35 386.75,387.28 387.70,391.70 C388.65,396.12 389.78,397.28 391.00,398.90 C392.22,400.52 393.80,401.53 395.00,401.40 C396.20,401.27 397.13,398.92 398.20,398.10 C399.27,397.28 400.33,397.17 401.40,396.50 C402.47,395.83 403.53,393.57 404.60,394.10 C405.67,394.63 406.73,397.82 407.80,399.70 C408.87,401.58 410.07,404.13 411.00,405.40 C411.93,406.67 406.57,406.98 413.40,407.30 L452.00,407.30" fill="none" stroke="#1a6fe0" stroke-width="2.0" stroke-linejoin="round"/>
<path d="M367.70,407.30 C368.37,402.30 370.63,387.38 371.70,377.30 C372.77,367.22 373.30,355.68 374.10,346.80 C374.90,337.92 375.83,326.95 376.50,324.00 C377.17,321.05 377.43,324.23 378.10,329.10 C378.77,333.97 379.57,343.83 380.50,353.20 C381.43,362.57 382.63,376.73 383.70,385.30 C384.77,393.87 385.97,400.93 386.90,404.60 C387.83,407.30 388.90,406.85 389.30,407.30" fill="none" stroke="#18d010" stroke-width="2.0" stroke-linejoin="round"/>
<path d="M358.90,407.30 C359.97,407.30 363.57,407.30 365.30,407.30 C367.03,404.43 367.97,398.58 369.30,390.10 C370.63,381.62 372.10,364.83 373.30,356.40 C374.50,347.97 375.57,341.92 376.50,339.50 C377.43,337.08 378.10,339.08 378.90,341.90 C379.70,344.72 380.50,350.23 381.30,356.40 C382.10,362.57 382.77,371.68 383.70,378.90 C384.63,386.12 385.68,395.15 386.90,399.70 C388.12,404.25 387.82,405.07 391.00,406.20 L406.00,406.50 C409.50,406.68 404.33,407.17 412.00,407.30 L452.00,407.30" fill="none" stroke="#f01010" stroke-width="2.0" stroke-linejoin="round"/>
<path d="M463.90,407.30 V314.70 H557.50" fill="none" stroke="#9a9a9a" stroke-width="1"/>
<line x1="463.40" y1="406.80" x2="557.50" y2="406.80" stroke="#9a9a9a" stroke-width="1"/>
<line x1="460.40" y1="407.30" x2="463.40" y2="407.30" stroke="#222" stroke-width="1"/>
<line x1="460.40" y1="389.68" x2="463.40" y2="389.68" stroke="#222" stroke-width="1"/>
<line x1="460.40" y1="372.06" x2="463.40" y2="372.06" stroke="#222" stroke-width="1"/>
<line x1="460.40" y1="354.44" x2="463.40" y2="354.44" stroke="#222" stroke-width="1"/>
<line x1="460.40" y1="336.82" x2="463.40" y2="336.82" stroke="#222" stroke-width="1"/>
<line x1="460.40" y1="319.20" x2="463.40" y2="319.20" stroke="#222" stroke-width="1"/>
<line x1="461.90" y1="407.30" x2="463.40" y2="407.30" stroke="#666" stroke-width="0.6"/>
<line x1="461.90" y1="403.78" x2="463.40" y2="403.78" stroke="#666" stroke-width="0.6"/>
<line x1="461.90" y1="400.25" x2="463.40" y2="400.25" stroke="#666" stroke-width="0.6"/>
<line x1="461.90" y1="396.73" x2="463.40" y2="396.73" stroke="#666" stroke-width="0.6"/>
<line x1="461.90" y1="393.20" x2="463.40" y2="393.20" stroke="#666" stroke-width="0.6"/>
<line x1="461.90" y1="389.68" x2="463.40" y2="389.68" stroke="#666" stroke-width="0.6"/>
<line x1="461.90" y1="386.16" x2="463.40" y2="386.16" stroke="#666" stroke-width="0.6"/>
<line x1="461.90" y1="382.63" x2="463.40" y2="382.63" stroke="#666" stroke-width="0.6"/>
<line x1="461.90" y1="379.11" x2="463.40" y2="379.11" stroke="#666" stroke-width="0.6"/>
<line x1="461.90" y1="375.58" x2="463.40" y2="375.58" stroke="#666" stroke-width="0.6"/>
<line x1="461.90" y1="372.06" x2="463.40" y2="372.06" stroke="#666" stroke-width="0.6"/>
<line x1="461.90" y1="368.54" x2="463.40" y2="368.54" stroke="#666" stroke-width="0.6"/>
<line x1="461.90" y1="365.01" x2="463.40" y2="365.01" stroke="#666" stroke-width="0.6"/>
<line x1="461.90" y1="361.49" x2="463.40" y2="361.49" stroke="#666" stroke-width="0.6"/>
<line x1="461.90" y1="357.96" x2="463.40" y2="357.96" stroke="#666" stroke-width="0.6"/>
<line x1="461.90" y1="354.44" x2="463.40" y2="354.44" stroke="#666" stroke-width="0.6"/>
<line x1="461.90" y1="350.92" x2="463.40" y2="350.92" stroke="#666" stroke-width="0.6"/>
<line x1="461.90" y1="347.39" x2="463.40" y2="347.39" stroke="#666" stroke-width="0.6"/>
<line x1="461.90" y1="343.87" x2="463.40" y2="343.87" stroke="#666" stroke-width="0.6"/>
<line x1="461.90" y1="340.34" x2="463.40" y2="340.34" stroke="#666" stroke-width="0.6"/>
<line x1="461.90" y1="336.82" x2="463.40" y2="336.82" stroke="#666" stroke-width="0.6"/>
<line x1="461.90" y1="333.30" x2="463.40" y2="333.30" stroke="#666" stroke-width="0.6"/>
<line x1="461.90" y1="329.77" x2="463.40" y2="329.77" stroke="#666" stroke-width="0.6"/>
<line x1="461.90" y1="326.25" x2="463.40" y2="326.25" stroke="#666" stroke-width="0.6"/>
<line x1="461.90" y1="322.72" x2="463.40" y2="322.72" stroke="#666" stroke-width="0.6"/>
<line x1="473.50" y1="407.30" x2="473.50" y2="409.80" stroke="#222" stroke-width="1"/>
<text x="473.50" y="419.07" font-size="9.5" text-anchor="middle"   fill="#111" >0</text>
<line x1="505.60" y1="407.30" x2="505.60" y2="409.80" stroke="#222" stroke-width="1"/>
<text x="505.60" y="419.23" font-size="9.97" text-anchor="middle" fill="#111">10<tspan font-size="5.8" dy="-3.99">3</tspan></text>
<line x1="528.00" y1="407.30" x2="528.00" y2="409.80" stroke="#222" stroke-width="1"/>
<text x="528.00" y="419.23" font-size="9.97" text-anchor="middle" fill="#111">10<tspan font-size="5.8" dy="-3.99">4</tspan></text>
<line x1="549.00" y1="407.30" x2="549.00" y2="409.80" stroke="#222" stroke-width="1"/>
<text x="549.00" y="419.23" font-size="9.97" text-anchor="middle" fill="#111">10<tspan font-size="5.8" dy="-3.99">5</tspan></text>
<text x="468.70" y="433.08" font-size="11"  textLength="73" lengthAdjust="spacingAndGlyphs"  fill="#111" >CD161 - BV510</text>
<path d="M463.90,407.30 C465.37,407.30 470.17,407.30 472.70,407.30 C475.23,406.58 476.97,405.33 479.10,403.00 C481.23,400.67 483.77,397.58 485.50,393.30 C487.23,389.02 488.17,385.33 489.50,377.30 C490.83,369.27 492.42,352.60 493.50,345.10 C494.58,337.60 495.25,336.43 496.00,332.30 C496.75,328.17 497.33,322.17 498.00,320.30 C498.67,318.43 499.27,319.63 500.00,321.10 C500.73,322.57 501.60,324.82 502.40,329.10 C503.20,333.38 503.87,338.77 504.80,346.80 C505.73,354.83 506.93,369.28 508.00,377.30 C509.07,385.32 510.00,390.35 511.20,394.90 C512.40,399.45 514.00,402.53 515.20,404.60 C516.40,406.67 517.87,406.85 518.40,407.30" fill="none" stroke="#1a6fe0" stroke-width="2.0" stroke-linejoin="round"/>
<path d="M477.50,407.30 C479.10,406.98 484.57,406.38 487.10,405.40 C489.63,404.42 491.22,403.68 492.70,401.40 C494.18,399.12 494.92,396.53 496.00,391.70 C497.08,386.87 498.13,380.17 499.20,372.40 C500.27,364.63 501.60,351.78 502.40,345.10 C503.20,338.42 503.38,336.43 504.00,332.30 C504.62,328.17 505.43,320.57 506.10,320.30 C506.77,320.03 507.28,325.75 508.00,330.70 C508.72,335.65 509.60,343.05 510.40,350.00 C511.20,356.95 512.00,364.92 512.80,372.40 C513.60,379.88 514.40,389.53 515.20,394.90 C516.00,400.27 516.80,402.53 517.60,404.60 C518.40,406.67 519.60,406.85 520.00,407.30" fill="none" stroke="#18d010" stroke-width="2.0" stroke-linejoin="round"/>
<path d="M463.90,407.30 C465.10,407.30 469.10,407.30 471.10,407.30 C473.10,406.32 474.30,402.93 475.90,401.40 C477.50,399.87 479.37,398.38 480.70,398.10 C482.03,397.82 482.83,400.23 483.90,399.70 C484.97,399.17 486.03,398.37 487.10,394.90 C488.17,391.43 489.23,382.65 490.30,378.90 C491.37,375.15 492.55,376.15 493.50,372.40 C494.45,368.65 495.18,360.95 496.00,356.40 C496.82,351.85 497.60,348.48 498.40,345.10 C499.20,341.72 499.73,337.88 500.80,336.10 C501.87,334.32 503.73,332.90 504.80,334.40 C505.87,335.90 506.40,341.17 507.20,345.10 C508.00,349.03 508.80,354.52 509.60,358.00 C510.40,361.48 511.33,361.18 512.00,366.00 C512.67,370.82 512.80,380.47 513.60,386.90 C514.40,393.33 515.73,401.20 516.80,404.60 C517.87,407.30 513.30,406.85 520.00,407.30 L557.00,407.30" fill="none" stroke="#f01010" stroke-width="2.0" stroke-linejoin="round"/>
<rect x="44.30" y="441.90" width="93.00" height="92.50" fill="none" stroke="#9a9a9a" stroke-width="1"/>
<line x1="40.80" y1="534.90" x2="43.80" y2="534.90" stroke="#222" stroke-width="1"/>
<text x="39.80" y="538.31" font-size="9.9" text-anchor="end" textLength="4.74" lengthAdjust="spacingAndGlyphs"  fill="#111" >0</text>
<line x1="40.80" y1="517.20" x2="43.80" y2="517.20" stroke="#222" stroke-width="1"/>
<text x="39.80" y="520.61" font-size="9.9" text-anchor="end" textLength="9.47" lengthAdjust="spacingAndGlyphs"  fill="#111" >20</text>
<line x1="40.80" y1="499.50" x2="43.80" y2="499.50" stroke="#222" stroke-width="1"/>
<text x="39.80" y="502.91" font-size="9.9" text-anchor="end" textLength="9.47" lengthAdjust="spacingAndGlyphs"  fill="#111" >40</text>
<line x1="40.80" y1="481.80" x2="43.80" y2="481.80" stroke="#222" stroke-width="1"/>
<text x="39.80" y="485.21" font-size="9.9" text-anchor="end" textLength="9.47" lengthAdjust="spacingAndGlyphs"  fill="#111" >60</text>
<line x1="40.80" y1="464.10" x2="43.80" y2="464.10" stroke="#222" stroke-width="1"/>
<text x="39.80" y="467.51" font-size="9.9" text-anchor="end" textLength="9.47" lengthAdjust="spacingAndGlyphs"  fill="#111" >80</text>
<line x1="40.80" y1="446.40" x2="43.80" y2="446.40" stroke="#222" stroke-width="1"/>
<text x="39.80" y="449.81" font-size="9.9" text-anchor="end" textLength="14.21" lengthAdjust="spacingAndGlyphs"  fill="#111" >100</text>
<line x1="42.30" y1="534.90" x2="43.80" y2="534.90" stroke="#666" stroke-width="0.6"/>
<line x1="42.30" y1="531.36" x2="43.80" y2="531.36" stroke="#666" stroke-width="0.6"/>
<line x1="42.30" y1="527.82" x2="43.80" y2="527.82" stroke="#666" stroke-width="0.6"/>
<line x1="42.30" y1="524.28" x2="43.80" y2="524.28" stroke="#666" stroke-width="0.6"/>
<line x1="42.30" y1="520.74" x2="43.80" y2="520.74" stroke="#666" stroke-width="0.6"/>
<line x1="42.30" y1="517.20" x2="43.80" y2="517.20" stroke="#666" stroke-width="0.6"/>
<line x1="42.30" y1="513.66" x2="43.80" y2="513.66" stroke="#666" stroke-width="0.6"/>
<line x1="42.30" y1="510.12" x2="43.80" y2="510.12" stroke="#666" stroke-width="0.6"/>
<line x1="42.30" y1="506.58" x2="43.80" y2="506.58" stroke="#666" stroke-width="0.6"/>
<line x1="42.30" y1="503.04" x2="43.80" y2="503.04" stroke="#666" stroke-width="0.6"/>
<line x1="42.30" y1="499.50" x2="43.80" y2="499.50" stroke="#666" stroke-width="0.6"/>
<line x1="42.30" y1="495.96" x2="43.80" y2="495.96" stroke="#666" stroke-width="0.6"/>
<line x1="42.30" y1="492.42" x2="43.80" y2="492.42" stroke="#666" stroke-width="0.6"/>
<line x1="42.30" y1="488.88" x2="43.80" y2="488.88" stroke="#666" stroke-width="0.6"/>
<line x1="42.30" y1="485.34" x2="43.80" y2="485.34" stroke="#666" stroke-width="0.6"/>
<line x1="42.30" y1="481.80" x2="43.80" y2="481.80" stroke="#666" stroke-width="0.6"/>
<line x1="42.30" y1="478.26" x2="43.80" y2="478.26" stroke="#666" stroke-width="0.6"/>
<line x1="42.30" y1="474.72" x2="43.80" y2="474.72" stroke="#666" stroke-width="0.6"/>
<line x1="42.30" y1="471.18" x2="43.80" y2="471.18" stroke="#666" stroke-width="0.6"/>
<line x1="42.30" y1="467.64" x2="43.80" y2="467.64" stroke="#666" stroke-width="0.6"/>
<line x1="42.30" y1="464.10" x2="43.80" y2="464.10" stroke="#666" stroke-width="0.6"/>
<line x1="42.30" y1="460.56" x2="43.80" y2="460.56" stroke="#666" stroke-width="0.6"/>
<line x1="42.30" y1="457.02" x2="43.80" y2="457.02" stroke="#666" stroke-width="0.6"/>
<line x1="42.30" y1="453.48" x2="43.80" y2="453.48" stroke="#666" stroke-width="0.6"/>
<line x1="42.30" y1="449.94" x2="43.80" y2="449.94" stroke="#666" stroke-width="0.6"/>
<text transform="translate(21.90,494.60) rotate(-90)" x="0" y="3.65" font-size="10.6" text-anchor="middle" textLength="43.8" lengthAdjust="spacingAndGlyphs"  fill="#111" >% to max</text>
<line x1="52.30" y1="534.90" x2="52.30" y2="537.40" stroke="#222" stroke-width="1"/>
<text x="52.30" y="547.63" font-size="9.97" text-anchor="middle" fill="#111">10<tspan font-size="5.8" dy="-3.99">-3</tspan></text>
<line x1="66.30" y1="534.90" x2="66.30" y2="537.40" stroke="#222" stroke-width="1"/>
<text x="66.30" y="547.47" font-size="9.5" text-anchor="middle"   fill="#111" >0</text>
<line x1="82.40" y1="534.90" x2="82.40" y2="537.40" stroke="#222" stroke-width="1"/>
<text x="82.40" y="547.63" font-size="9.97" text-anchor="middle" fill="#111">10<tspan font-size="5.8" dy="-3.99">3</tspan></text>
<line x1="108.10" y1="534.90" x2="108.10" y2="537.40" stroke="#222" stroke-width="1"/>
<text x="108.10" y="547.63" font-size="9.97" text-anchor="middle" fill="#111">10<tspan font-size="5.8" dy="-3.99">4</tspan></text>
<line x1="130.20" y1="534.90" x2="130.20" y2="537.40" stroke="#222" stroke-width="1"/>
<text x="130.20" y="547.63" font-size="9.97" text-anchor="middle" fill="#111">10<tspan font-size="5.8" dy="-3.99">5</tspan></text>
<text x="44.60" y="560.98" font-size="11"  textLength="81.9" lengthAdjust="spacingAndGlyphs"  fill="#111" >CD117 - PECY55</text>
<path d="M44.30,534.90 C45.83,534.90 51.30,534.90 53.50,534.90 C55.70,534.03 56.30,534.57 57.50,529.70 C58.70,524.83 59.63,514.25 60.70,505.70 C61.77,497.15 63.02,484.83 63.90,478.40 C64.78,471.97 65.38,469.92 66.00,467.10 C66.62,464.28 67.02,461.50 67.60,461.50 C68.18,461.50 68.83,465.77 69.50,467.10 C70.17,468.43 70.93,467.35 71.60,469.50 C72.27,471.65 72.92,475.85 73.50,480.00 C74.08,484.15 74.42,488.25 75.10,494.40 C75.78,500.55 76.78,511.02 77.60,516.90 C78.42,522.78 78.80,526.88 80.00,529.70 C81.20,532.52 83.20,532.93 84.80,533.80 C86.40,534.67 88.80,534.72 89.60,534.90" fill="none" stroke="#1a6fe0" stroke-width="2.0" stroke-linejoin="round"/>
<path d="M59.10,534.90 C60.17,534.45 63.77,532.92 65.50,532.20 C67.23,531.48 68.37,531.42 69.50,530.60 C70.63,529.78 71.22,527.30 72.30,527.30 C73.38,527.30 74.45,530.73 76.00,530.60 C77.55,530.47 79.87,527.98 81.60,526.50 C83.33,525.02 85.07,525.17 86.40,521.70 C87.73,518.23 88.53,509.98 89.60,505.70 C90.67,501.42 91.87,498.95 92.80,496.00 C93.73,493.05 94.40,491.48 95.20,488.00 C96.00,484.52 96.93,479.25 97.60,475.10 C98.27,470.95 98.60,462.02 99.20,463.10 C99.80,464.18 100.53,475.85 101.20,481.60 C101.87,487.35 102.45,493.05 103.20,497.60 C103.95,502.15 104.62,504.35 105.70,508.90 C106.78,513.45 108.37,520.57 109.70,524.90 C111.03,529.23 113.03,533.23 113.70,534.90" fill="none" stroke="#18d010" stroke-width="2.0" stroke-linejoin="round"/>
<path d="M44.30,534.90 L56.70,534.90 C59.43,532.43 59.50,525.23 60.70,520.10 C61.90,514.97 62.97,507.85 63.90,504.10 C64.83,500.35 65.50,498.15 66.30,497.60 C67.10,497.05 68.03,501.07 68.70,500.80 C69.37,500.53 69.77,498.93 70.30,496.00 C70.83,493.07 71.23,482.93 71.90,483.20 C72.57,483.47 73.35,493.85 74.30,497.60 C75.25,501.35 76.65,503.82 77.60,505.70 C78.55,507.58 79.07,508.90 80.00,508.90 C80.93,508.90 82.08,506.65 83.20,505.70 C84.32,504.75 85.63,501.33 86.70,503.20 C87.77,505.07 88.72,512.88 89.60,516.90 C90.48,520.92 90.67,525.17 92.00,527.30 C93.33,529.43 96.13,529.02 97.60,529.70 C99.07,530.38 99.32,530.53 100.80,531.40 C102.28,532.27 100.38,534.32 106.50,534.90 L137.50,534.90" fill="none" stroke="#f01010" stroke-width="2.0" stroke-linejoin="round"/>
<path d="M149.30,534.90 V441.90 H242.80" fill="none" stroke="#9a9a9a" stroke-width="1"/>
<line x1="148.80" y1="534.40" x2="242.80" y2="534.40" stroke="#9a9a9a" stroke-width="1"/>
<line x1="145.80" y1="534.90" x2="148.80" y2="534.90" stroke="#222" stroke-width="1"/>
<line x1="145.80" y1="517.20" x2="148.80" y2="517.20" stroke="#222" stroke-width="1"/>
<line x1="145.80" y1="499.50" x2="148.80" y2="499.50" stroke="#222" stroke-width="1"/>
<line x1="145.80" y1="481.80" x2="148.80" y2="481.80" stroke="#222" stroke-width="1"/>
<line x1="145.80" y1="464.10" x2="148.80" y2="464.10" stroke="#222" stroke-width="1"/>
<line x1="145.80" y1="446.40" x2="148.80" y2="446.40" stroke="#222" stroke-width="1"/>
<line x1="147.30" y1="534.90" x2="148.80" y2="534.90" stroke="#666" stroke-width="0.6"/>
<line x1="147.30" y1="531.36" x2="148.80" y2="531.36" stroke="#666" stroke-width="0.6"/>
<line x1="147.30" y1="527.82" x2="148.80" y2="527.82" stroke="#666" stroke-width="0.6"/>
<line x1="147.30" y1="524.28" x2="148.80" y2="524.28" stroke="#666" stroke-width="0.6"/>
<line x1="147.30" y1="520.74" x2="148.80" y2="520.74" stroke="#666" stroke-width="0.6"/>
<line x1="147.30" y1="517.20" x2="148.80" y2="517.20" stroke="#666" stroke-width="0.6"/>
<line x1="147.30" y1="513.66" x2="148.80" y2="513.66" stroke="#666" stroke-width="0.6"/>
<line x1="147.30" y1="510.12" x2="148.80" y2="510.12" stroke="#666" stroke-width="0.6"/>
<line x1="147.30" y1="506.58" x2="148.80" y2="506.58" stroke="#666" stroke-width="0.6"/>
<line x1="147.30" y1="503.04" x2="148.80" y2="503.04" stroke="#666" stroke-width="0.6"/>
<line x1="147.30" y1="499.50" x2="148.80" y2="499.50" stroke="#666" stroke-width="0.6"/>
<line x1="147.30" y1="495.96" x2="148.80" y2="495.96" stroke="#666" stroke-width="0.6"/>
<line x1="147.30" y1="492.42" x2="148.80" y2="492.42" stroke="#666" stroke-width="0.6"/>
<line x1="147.30" y1="488.88" x2="148.80" y2="488.88" stroke="#666" stroke-width="0.6"/>
<line x1="147.30" y1="485.34" x2="148.80" y2="485.34" stroke="#666" stroke-width="0.6"/>
<line x1="147.30" y1="481.80" x2="148.80" y2="481.80" stroke="#666" stroke-width="0.6"/>
<line x1="147.30" y1="478.26" x2="148.80" y2="478.26" stroke="#666" stroke-width="0.6"/>
<line x1="147.30" y1="474.72" x2="148.80" y2="474.72" stroke="#666" stroke-width="0.6"/>
<line x1="147.30" y1="471.18" x2="148.80" y2="471.18" stroke="#666" stroke-width="0.6"/>
<line x1="147.30" y1="467.64" x2="148.80" y2="467.64" stroke="#666" stroke-width="0.6"/>
<line x1="147.30" y1="464.10" x2="148.80" y2="464.10" stroke="#666" stroke-width="0.6"/>
<line x1="147.30" y1="460.56" x2="148.80" y2="460.56" stroke="#666" stroke-width="0.6"/>
<line x1="147.30" y1="457.02" x2="148.80" y2="457.02" stroke="#666" stroke-width="0.6"/>
<line x1="147.30" y1="453.48" x2="148.80" y2="453.48" stroke="#666" stroke-width="0.6"/>
<line x1="147.30" y1="449.94" x2="148.80" y2="449.94" stroke="#666" stroke-width="0.6"/>
<line x1="173.70" y1="534.90" x2="173.70" y2="537.40" stroke="#222" stroke-width="1"/>
<text x="173.70" y="547.47" font-size="9.5" text-anchor="middle"   fill="#111" >0</text>
<line x1="201.80" y1="534.90" x2="201.80" y2="537.40" stroke="#222" stroke-width="1"/>
<text x="201.80" y="547.63" font-size="9.97" text-anchor="middle" fill="#111">10<tspan font-size="5.8" dy="-3.99">3</tspan></text>
<line x1="219.50" y1="534.90" x2="219.50" y2="537.40" stroke="#222" stroke-width="1"/>
<text x="219.50" y="547.63" font-size="9.97" text-anchor="middle" fill="#111">10<tspan font-size="5.8" dy="-3.99">4</tspan></text>
<line x1="237.10" y1="534.90" x2="237.10" y2="537.40" stroke="#222" stroke-width="1"/>
<text x="237.10" y="547.63" font-size="9.97" text-anchor="middle" fill="#111">10<tspan font-size="5.8" dy="-3.99">5</tspan></text>
<text x="164.10" y="560.98" font-size="11"  textLength="62.6" lengthAdjust="spacingAndGlyphs"  fill="#111" >NKp44 - APC</text>
<path d="M149.30,534.90 L161.70,534.90 C164.43,533.50 164.50,531.92 165.70,526.50 C166.90,521.08 167.83,510.97 168.90,502.40 C169.97,493.83 171.17,482.58 172.10,475.10 C173.03,467.62 173.57,461.50 174.50,457.50 C175.43,453.50 176.82,452.57 177.70,451.10 C178.58,449.63 179.12,448.43 179.80,448.70 C180.48,448.97 181.15,449.63 181.80,452.70 C182.45,455.77 183.03,462.02 183.70,467.10 C184.37,472.18 185.18,477.32 185.80,483.20 C186.42,489.08 186.73,495.45 187.40,502.40 C188.07,509.35 189.00,520.07 189.80,524.90 C190.60,529.73 190.87,530.18 192.20,531.40 C193.53,532.62 195.80,531.80 197.80,532.20 C199.80,532.60 202.32,533.35 204.20,533.80 C206.08,534.25 208.28,534.72 209.10,534.90" fill="none" stroke="#1a6fe0" stroke-width="2.0" stroke-linejoin="round"/>
<path d="M164.90,534.90 C165.57,534.58 167.43,534.40 168.90,533.00 C170.37,531.60 172.10,528.65 173.70,526.50 C175.30,524.35 177.15,522.10 178.50,520.10 C179.85,518.10 180.45,515.83 181.80,514.50 C183.15,513.17 185.13,513.17 186.60,512.10 C188.07,511.03 189.27,509.72 190.60,508.10 C191.93,506.48 193.40,504.95 194.60,502.40 C195.80,499.85 196.87,496.53 197.80,492.80 C198.73,489.07 199.53,485.62 200.20,480.00 C200.87,474.38 201.27,464.60 201.80,459.10 C202.33,453.60 202.87,447.53 203.40,447.00 C203.93,446.47 204.38,448.53 205.00,455.90 C205.62,463.27 206.42,479.17 207.10,491.20 C207.78,503.23 208.37,520.82 209.10,528.10 C209.83,534.90 211.10,533.77 211.50,534.90" fill="none" stroke="#18d010" stroke-width="2.0" stroke-linejoin="round"/>
<path d="M149.30,534.90 L161.70,534.90 C164.30,534.32 163.83,533.87 164.90,531.40 C165.97,528.93 167.03,524.93 168.10,520.10 C169.17,515.27 170.23,507.75 171.30,502.40 C172.37,497.05 173.57,493.62 174.50,488.00 C175.43,482.38 176.23,470.58 176.90,468.70 C177.57,466.82 177.90,476.17 178.50,476.70 C179.10,477.23 179.82,470.82 180.50,471.90 C181.18,472.98 181.85,479.72 182.60,483.20 C183.35,486.68 184.20,488.78 185.00,492.80 C185.80,496.82 186.60,502.75 187.40,507.30 C188.20,511.85 188.87,516.77 189.80,520.10 C190.73,523.43 191.93,526.23 193.00,527.30 C194.07,528.37 195.13,526.90 196.20,526.50 C197.27,526.10 198.33,525.62 199.40,524.90 C200.47,524.18 201.67,522.07 202.60,522.20 C203.53,522.33 204.05,524.07 205.00,525.70 C205.95,527.33 207.35,530.47 208.30,532.00 C209.25,533.53 205.00,534.42 210.70,534.90 L242.50,534.90" fill="none" stroke="#f01010" stroke-width="2.0" stroke-linejoin="round"/>
<rect x="253.90" y="441.90" width="93.10" height="92.50" fill="none" stroke="#9a9a9a" stroke-width="1"/>
<line x1="250.40" y1="534.90" x2="253.40" y2="534.90" stroke="#222" stroke-width="1"/>
<line x1="250.40" y1="517.20" x2="253.40" y2="517.20" stroke="#222" stroke-width="1"/>
<line x1="250.40" y1="499.50" x2="253.40" y2="499.50" stroke="#222" stroke-width="1"/>
<line x1="250.40" y1="481.80" x2="253.40" y2="481.80" stroke="#222" stroke-width="1"/>
<line x1="250.40" y1="464.10" x2="253.40" y2="464.10" stroke="#222" stroke-width="1"/>
<line x1="250.40" y1="446.40" x2="253.40" y2="446.40" stroke="#222" stroke-width="1"/>
<line x1="251.90" y1="534.90" x2="253.40" y2="534.90" stroke="#666" stroke-width="0.6"/>
<line x1="251.90" y1="531.36" x2="253.40" y2="531.36" stroke="#666" stroke-width="0.6"/>
<line x1="251.90" y1="527.82" x2="253.40" y2="527.82" stroke="#666" stroke-width="0.6"/>
<line x1="251.90" y1="524.28" x2="253.40" y2="524.28" stroke="#666" stroke-width="0.6"/>
<line x1="251.90" y1="520.74" x2="253.40" y2="520.74" stroke="#666" stroke-width="0.6"/>
<line x1="251.90" y1="517.20" x2="253.40" y2="517.20" stroke="#666" stroke-width="0.6"/>
<line x1="251.90" y1="513.66" x2="253.40" y2="513.66" stroke="#666" stroke-width="0.6"/>
<line x1="251.90" y1="510.12" x2="253.40" y2="510.12" stroke="#666" stroke-width="0.6"/>
<line x1="251.90" y1="506.58" x2="253.40" y2="506.58" stroke="#666" stroke-width="0.6"/>
<line x1="251.90" y1="503.04" x2="253.40" y2="503.04" stroke="#666" stroke-width="0.6"/>
<line x1="251.90" y1="499.50" x2="253.40" y2="499.50" stroke="#666" stroke-width="0.6"/>
<line x1="251.90" y1="495.96" x2="253.40" y2="495.96" stroke="#666" stroke-width="0.6"/>
<line x1="251.90" y1="492.42" x2="253.40" y2="492.42" stroke="#666" stroke-width="0.6"/>
<line x1="251.90" y1="488.88" x2="253.40" y2="488.88" stroke="#666" stroke-width="0.6"/>
<line x1="251.90" y1="485.34" x2="253.40" y2="485.34" stroke="#666" stroke-width="0.6"/>
<line x1="251.90" y1="481.80" x2="253.40" y2="481.80" stroke="#666" stroke-width="0.6"/>
<line x1="251.90" y1="478.26" x2="253.40" y2="478.26" stroke="#666" stroke-width="0.6"/>
<line x1="251.90" y1="474.72" x2="253.40" y2="474.72" stroke="#666" stroke-width="0.6"/>
<line x1="251.90" y1="471.18" x2="253.40" y2="471.18" stroke="#666" stroke-width="0.6"/>
<line x1="251.90" y1="467.64" x2="253.40" y2="467.64" stroke="#666" stroke-width="0.6"/>
<line x1="251.90" y1="464.10" x2="253.40" y2="464.10" stroke="#666" stroke-width="0.6"/>
<line x1="251.90" y1="460.56" x2="253.40" y2="460.56" stroke="#666" stroke-width="0.6"/>
<line x1="251.90" y1="457.02" x2="253.40" y2="457.02" stroke="#666" stroke-width="0.6"/>
<line x1="251.90" y1="453.48" x2="253.40" y2="453.48" stroke="#666" stroke-width="0.6"/>
<line x1="251.90" y1="449.94" x2="253.40" y2="449.94" stroke="#666" stroke-width="0.6"/>
<line x1="262.20" y1="534.90" x2="262.20" y2="537.40" stroke="#222" stroke-width="1"/>
<text x="262.20" y="547.63" font-size="9.97" text-anchor="middle" fill="#111">10<tspan font-size="5.8" dy="-3.99">-3</tspan></text>
<line x1="275.50" y1="534.90" x2="275.50" y2="537.40" stroke="#222" stroke-width="1"/>
<text x="275.50" y="547.47" font-size="9.5" text-anchor="middle"   fill="#111" >0</text>
<line x1="292.40" y1="534.90" x2="292.40" y2="537.40" stroke="#222" stroke-width="1"/>
<text x="292.40" y="547.63" font-size="9.97" text-anchor="middle" fill="#111">10<tspan font-size="5.8" dy="-3.99">3</tspan></text>
<line x1="318.10" y1="534.90" x2="318.10" y2="537.40" stroke="#222" stroke-width="1"/>
<text x="318.10" y="547.63" font-size="9.97" text-anchor="middle" fill="#111">10<tspan font-size="5.8" dy="-3.99">4</tspan></text>
<line x1="340.10" y1="534.90" x2="340.10" y2="537.40" stroke="#222" stroke-width="1"/>
<text x="340.10" y="547.63" font-size="9.97" text-anchor="middle" fill="#111">10<tspan font-size="5.8" dy="-3.99">5</tspan></text>
<text x="252.20" y="560.98" font-size="11"  textLength="85.9" lengthAdjust="spacingAndGlyphs"  fill="#111" >CD200R1 - BV421</text>
<path d="M253.90,534.90 C254.83,534.90 258.03,534.90 259.50,534.90 C260.97,534.03 261.63,530.83 262.70,529.70 C263.77,528.57 264.97,529.97 265.90,528.10 C266.83,526.23 267.37,521.17 268.30,518.50 C269.23,515.83 270.57,515.05 271.50,512.10 C272.43,509.15 273.10,503.08 273.90,500.80 C274.70,498.52 275.50,498.13 276.30,498.40 C277.10,498.67 277.77,500.52 278.70,502.40 C279.63,504.28 280.97,508.62 281.90,509.70 C282.83,510.78 283.48,508.50 284.30,508.90 C285.12,509.30 285.98,513.72 286.80,512.10 C287.62,510.48 288.40,502.68 289.20,499.20 C290.00,495.72 290.80,491.20 291.60,491.20 C292.40,491.20 293.15,500.00 294.00,499.20 C294.85,498.40 295.82,490.82 296.70,486.40 C297.58,481.98 298.50,472.70 299.30,472.70 C300.10,472.70 300.70,484.65 301.50,486.40 C302.30,488.15 303.22,483.47 304.10,483.20 C304.98,482.93 305.95,483.60 306.80,484.80 C307.65,486.00 308.40,486.92 309.20,490.40 C310.00,493.88 310.65,501.02 311.60,505.70 C312.55,510.38 313.68,514.22 314.90,518.50 C316.12,522.78 317.43,528.78 318.90,531.40 C320.37,534.02 322.37,533.80 323.70,534.20 C325.03,534.60 326.10,533.68 326.90,533.80 C327.70,533.92 328.23,534.72 328.50,534.90" fill="none" stroke="#1a6fe0" stroke-width="2.0" stroke-linejoin="round"/>
<path d="M257.00,534.90 C258.22,534.58 262.02,533.87 264.30,533.00 C266.58,532.13 268.83,530.78 270.70,529.70 C272.57,528.62 274.03,526.50 275.50,526.50 C276.97,526.50 278.03,528.88 279.50,529.70 C280.97,530.52 282.68,531.67 284.30,531.40 C285.92,531.13 287.58,529.18 289.20,528.10 C290.82,527.02 292.67,525.83 294.00,524.90 C295.33,523.97 296.13,522.77 297.20,522.50 C298.27,522.23 299.33,525.30 300.40,523.30 C301.47,521.30 302.53,515.05 303.60,510.50 C304.67,505.95 305.87,501.63 306.80,496.00 C307.73,490.37 308.40,479.63 309.20,476.70 C310.00,473.77 310.93,480.40 311.60,478.40 C312.27,476.40 312.52,465.75 313.20,464.70 C313.88,463.65 315.02,471.70 315.70,472.10 C316.38,472.50 316.63,465.78 317.30,467.10 C317.97,468.42 318.90,476.78 319.70,480.00 C320.50,483.22 321.30,480.52 322.10,486.40 C322.90,492.28 323.57,509.68 324.50,515.30 C325.43,520.92 326.63,517.70 327.70,520.10 C328.77,522.50 329.70,527.23 330.90,529.70 C332.10,532.17 334.23,534.03 334.90,534.90" fill="none" stroke="#18d010" stroke-width="2.0" stroke-linejoin="round"/>
<path d="M253.90,534.90 C255.90,534.90 263.10,534.90 265.90,534.90 C268.70,534.32 269.10,532.67 270.70,531.40 C272.30,530.13 274.17,527.98 275.50,527.30 C276.83,526.62 277.50,526.62 278.70,527.30 C279.90,527.98 281.22,530.58 282.70,531.40 C284.18,532.22 286.12,532.48 287.60,532.20 C289.08,531.92 290.40,530.92 291.60,529.70 C292.80,528.48 293.73,525.43 294.80,524.90 C295.87,524.37 296.93,527.30 298.00,526.50 C299.07,525.70 300.13,524.12 301.20,520.10 C302.27,516.08 303.47,505.07 304.40,502.40 C305.33,499.73 306.00,505.17 306.80,504.10 C307.60,503.03 308.13,499.62 309.20,496.00 C310.27,492.38 312.12,482.40 313.20,482.40 C314.28,482.40 314.88,491.72 315.70,496.00 C316.52,500.28 317.17,506.62 318.10,508.10 C319.03,509.58 320.23,503.17 321.30,504.90 C322.37,506.63 323.30,514.08 324.50,518.50 C325.70,522.92 327.17,528.67 328.50,531.40 C329.83,534.13 329.42,534.32 332.50,534.90 L347.00,534.90" fill="none" stroke="#f01010" stroke-width="2.0" stroke-linejoin="round"/>
<rect x="358.90" y="441.90" width="93.10" height="93.00" fill="none" stroke="#9a9a9a" stroke-width="1"/>
<line x1="355.40" y1="535.40" x2="358.40" y2="535.40" stroke="#222" stroke-width="1"/>
<line x1="355.40" y1="517.60" x2="358.40" y2="517.60" stroke="#222" stroke-width="1"/>
<line x1="355.40" y1="499.80" x2="358.40" y2="499.80" stroke="#222" stroke-width="1"/>
<line x1="355.40" y1="482.00" x2="358.40" y2="482.00" stroke="#222" stroke-width="1"/>
<line x1="355.40" y1="464.20" x2="358.40" y2="464.20" stroke="#222" stroke-width="1"/>
<line x1="355.40" y1="446.40" x2="358.40" y2="446.40" stroke="#222" stroke-width="1"/>
<line x1="356.90" y1="535.40" x2="358.40" y2="535.40" stroke="#666" stroke-width="0.6"/>
<line x1="356.90" y1="531.84" x2="358.40" y2="531.84" stroke="#666" stroke-width="0.6"/>
<line x1="356.90" y1="528.28" x2="358.40" y2="528.28" stroke="#666" stroke-width="0.6"/>
<line x1="356.90" y1="524.72" x2="358.40" y2="524.72" stroke="#666" stroke-width="0.6"/>
<line x1="356.90" y1="521.16" x2="358.40" y2="521.16" stroke="#666" stroke-width="0.6"/>
<line x1="356.90" y1="517.60" x2="358.40" y2="517.60" stroke="#666" stroke-width="0.6"/>
<line x1="356.90" y1="514.04" x2="358.40" y2="514.04" stroke="#666" stroke-width="0.6"/>
<line x1="356.90" y1="510.48" x2="358.40" y2="510.48" stroke="#666" stroke-width="0.6"/>
<line x1="356.90" y1="506.92" x2="358.40" y2="506.92" stroke="#666" stroke-width="0.6"/>
<line x1="356.90" y1="503.36" x2="358.40" y2="503.36" stroke="#666" stroke-width="0.6"/>
<line x1="356.90" y1="499.80" x2="358.40" y2="499.80" stroke="#666" stroke-width="0.6"/>
<line x1="356.90" y1="496.24" x2="358.40" y2="496.24" stroke="#666" stroke-width="0.6"/>
<line x1="356.90" y1="492.68" x2="358.40" y2="492.68" stroke="#666" stroke-width="0.6"/>
<line x1="356.90" y1="489.12" x2="358.40" y2="489.12" stroke="#666" stroke-width="0.6"/>
<line x1="356.90" y1="485.56" x2="358.40" y2="485.56" stroke="#666" stroke-width="0.6"/>
<line x1="356.90" y1="482.00" x2="358.40" y2="482.00" stroke="#666" stroke-width="0.6"/>
<line x1="356.90" y1="478.44" x2="358.40" y2="478.44" stroke="#666" stroke-width="0.6"/>
<line x1="356.90" y1="474.88" x2="358.40" y2="474.88" stroke="#666" stroke-width="0.6"/>
<line x1="356.90" y1="471.32" x2="358.40" y2="471.32" stroke="#666" stroke-width="0.6"/>
<line x1="356.90" y1="467.76" x2="358.40" y2="467.76" stroke="#666" stroke-width="0.6"/>
<line x1="356.90" y1="464.20" x2="358.40" y2="464.20" stroke="#666" stroke-width="0.6"/>
<line x1="356.90" y1="460.64" x2="358.40" y2="460.64" stroke="#666" stroke-width="0.6"/>
<line x1="356.90" y1="457.08" x2="358.40" y2="457.08" stroke="#666" stroke-width="0.6"/>
<line x1="356.90" y1="453.52" x2="358.40" y2="453.52" stroke="#666" stroke-width="0.6"/>
<line x1="356.90" y1="449.96" x2="358.40" y2="449.96" stroke="#666" stroke-width="0.6"/>
<line x1="365.30" y1="535.40" x2="365.30" y2="537.90" stroke="#222" stroke-width="1"/>
<text x="365.30" y="547.63" font-size="9.97" text-anchor="middle" fill="#111">10<tspan font-size="5.8" dy="-3.99">-3</tspan></text>
<line x1="379.70" y1="535.40" x2="379.70" y2="537.90" stroke="#222" stroke-width="1"/>
<text x="379.70" y="547.47" font-size="9.5" text-anchor="middle"   fill="#111" >0</text>
<line x1="396.60" y1="535.40" x2="396.60" y2="537.90" stroke="#222" stroke-width="1"/>
<text x="396.60" y="547.63" font-size="9.97" text-anchor="middle" fill="#111">10<tspan font-size="5.8" dy="-3.99">3</tspan></text>
<line x1="422.20" y1="535.40" x2="422.20" y2="537.90" stroke="#222" stroke-width="1"/>
<text x="422.20" y="547.63" font-size="9.97" text-anchor="middle" fill="#111">10<tspan font-size="5.8" dy="-3.99">4</tspan></text>
<line x1="444.80" y1="535.40" x2="444.80" y2="537.90" stroke="#222" stroke-width="1"/>
<text x="444.80" y="547.63" font-size="9.97" text-anchor="middle" fill="#111">10<tspan font-size="5.8" dy="-3.99">5</tspan></text>
<text x="369.30" y="560.98" font-size="11"  textLength="61.8" lengthAdjust="spacingAndGlyphs"  fill="#111" >RORγt - APC</text>
<path d="M371.70,535.40 C372.50,534.45 375.17,532.52 376.50,529.70 C377.83,526.88 378.77,523.05 379.70,518.50 C380.63,513.95 381.43,507.08 382.10,502.40 C382.77,497.72 383.17,492.80 383.70,490.40 C384.23,488.00 384.63,488.13 385.30,488.00 C385.97,487.87 386.90,489.07 387.70,489.60 C388.50,490.13 389.28,493.88 390.10,491.20 C390.92,488.52 391.85,476.98 392.60,473.50 C393.35,470.02 393.93,471.23 394.60,470.30 C395.27,469.37 396.00,467.10 396.60,467.90 C397.20,468.70 397.53,470.42 398.20,475.10 C398.87,479.78 399.80,490.10 400.60,496.00 C401.40,501.90 402.20,504.60 403.00,510.50 C403.80,516.40 404.73,527.25 405.40,531.40 C406.07,535.40 406.73,534.73 407.00,535.40" fill="none" stroke="#18d010" stroke-width="2.0" stroke-linejoin="round"/>
<path d="M358.90,535.40 C360.77,535.40 367.57,535.40 370.10,535.40 C372.63,534.73 372.90,532.88 374.10,531.40 C375.30,529.92 376.37,529.72 377.30,526.50 C378.23,523.28 379.03,516.65 379.70,512.10 C380.37,507.55 380.77,502.95 381.30,499.20 C381.83,495.45 382.30,490.53 382.90,489.60 C383.50,488.67 384.23,493.60 384.90,493.60 C385.57,493.60 386.17,488.13 386.90,489.60 C387.63,491.07 388.48,498.38 389.30,502.40 C390.12,506.42 390.98,509.95 391.80,513.70 C392.62,517.45 393.40,521.68 394.20,524.90 C395.00,528.12 395.80,531.25 396.60,533.00 C397.40,534.75 398.60,535.00 399.00,535.40" fill="none" stroke="#2a2ae8" stroke-width="2.0" stroke-linejoin="round"/>
<path d="M358.90,535.40 C360.63,535.40 366.77,535.40 369.30,535.40 C371.83,534.73 372.63,534.22 374.10,531.40 C375.57,528.58 376.90,521.45 378.10,518.50 C379.30,515.55 380.23,513.97 381.30,513.70 C382.37,513.43 383.35,518.50 384.50,516.90 C385.65,515.30 387.27,505.17 388.20,504.10 C389.13,503.03 389.37,507.30 390.10,510.50 C390.83,513.70 391.78,519.68 392.60,523.30 C393.42,526.92 394.07,530.45 395.00,532.20 C395.93,533.95 396.60,533.53 398.20,533.80 C399.80,534.07 402.73,533.67 404.60,533.80 C406.47,533.93 408.20,534.33 409.40,534.60 C410.60,534.87 404.70,535.27 411.80,535.40 L452.00,535.40" fill="none" stroke="#f01010" stroke-width="2.0" stroke-linejoin="round"/>
<rect x="462.70" y="441.90" width="93.30" height="92.50" fill="none" stroke="#9a9a9a" stroke-width="1"/>
<line x1="459.20" y1="534.90" x2="462.20" y2="534.90" stroke="#222" stroke-width="1"/>
<line x1="459.20" y1="517.20" x2="462.20" y2="517.20" stroke="#222" stroke-width="1"/>
<line x1="459.20" y1="499.50" x2="462.20" y2="499.50" stroke="#222" stroke-width="1"/>
<line x1="459.20" y1="481.80" x2="462.20" y2="481.80" stroke="#222" stroke-width="1"/>
<line x1="459.20" y1="464.10" x2="462.20" y2="464.10" stroke="#222" stroke-width="1"/>
<line x1="459.20" y1="446.40" x2="462.20" y2="446.40" stroke="#222" stroke-width="1"/>
<line x1="460.70" y1="534.90" x2="462.20" y2="534.90" stroke="#666" stroke-width="0.6"/>
<line x1="460.70" y1="531.36" x2="462.20" y2="531.36" stroke="#666" stroke-width="0.6"/>
<line x1="460.70" y1="527.82" x2="462.20" y2="527.82" stroke="#666" stroke-width="0.6"/>
<line x1="460.70" y1="524.28" x2="462.20" y2="524.28" stroke="#666" stroke-width="0.6"/>
<line x1="460.70" y1="520.74" x2="462.20" y2="520.74" stroke="#666" stroke-width="0.6"/>
<line x1="460.70" y1="517.20" x2="462.20" y2="517.20" stroke="#666" stroke-width="0.6"/>
<line x1="460.70" y1="513.66" x2="462.20" y2="513.66" stroke="#666" stroke-width="0.6"/>
<line x1="460.70" y1="510.12" x2="462.20" y2="510.12" stroke="#666" stroke-width="0.6"/>
<line x1="460.70" y1="506.58" x2="462.20" y2="506.58" stroke="#666" stroke-width="0.6"/>
<line x1="460.70" y1="503.04" x2="462.20" y2="503.04" stroke="#666" stroke-width="0.6"/>
<line x1="460.70" y1="499.50" x2="462.20" y2="499.50" stroke="#666" stroke-width="0.6"/>
<line x1="460.70" y1="495.96" x2="462.20" y2="495.96" stroke="#666" stroke-width="0.6"/>
<line x1="460.70" y1="492.42" x2="462.20" y2="492.42" stroke="#666" stroke-width="0.6"/>
<line x1="460.70" y1="488.88" x2="462.20" y2="488.88" stroke="#666" stroke-width="0.6"/>
<line x1="460.70" y1="485.34" x2="462.20" y2="485.34" stroke="#666" stroke-width="0.6"/>
<line x1="460.70" y1="481.80" x2="462.20" y2="481.80" stroke="#666" stroke-width="0.6"/>
<line x1="460.70" y1="478.26" x2="462.20" y2="478.26" stroke="#666" stroke-width="0.6"/>
<line x1="460.70" y1="474.72" x2="462.20" y2="474.72" stroke="#666" stroke-width="0.6"/>
<line x1="460.70" y1="471.18" x2="462.20" y2="471.18" stroke="#666" stroke-width="0.6"/>
<line x1="460.70" y1="467.64" x2="462.20" y2="467.64" stroke="#666" stroke-width="0.6"/>
<line x1="460.70" y1="464.10" x2="462.20" y2="464.10" stroke="#666" stroke-width="0.6"/>
<line x1="460.70" y1="460.56" x2="462.20" y2="460.56" stroke="#666" stroke-width="0.6"/>
<line x1="460.70" y1="457.02" x2="462.20" y2="457.02" stroke="#666" stroke-width="0.6"/>
<line x1="460.70" y1="453.48" x2="462.20" y2="453.48" stroke="#666" stroke-width="0.6"/>
<line x1="460.70" y1="449.94" x2="462.20" y2="449.94" stroke="#666" stroke-width="0.6"/>
<line x1="470.20" y1="534.90" x2="470.20" y2="537.40" stroke="#222" stroke-width="1"/>
<text x="470.20" y="547.63" font-size="9.97" text-anchor="middle" fill="#111">10<tspan font-size="5.8" dy="-3.99">-3</tspan></text>
<line x1="483.90" y1="534.90" x2="483.90" y2="537.40" stroke="#222" stroke-width="1"/>
<text x="483.90" y="547.47" font-size="9.5" text-anchor="middle"   fill="#111" >0</text>
<line x1="500.70" y1="534.90" x2="500.70" y2="537.40" stroke="#222" stroke-width="1"/>
<text x="500.70" y="547.63" font-size="9.97" text-anchor="middle" fill="#111">10<tspan font-size="5.8" dy="-3.99">3</tspan></text>
<line x1="527.30" y1="534.90" x2="527.30" y2="537.40" stroke="#222" stroke-width="1"/>
<text x="527.30" y="547.63" font-size="9.97" text-anchor="middle" fill="#111">10<tspan font-size="5.8" dy="-3.99">4</tspan></text>
<line x1="548.10" y1="534.90" x2="548.10" y2="537.40" stroke="#222" stroke-width="1"/>
<text x="548.10" y="547.63" font-size="9.97" text-anchor="middle" fill="#111">10<tspan font-size="5.8" dy="-3.99">5</tspan></text>
<text x="467.80" y="560.98" font-size="11"  textLength="69.1" lengthAdjust="spacingAndGlyphs"  fill="#111" >Eomes - PETX</text>
<path d="M481.50,534.90 C481.90,533.23 483.23,531.38 483.90,524.90 C484.57,518.42 485.02,505.10 485.50,496.00 C485.98,486.90 486.35,475.43 486.80,470.30 C487.25,465.17 487.75,464.93 488.20,465.20 C488.65,465.47 489.02,466.23 489.50,471.90 C489.98,477.57 490.43,490.37 491.10,499.20 C491.77,508.03 492.68,519.27 493.50,524.90 C494.32,530.53 494.38,531.52 496.00,533.00 C497.62,534.48 500.93,533.48 503.20,533.80 C505.47,534.12 508.53,534.72 509.60,534.90" fill="none" stroke="#18d010" stroke-width="2.0" stroke-linejoin="round"/>
<path d="M482.30,534.90 C483.10,534.32 485.63,532.93 487.10,531.40 C488.57,529.87 489.90,526.65 491.10,525.70 C492.30,524.75 493.22,526.90 494.30,525.70 C495.38,524.50 496.25,520.50 497.60,518.50 C498.95,516.50 501.20,516.92 502.40,513.70 C503.60,510.48 504.18,502.95 504.80,499.20 C505.42,495.45 505.57,490.67 506.10,491.20 C506.63,491.73 507.28,499.18 508.00,502.40 C508.72,505.62 509.60,508.75 510.40,510.50 C511.20,512.25 511.87,510.23 512.80,512.90 C513.73,515.57 514.93,524.77 516.00,526.50 C517.07,528.23 518.27,522.48 519.20,523.30 C520.13,524.12 520.78,529.47 521.60,531.40 C522.42,533.33 523.68,534.32 524.10,534.90" fill="none" stroke="#1a6fe0" stroke-width="2.0" stroke-linejoin="round"/>
<path d="M462.70,534.90 L483.10,534.90 C487.03,534.32 485.23,534.13 486.30,531.40 C487.37,528.67 488.43,523.33 489.50,518.50 C490.57,513.67 491.77,507.08 492.70,502.40 C493.63,497.72 494.37,492.53 495.10,490.40 C495.83,488.27 496.42,492.15 497.10,489.60 C497.78,487.05 498.67,478.05 499.20,475.10 C499.73,472.15 499.77,471.75 500.30,471.90 C500.83,472.05 501.78,475.60 502.40,476.00 C503.02,476.40 503.33,472.57 504.00,474.30 C504.67,476.03 505.68,484.38 506.40,486.40 C507.12,488.42 507.63,485.07 508.30,486.40 C508.97,487.73 509.65,490.92 510.40,494.40 C511.15,497.88 512.00,502.75 512.80,507.30 C513.60,511.85 514.40,517.97 515.20,521.70 C516.00,525.43 516.67,528.08 517.60,529.70 C518.53,531.32 519.72,530.53 520.80,531.40 C521.88,532.27 518.23,534.32 524.10,534.90 L556.00,534.90" fill="none" stroke="#f01010" stroke-width="2.0" stroke-linejoin="round"/>
<rect x="565.00" y="318.05" width="13.90" height="11.70" stroke="#f23a3a" stroke-width="1.5" fill="none"/>
<text x="581.50" y="328.28" font-size="11"  textLength="72" lengthAdjust="spacingAndGlyphs"  fill="#111" >CD127+CD94+</text>
<rect x="565.00" y="335.25" width="13.90" height="11.70" stroke="#2a72d8" stroke-width="1.5" fill="none"/>
<text x="581.50" y="345.48" font-size="11"  textLength="94.6" lengthAdjust="spacingAndGlyphs"  fill="#111" >CD127-CD94+ cells</text>
<rect x="565.00" y="352.35" width="13.90" height="11.70" stroke="#3ccc3c" stroke-width="1.5" fill="none"/>
<text x="581.50" y="362.58" font-size="11"  textLength="72" lengthAdjust="spacingAndGlyphs"  fill="#111" >CD127+CD94-</text>
<rect x="42.20" y="80.20" width="2.4" height="4" fill="#111"/>
<rect x="63.70" y="112.20" width="5" height="1.6" fill="#111"/>
<rect x="193.60" y="88.00" width="2.4" height="4" fill="#111"/>
<rect x="215.50" y="112.20" width="5" height="1.6" fill="#111"/>
<rect x="310.10" y="88.00" width="2.4" height="4" fill="#111"/>
<rect x="332.50" y="112.20" width="5" height="1.6" fill="#111"/>
<rect x="192.60" y="223.80" width="2.4" height="4" fill="#111"/>
<rect x="214.10" y="245.80" width="5" height="1.6" fill="#111"/>
<rect x="309.40" y="223.80" width="2.4" height="4" fill="#111"/>
<rect x="330.70" y="245.80" width="5" height="1.6" fill="#111"/>
<rect x="460.40" y="112.60" width="5" height="1.6" fill="#111"/>
<rect x="568.00" y="112.60" width="5" height="1.6" fill="#111"/>
<rect x="63.30" y="245.70" width="5" height="1.6" fill="#111"/>
<rect x="461.00" y="245.70" width="5" height="1.6" fill="#111"/>
<rect x="58.65" y="407.80" width="4.5" height="1.6" fill="#111"/>
<rect x="179.15" y="407.70" width="4.5" height="1.6" fill="#111"/>
<rect x="272.75" y="407.50" width="4.5" height="1.6" fill="#111"/>
<rect x="373.25" y="407.50" width="4.5" height="1.6" fill="#111"/>
<rect x="471.25" y="407.50" width="4.5" height="1.6" fill="#111"/>
<rect x="64.05" y="535.10" width="4.5" height="1.6" fill="#111"/>
<rect x="171.45" y="535.10" width="4.5" height="1.6" fill="#111"/>
<rect x="273.25" y="535.10" width="4.5" height="1.6" fill="#111"/>
<rect x="377.45" y="535.60" width="4.5" height="1.6" fill="#111"/>
<rect x="481.65" y="535.10" width="4.5" height="1.6" fill="#111"/>
<text x="0.4" y="591.9" font-size="15" font-weight="bold" fill="#000">c</text>
<text x="424.2" y="590.7" font-size="14.5" font-weight="bold" fill="#000">d</text>
<line x1="54.00" y1="603.30" x2="54.00" y2="731.70" stroke="#222" stroke-width="1.2"/>
<line x1="53.40" y1="731.10" x2="218.20" y2="731.10" stroke="#222" stroke-width="1.2"/>
<line x1="51.50" y1="725.20" x2="54.00" y2="725.20" stroke="#222" stroke-width="1"/>
<text x="44.50" y="729.61" font-size="10.5" text-anchor="middle"   fill="#111" >0</text>
<line x1="51.50" y1="694.98" x2="54.00" y2="694.98" stroke="#222" stroke-width="1"/>
<text x="44.50" y="699.39" font-size="10.5" text-anchor="middle"   fill="#111" >1</text>
<line x1="51.50" y1="664.75" x2="54.00" y2="664.75" stroke="#222" stroke-width="1"/>
<text x="44.50" y="669.16" font-size="10.5" text-anchor="middle"   fill="#111" >2</text>
<line x1="51.50" y1="634.52" x2="54.00" y2="634.52" stroke="#222" stroke-width="1"/>
<text x="44.50" y="638.94" font-size="10.5" text-anchor="middle"   fill="#111" >3</text>
<line x1="51.50" y1="604.30" x2="54.00" y2="604.30" stroke="#222" stroke-width="1"/>
<text x="44.50" y="608.71" font-size="10.5" text-anchor="middle"   fill="#111" >4</text>
<text x="135.80" y="604.61" font-size="10.5" font-weight="bold" text-anchor="middle" fill="#111">TCF7</text>
<text transform="translate(30.20,668.30) rotate(-90)" x="0" y="3.61" font-size="10.5" text-anchor="middle" textLength="79.8" lengthAdjust="spacingAndGlyphs"  fill="#111" >Expression Level</text>
<line x1="66.30" y1="731.10" x2="66.30" y2="733.60" stroke="#222" stroke-width="1"/>
<text x="66.30" y="743.91" font-size="10.5" text-anchor="middle"   fill="#111" >1</text>
<line x1="86.23" y1="731.10" x2="86.23" y2="733.60" stroke="#222" stroke-width="1"/>
<text x="86.23" y="743.91" font-size="10.5" text-anchor="middle"   fill="#111" >2</text>
<line x1="106.16" y1="731.10" x2="106.16" y2="733.60" stroke="#222" stroke-width="1"/>
<text x="106.16" y="743.91" font-size="10.5" text-anchor="middle"   fill="#111" >3</text>
<line x1="126.09" y1="731.10" x2="126.09" y2="733.60" stroke="#222" stroke-width="1"/>
<text x="126.09" y="743.91" font-size="10.5" text-anchor="middle"   fill="#111" >4</text>
<line x1="146.02" y1="731.10" x2="146.02" y2="733.60" stroke="#222" stroke-width="1"/>
<text x="146.02" y="743.91" font-size="10.5" text-anchor="middle"   fill="#111" >5</text>
<line x1="165.95" y1="731.10" x2="165.95" y2="733.60" stroke="#222" stroke-width="1"/>
<text x="165.95" y="743.91" font-size="10.5" text-anchor="middle"   fill="#111" >6</text>
<line x1="185.88" y1="731.10" x2="185.88" y2="733.60" stroke="#222" stroke-width="1"/>
<text x="185.88" y="743.91" font-size="10.5" text-anchor="middle"   fill="#111" >7</text>
<line x1="205.81" y1="731.10" x2="205.81" y2="733.60" stroke="#222" stroke-width="1"/>
<text x="205.81" y="743.91" font-size="10.5" text-anchor="middle"   fill="#111" >8</text>
<path d="M65.60,725.20 C65.42,723.19 65.22,717.14 64.50,713.11 C63.78,709.08 62.40,704.55 61.30,701.02 C60.20,697.49 58.62,695.08 57.90,691.95 C57.18,688.83 56.87,684.80 57.00,682.28 C57.13,679.76 57.75,679.26 58.70,676.84 C59.65,674.42 61.63,671.30 62.70,667.77 C63.77,664.25 64.50,659.96 65.10,655.68 C65.70,651.40 65.90,642.08 66.30,642.08 C66.70,642.08 66.90,651.40 67.50,655.68 C68.10,659.96 68.83,664.25 69.90,667.77 C70.97,671.30 72.95,674.42 73.90,676.84 C74.85,679.26 75.47,679.76 75.60,682.28 C75.73,684.80 75.42,688.83 74.70,691.95 C73.98,695.08 72.40,697.49 71.30,701.02 C70.20,704.55 68.82,709.08 68.10,713.11 C67.38,717.14 67.18,723.19 67.00,725.20 Z" fill="#F8766D" stroke="#1e1e1e" stroke-width="0.85" stroke-linejoin="round"/>
<path d="M85.53,725.20 C85.35,723.69 85.15,719.66 84.43,716.13 C83.71,712.61 82.38,707.97 81.23,704.04 C80.08,700.11 77.90,695.58 77.53,692.56 C77.16,689.53 78.55,688.53 79.03,685.91 C79.51,683.29 79.56,680.37 80.43,676.84 C81.30,673.31 83.26,667.72 84.23,664.75 C85.20,661.78 85.56,659.01 86.23,659.01 C86.90,659.01 87.26,661.78 88.23,664.75 C89.20,667.72 91.16,673.31 92.03,676.84 C92.90,680.37 92.95,683.29 93.43,685.91 C93.91,688.53 95.30,689.53 94.93,692.56 C94.56,695.58 92.38,700.11 91.23,704.04 C90.08,707.97 88.75,712.61 88.03,716.13 C87.31,719.66 87.11,723.69 86.93,725.20 Z" fill="#CD9600" stroke="#1e1e1e" stroke-width="0.85" stroke-linejoin="round"/>
<line x1="106.16" y1="640.57" x2="106.16" y2="617.90" stroke="#1e1e1e" stroke-width="0.8"/>
<path d="M106.16,710.09 C105.63,708.93 104.19,706.06 102.96,703.14 C101.73,700.21 99.76,696.34 98.76,692.56 C97.76,688.78 96.96,684.45 96.96,680.47 C96.96,676.49 97.88,672.81 98.76,668.68 C99.64,664.55 101.18,659.86 102.26,655.68 C103.34,651.50 104.61,646.11 105.26,643.59 C105.91,641.07 105.86,640.57 106.16,640.57 C106.46,640.57 106.41,641.07 107.06,643.59 C107.71,646.11 108.98,651.50 110.06,655.68 C111.14,659.86 112.68,664.55 113.56,668.68 C114.44,672.81 115.36,676.49 115.36,680.47 C115.36,684.45 114.56,688.78 113.56,692.56 C112.56,696.34 110.59,700.21 109.36,703.14 C108.13,706.06 106.69,708.93 106.16,710.09 Z" fill="#7CAE00" stroke="#1e1e1e" stroke-width="0.85" stroke-linejoin="round"/>
<path d="M125.39,725.20 C124.97,722.38 124.01,713.31 122.89,708.27 C121.77,703.24 119.69,699.16 118.69,694.98 C117.69,690.79 116.89,687.12 116.89,683.19 C116.89,679.26 117.69,675.48 118.69,671.40 C119.69,667.32 121.66,662.73 122.89,658.70 C124.12,654.67 125.02,647.22 126.09,647.22 C127.16,647.22 128.06,654.67 129.29,658.70 C130.52,662.73 132.49,667.32 133.49,671.40 C134.49,675.48 135.29,679.26 135.29,683.19 C135.29,687.12 134.49,690.79 133.49,694.98 C132.49,699.16 130.41,703.24 129.29,708.27 C128.17,713.31 127.21,722.38 126.79,725.20 Z" fill="#00BE67" stroke="#1e1e1e" stroke-width="0.85" stroke-linejoin="round"/>
<path d="M136.82,725.20 C137.19,724.80 138.15,723.79 139.02,722.78 C139.89,721.77 141.22,720.77 142.02,719.16 C142.82,717.54 143.85,715.53 143.82,713.11 C143.79,710.69 141.87,707.42 141.82,704.65 C141.77,701.88 142.82,700.06 143.52,696.49 C144.22,692.91 145.19,683.19 146.02,683.19 C146.85,683.19 147.82,692.91 148.52,696.49 C149.22,700.06 150.27,701.88 150.22,704.65 C150.17,707.42 148.25,710.69 148.22,713.11 C148.19,715.53 149.22,717.54 150.02,719.16 C150.82,720.77 152.15,721.77 153.02,722.78 C153.89,723.79 154.85,724.80 155.22,725.20 Z" fill="#00BFC4" stroke="#1e1e1e" stroke-width="0.85" stroke-linejoin="round"/>
<path d="M165.15,725.20 C165.03,724.09 165.20,721.82 164.45,718.55 C163.70,715.28 161.85,710.14 160.65,705.55 C159.45,700.97 157.47,695.43 157.25,691.05 C157.03,686.66 158.43,683.39 159.35,679.26 C160.27,675.13 161.90,669.79 162.75,666.26 C163.60,662.74 163.92,659.86 164.45,658.10 C164.98,656.34 165.45,655.68 165.95,655.68 C166.45,655.68 166.92,656.34 167.45,658.10 C167.98,659.86 168.30,662.74 169.15,666.26 C170.00,669.79 171.63,675.13 172.55,679.26 C173.47,683.39 174.87,686.66 174.65,691.05 C174.43,695.43 172.45,700.97 171.25,705.55 C170.05,710.14 168.20,715.28 167.45,718.55 C166.70,721.82 166.87,724.09 166.75,725.20 Z" fill="#00A9FF" stroke="#1e1e1e" stroke-width="0.85" stroke-linejoin="round"/>
<line x1="185.88" y1="652.66" x2="185.88" y2="629.39" stroke="#1e1e1e" stroke-width="0.8"/>
<path d="M185.18,725.20 C184.86,722.38 184.40,713.31 183.28,708.27 C182.16,703.24 179.58,699.36 178.48,694.98 C177.38,690.59 176.55,686.76 176.68,681.98 C176.81,677.19 177.95,670.64 179.28,666.26 C180.61,661.88 183.58,657.95 184.68,655.68 C185.78,653.42 185.48,652.66 185.88,652.66 C186.28,652.66 185.98,653.42 187.08,655.68 C188.18,657.95 191.15,661.88 192.48,666.26 C193.81,670.64 194.95,677.19 195.08,681.98 C195.21,686.76 194.38,690.59 193.28,694.98 C192.18,699.36 189.60,703.24 188.48,708.27 C187.36,713.31 186.90,722.38 186.58,725.20 Z" fill="#C77CFF" stroke="#1e1e1e" stroke-width="0.85" stroke-linejoin="round"/>
<path d="M205.01,725.20 C204.26,723.24 201.99,717.54 200.51,713.41 C199.03,709.28 196.54,705.20 196.11,700.42 C195.68,695.63 197.18,689.99 197.91,684.70 C198.64,679.41 199.56,673.11 200.51,668.68 C201.46,664.25 202.73,660.27 203.61,658.10 C204.49,655.93 205.08,655.68 205.81,655.68 C206.54,655.68 207.13,655.93 208.01,658.10 C208.89,660.27 210.16,664.25 211.11,668.68 C212.06,673.11 212.98,679.41 213.71,684.70 C214.44,689.99 215.94,695.63 215.51,700.42 C215.08,705.20 212.59,709.28 211.11,713.41 C209.63,717.54 207.36,723.24 206.61,725.20 Z" fill="#FF61CC" stroke="#1e1e1e" stroke-width="0.85" stroke-linejoin="round"/>
<line x1="250.80" y1="603.40" x2="250.80" y2="731.40" stroke="#222" stroke-width="1.2"/>
<line x1="250.20" y1="730.80" x2="414.50" y2="730.80" stroke="#222" stroke-width="1.2"/>
<line x1="248.30" y1="725.10" x2="250.80" y2="725.10" stroke="#222" stroke-width="1"/>
<text x="241.00" y="729.51" font-size="10.5" text-anchor="middle"   fill="#111" >0</text>
<line x1="248.30" y1="694.92" x2="250.80" y2="694.92" stroke="#222" stroke-width="1"/>
<text x="241.00" y="699.34" font-size="10.5" text-anchor="middle"   fill="#111" >1</text>
<line x1="248.30" y1="664.75" x2="250.80" y2="664.75" stroke="#222" stroke-width="1"/>
<text x="241.00" y="669.16" font-size="10.5" text-anchor="middle"   fill="#111" >2</text>
<line x1="248.30" y1="634.58" x2="250.80" y2="634.58" stroke="#222" stroke-width="1"/>
<text x="241.00" y="638.99" font-size="10.5" text-anchor="middle"   fill="#111" >3</text>
<line x1="248.30" y1="604.40" x2="250.80" y2="604.40" stroke="#222" stroke-width="1"/>
<text x="241.00" y="608.81" font-size="10.5" text-anchor="middle"   fill="#111" >4</text>
<text x="337.00" y="604.61" font-size="10.5" font-weight="bold" text-anchor="middle" fill="#111">PRDM1</text>
<line x1="262.90" y1="730.80" x2="262.90" y2="733.30" stroke="#222" stroke-width="1"/>
<text x="262.90" y="744.81" font-size="10.5" text-anchor="middle"   fill="#111" >1</text>
<line x1="282.86" y1="730.80" x2="282.86" y2="733.30" stroke="#222" stroke-width="1"/>
<text x="282.86" y="744.81" font-size="10.5" text-anchor="middle"   fill="#111" >2</text>
<line x1="302.82" y1="730.80" x2="302.82" y2="733.30" stroke="#222" stroke-width="1"/>
<text x="302.82" y="744.81" font-size="10.5" text-anchor="middle"   fill="#111" >3</text>
<line x1="322.78" y1="730.80" x2="322.78" y2="733.30" stroke="#222" stroke-width="1"/>
<text x="322.78" y="744.81" font-size="10.5" text-anchor="middle"   fill="#111" >4</text>
<line x1="342.74" y1="730.80" x2="342.74" y2="733.30" stroke="#222" stroke-width="1"/>
<text x="342.74" y="744.81" font-size="10.5" text-anchor="middle"   fill="#111" >5</text>
<line x1="362.70" y1="730.80" x2="362.70" y2="733.30" stroke="#222" stroke-width="1"/>
<text x="362.70" y="744.81" font-size="10.5" text-anchor="middle"   fill="#111" >6</text>
<line x1="382.66" y1="730.80" x2="382.66" y2="733.30" stroke="#222" stroke-width="1"/>
<text x="382.66" y="744.81" font-size="10.5" text-anchor="middle"   fill="#111" >7</text>
<line x1="402.62" y1="730.80" x2="402.62" y2="733.30" stroke="#222" stroke-width="1"/>
<text x="402.62" y="744.81" font-size="10.5" text-anchor="middle"   fill="#111" >8</text>
<line x1="262.90" y1="697.94" x2="262.90" y2="691.91" stroke="#1e1e1e" stroke-width="0.8"/>
<path d="M254.20,725.10 C254.90,724.60 257.25,723.09 258.40,722.08 C259.55,721.08 260.43,720.17 261.10,719.07 C261.77,717.96 262.45,716.95 262.40,715.44 C262.35,713.94 261.22,711.77 260.80,710.01 C260.38,708.25 259.88,706.49 259.90,704.88 C259.92,703.27 260.60,701.21 260.95,700.36 C261.30,699.50 261.68,700.16 262.00,699.75 C262.32,699.35 262.60,697.94 262.90,697.94 C263.20,697.94 263.47,699.35 263.80,699.75 C264.12,700.16 264.50,699.50 264.85,700.36 C265.20,701.21 265.88,703.27 265.90,704.88 C265.92,706.49 265.42,708.25 265.00,710.01 C264.58,711.77 263.45,713.94 263.40,715.44 C263.35,716.95 264.03,717.96 264.70,719.07 C265.37,720.17 266.25,721.08 267.40,722.08 C268.55,723.09 270.90,724.60 271.60,725.10 Z" fill="#F8766D" stroke="#1e1e1e" stroke-width="0.85" stroke-linejoin="round"/>
<line x1="282.86" y1="694.92" x2="282.86" y2="682.86" stroke="#1e1e1e" stroke-width="0.8"/>
<path d="M274.16,725.10 C274.86,724.60 277.21,723.09 278.36,722.08 C279.51,721.08 280.43,720.17 281.06,719.07 C281.68,717.96 282.47,716.95 282.11,715.44 C281.74,713.94 279.69,711.77 278.87,710.01 C278.04,708.25 277.11,706.49 277.16,704.88 C277.21,703.27 278.35,701.71 279.15,700.36 C279.95,699.00 281.34,697.64 281.96,696.74 C282.58,695.83 282.56,694.92 282.86,694.92 C283.16,694.92 283.14,695.83 283.76,696.74 C284.38,697.64 285.76,699.00 286.56,700.36 C287.36,701.71 288.51,703.27 288.56,704.88 C288.61,706.49 287.67,708.25 286.85,710.01 C286.02,711.77 283.97,713.94 283.61,715.44 C283.24,716.95 284.03,717.96 284.66,719.07 C285.28,720.17 286.21,721.08 287.36,722.08 C288.51,723.09 290.86,724.60 291.56,725.10 Z" fill="#CD9600" stroke="#1e1e1e" stroke-width="0.85" stroke-linejoin="round"/>
<line x1="293.82" y1="725.10" x2="311.82" y2="725.10" stroke="#333" stroke-width="1.0"/>
<line x1="302.82" y1="725.10" x2="302.82" y2="691.91" stroke="#333" stroke-width="0.8"/>
<line x1="301.82" y1="703.98" x2="303.82" y2="703.98" stroke="#555" stroke-width="0.7"/>
<line x1="322.78" y1="697.94" x2="322.78" y2="691.30" stroke="#1e1e1e" stroke-width="0.8"/>
<path d="M314.08,725.10 C314.78,724.60 317.13,723.09 318.28,722.08 C319.43,721.08 320.31,720.17 320.98,719.07 C321.65,717.96 322.33,716.95 322.28,715.44 C322.23,713.94 321.10,711.77 320.68,710.01 C320.26,708.25 319.75,706.49 319.78,704.88 C319.80,703.27 320.48,701.21 320.83,700.36 C321.18,699.50 321.56,700.16 321.88,699.75 C322.20,699.35 322.48,697.94 322.78,697.94 C323.08,697.94 323.35,699.35 323.68,699.75 C324.00,700.16 324.38,699.50 324.73,700.36 C325.08,701.21 325.75,703.27 325.78,704.88 C325.80,706.49 325.30,708.25 324.88,710.01 C324.46,711.77 323.33,713.94 323.28,715.44 C323.23,716.95 323.91,717.96 324.58,719.07 C325.25,720.17 326.13,721.08 327.28,722.08 C328.43,723.09 330.78,724.60 331.48,725.10 Z" fill="#00BE67" stroke="#1e1e1e" stroke-width="0.85" stroke-linejoin="round"/>
<path d="M342.74,706.09 C342.10,705.61 339.86,704.16 338.92,703.20 C337.97,702.23 337.60,701.27 337.07,700.31 C336.54,699.34 336.13,698.38 335.76,697.41 C335.38,696.45 335.07,695.49 334.81,694.52 C334.55,693.56 334.33,692.59 334.21,691.63 C334.09,690.67 334.05,689.70 334.10,688.74 C334.15,687.78 334.33,686.81 334.51,685.85 C334.70,684.88 334.93,683.92 335.20,682.96 C335.48,681.99 335.79,681.03 336.16,680.06 C336.53,679.10 336.93,678.14 337.44,677.17 C337.94,676.21 338.30,675.24 339.18,674.28 C340.07,673.32 341.55,671.39 342.74,671.39 C343.93,671.39 345.41,673.32 346.30,674.28 C347.18,675.24 347.54,676.21 348.04,677.17 C348.55,678.14 348.95,679.10 349.32,680.06 C349.69,681.03 350.00,681.99 350.28,682.96 C350.55,683.92 350.78,684.88 350.97,685.85 C351.15,686.81 351.33,687.78 351.38,688.74 C351.43,689.70 351.39,690.67 351.27,691.63 C351.15,692.59 350.93,693.56 350.67,694.52 C350.41,695.49 350.10,696.45 349.72,697.41 C349.35,698.38 348.94,699.34 348.41,700.31 C347.88,701.27 347.51,702.23 346.56,703.20 C345.62,704.16 343.38,705.61 342.74,706.09 Z" fill="#00BFC4" stroke="#1e1e1e" stroke-width="0.85" stroke-linejoin="round"/>
<line x1="362.70" y1="694.32" x2="362.70" y2="684.36" stroke="#1e1e1e" stroke-width="0.8"/>
<path d="M354.00,725.10 C354.70,724.60 357.05,723.09 358.20,722.08 C359.35,721.08 360.35,720.17 360.90,719.07 C361.45,717.96 361.84,716.95 361.50,715.44 C361.16,713.94 359.57,711.77 358.85,710.01 C358.13,708.25 357.15,706.49 357.20,704.88 C357.25,703.27 358.36,701.81 359.12,700.36 C359.89,698.90 361.20,697.14 361.80,696.13 C362.40,695.13 362.40,694.32 362.70,694.32 C363.00,694.32 363.00,695.13 363.60,696.13 C364.20,697.14 365.51,698.90 366.27,700.36 C367.04,701.81 368.15,703.27 368.20,704.88 C368.25,706.49 367.27,708.25 366.55,710.01 C365.83,711.77 364.24,713.94 363.90,715.44 C363.56,716.95 363.95,717.96 364.50,719.07 C365.05,720.17 366.05,721.08 367.20,722.08 C368.35,723.09 370.70,724.60 371.40,725.10 Z" fill="#00A9FF" stroke="#1e1e1e" stroke-width="0.85" stroke-linejoin="round"/>
<line x1="382.66" y1="694.32" x2="382.66" y2="682.86" stroke="#1e1e1e" stroke-width="0.8"/>
<path d="M373.96,725.10 C374.66,724.60 377.01,723.09 378.16,722.08 C379.31,721.08 380.31,720.17 380.86,719.07 C381.41,717.96 381.80,716.95 381.46,715.44 C381.12,713.94 379.53,711.77 378.81,710.01 C378.09,708.25 377.11,706.49 377.16,704.88 C377.21,703.27 378.32,701.81 379.08,700.36 C379.85,698.90 381.16,697.14 381.76,696.13 C382.36,695.13 382.36,694.32 382.66,694.32 C382.96,694.32 382.96,695.13 383.56,696.13 C384.16,697.14 385.47,698.90 386.23,700.36 C387.00,701.81 388.11,703.27 388.16,704.88 C388.21,706.49 387.23,708.25 386.51,710.01 C385.79,711.77 384.20,713.94 383.86,715.44 C383.52,716.95 383.91,717.96 384.46,719.07 C385.01,720.17 386.01,721.08 387.16,722.08 C388.31,723.09 390.66,724.60 391.36,725.10 Z" fill="#C77CFF" stroke="#1e1e1e" stroke-width="0.85" stroke-linejoin="round"/>
<line x1="402.62" y1="692.51" x2="402.62" y2="682.86" stroke="#1e1e1e" stroke-width="0.8"/>
<path d="M393.92,725.10 C394.45,724.60 396.10,723.19 397.12,722.08 C398.14,720.98 399.44,719.57 400.02,718.46 C400.60,717.36 400.59,716.85 400.62,715.44 C400.65,714.04 400.30,711.67 400.22,710.01 C400.14,708.35 399.99,707.25 400.12,705.49 C400.25,703.73 400.70,701.21 401.02,699.45 C401.34,697.69 401.75,696.08 402.02,694.92 C402.29,693.77 402.42,692.51 402.62,692.51 C402.82,692.51 402.95,693.77 403.22,694.92 C403.49,696.08 403.90,697.69 404.22,699.45 C404.54,701.21 404.99,703.73 405.12,705.49 C405.25,707.25 405.10,708.35 405.02,710.01 C404.94,711.67 404.59,714.04 404.62,715.44 C404.65,716.85 404.64,717.36 405.22,718.46 C405.80,719.57 407.10,720.98 408.12,722.08 C409.14,723.19 410.79,724.60 411.32,725.10 Z" fill="#FF61CC" stroke="#1e1e1e" stroke-width="0.85" stroke-linejoin="round"/>
<line x1="53.00" y1="770.20" x2="53.00" y2="897.80" stroke="#222" stroke-width="1.2"/>
<line x1="52.40" y1="897.20" x2="218.00" y2="897.20" stroke="#222" stroke-width="1.2"/>
<line x1="50.50" y1="891.50" x2="53.00" y2="891.50" stroke="#222" stroke-width="1"/>
<text x="42.50" y="895.91" font-size="10.5" text-anchor="middle"   fill="#111" >0</text>
<line x1="50.50" y1="861.42" x2="53.00" y2="861.42" stroke="#222" stroke-width="1"/>
<text x="42.50" y="865.84" font-size="10.5" text-anchor="middle"   fill="#111" >1</text>
<line x1="50.50" y1="831.35" x2="53.00" y2="831.35" stroke="#222" stroke-width="1"/>
<text x="42.50" y="835.76" font-size="10.5" text-anchor="middle"   fill="#111" >2</text>
<line x1="50.50" y1="801.28" x2="53.00" y2="801.28" stroke="#222" stroke-width="1"/>
<text x="42.50" y="805.69" font-size="10.5" text-anchor="middle"   fill="#111" >3</text>
<line x1="50.50" y1="771.20" x2="53.00" y2="771.20" stroke="#222" stroke-width="1"/>
<text x="42.50" y="775.61" font-size="10.5" text-anchor="middle"   fill="#111" >4</text>
<text x="135.00" y="771.01" font-size="10.5" font-weight="bold" text-anchor="middle" fill="#111">NKG7</text>
<text transform="translate(30.20,840.50) rotate(-90)" x="0" y="3.61" font-size="10.5" text-anchor="middle" textLength="79.8" lengthAdjust="spacingAndGlyphs"  fill="#111" >Expression Level</text>
<line x1="65.60" y1="897.20" x2="65.60" y2="899.70" stroke="#222" stroke-width="1"/>
<text x="65.60" y="909.61" font-size="10.5" text-anchor="middle"   fill="#111" >1</text>
<line x1="85.60" y1="897.20" x2="85.60" y2="899.70" stroke="#222" stroke-width="1"/>
<text x="85.60" y="909.61" font-size="10.5" text-anchor="middle"   fill="#111" >2</text>
<line x1="105.60" y1="897.20" x2="105.60" y2="899.70" stroke="#222" stroke-width="1"/>
<text x="105.60" y="909.61" font-size="10.5" text-anchor="middle"   fill="#111" >3</text>
<line x1="125.60" y1="897.20" x2="125.60" y2="899.70" stroke="#222" stroke-width="1"/>
<text x="125.60" y="909.61" font-size="10.5" text-anchor="middle"   fill="#111" >4</text>
<line x1="145.60" y1="897.20" x2="145.60" y2="899.70" stroke="#222" stroke-width="1"/>
<text x="145.60" y="909.61" font-size="10.5" text-anchor="middle"   fill="#111" >5</text>
<line x1="165.60" y1="897.20" x2="165.60" y2="899.70" stroke="#222" stroke-width="1"/>
<text x="165.60" y="909.61" font-size="10.5" text-anchor="middle"   fill="#111" >6</text>
<line x1="185.60" y1="897.20" x2="185.60" y2="899.70" stroke="#222" stroke-width="1"/>
<text x="185.60" y="909.61" font-size="10.5" text-anchor="middle"   fill="#111" >7</text>
<line x1="205.60" y1="897.20" x2="205.60" y2="899.70" stroke="#222" stroke-width="1"/>
<text x="205.60" y="909.61" font-size="10.5" text-anchor="middle"   fill="#111" >8</text>
<line x1="56.60" y1="891.50" x2="74.60" y2="891.50" stroke="#333" stroke-width="1.0"/>
<line x1="65.60" y1="891.50" x2="65.60" y2="859.62" stroke="#333" stroke-width="0.8"/>
<line x1="64.60" y1="870.45" x2="66.60" y2="870.45" stroke="#555" stroke-width="0.7"/>
<path d="M76.40,891.50 C77.10,890.90 79.40,889.14 80.60,887.89 C81.80,886.64 82.97,885.03 83.60,883.98 C84.23,882.93 84.82,882.83 84.40,881.58 C83.98,880.32 82.13,878.52 81.10,876.46 C80.07,874.41 78.42,871.50 78.20,869.24 C77.98,866.99 79.23,864.98 79.80,862.93 C80.37,860.87 81.10,858.52 81.60,856.91 C82.10,855.31 82.38,854.21 82.80,853.30 C83.22,852.40 83.63,851.90 84.10,851.50 C84.57,851.10 85.10,850.90 85.60,850.90 C86.10,850.90 86.63,851.10 87.10,851.50 C87.57,851.90 87.98,852.40 88.40,853.30 C88.82,854.21 89.10,855.31 89.60,856.91 C90.10,858.52 90.83,860.87 91.40,862.93 C91.97,864.98 93.22,866.99 93.00,869.24 C92.78,871.50 91.13,874.41 90.10,876.46 C89.07,878.52 87.22,880.32 86.80,881.58 C86.38,882.83 86.97,882.93 87.60,883.98 C88.23,885.03 89.40,886.64 90.60,887.89 C91.80,889.14 94.10,890.90 94.80,891.50 Z" fill="#CD9600" stroke="#1e1e1e" stroke-width="0.85" stroke-linejoin="round"/>
<line x1="96.60" y1="891.50" x2="114.60" y2="891.50" stroke="#333" stroke-width="1.0"/>
<line x1="105.60" y1="891.50" x2="105.60" y2="843.38" stroke="#333" stroke-width="0.8"/>
<line x1="104.60" y1="870.45" x2="106.60" y2="870.45" stroke="#555" stroke-width="0.7"/>
<line x1="116.60" y1="891.50" x2="134.60" y2="891.50" stroke="#333" stroke-width="1.0"/>
<line x1="125.60" y1="891.50" x2="125.60" y2="859.62" stroke="#333" stroke-width="0.8"/>
<line x1="124.60" y1="870.45" x2="126.60" y2="870.45" stroke="#555" stroke-width="0.7"/>
<path d="M145.60,861.42 C145.35,861.22 144.85,861.22 144.10,860.22 C143.35,859.22 142.18,857.72 141.10,855.41 C140.02,853.10 138.38,849.90 137.60,846.39 C136.82,842.88 136.40,838.12 136.40,834.36 C136.40,830.60 136.90,826.84 137.60,823.83 C138.30,820.82 139.60,818.82 140.60,816.31 C141.60,813.81 142.77,810.65 143.60,808.79 C144.43,806.94 144.93,805.18 145.60,805.18 C146.27,805.18 146.77,806.94 147.60,808.79 C148.43,810.65 149.60,813.81 150.60,816.31 C151.60,818.82 152.90,820.82 153.60,823.83 C154.30,826.84 154.80,830.60 154.80,834.36 C154.80,838.12 154.38,842.88 153.60,846.39 C152.82,849.90 151.18,853.10 150.10,855.41 C149.02,857.72 147.85,859.22 147.10,860.22 C146.35,861.22 145.85,861.22 145.60,861.42 Z" fill="#00BFC4" stroke="#1e1e1e" stroke-width="0.85" stroke-linejoin="round"/>
<line x1="165.60" y1="831.35" x2="165.60" y2="820.52" stroke="#1e1e1e" stroke-width="0.8"/>
<path d="M162.60,891.50 C162.77,891.10 163.30,890.10 163.60,889.09 C163.90,888.09 164.27,886.74 164.40,885.49 C164.53,884.23 164.73,882.83 164.40,881.58 C164.07,880.32 163.37,879.32 162.40,877.97 C161.43,876.61 159.60,875.31 158.60,873.46 C157.60,871.60 156.67,868.84 156.40,866.84 C156.13,864.83 156.55,863.33 157.00,861.42 C157.45,859.52 158.50,857.41 159.10,855.41 C159.70,853.40 159.93,851.90 160.60,849.39 C161.27,846.89 162.43,842.88 163.10,840.37 C163.77,837.87 164.18,835.86 164.60,834.36 C165.02,832.85 165.27,831.35 165.60,831.35 C165.93,831.35 166.18,832.85 166.60,834.36 C167.02,835.86 167.43,837.87 168.10,840.37 C168.77,842.88 169.93,846.89 170.60,849.39 C171.27,851.90 171.50,853.40 172.10,855.41 C172.70,857.41 173.75,859.52 174.20,861.42 C174.65,863.33 175.07,864.83 174.80,866.84 C174.53,868.84 173.60,871.60 172.60,873.46 C171.60,875.31 169.77,876.61 168.80,877.97 C167.83,879.32 167.13,880.32 166.80,881.58 C166.47,882.83 166.67,884.23 166.80,885.49 C166.93,886.74 167.30,888.09 167.60,889.09 C167.90,890.10 168.43,891.10 168.60,891.50 Z" fill="#00A9FF" stroke="#1e1e1e" stroke-width="0.85" stroke-linejoin="round"/>
<line x1="176.60" y1="891.50" x2="194.60" y2="891.50" stroke="#333" stroke-width="1.0"/>
<line x1="185.60" y1="891.50" x2="185.60" y2="843.38" stroke="#333" stroke-width="0.8"/>
<line x1="184.60" y1="870.45" x2="186.60" y2="870.45" stroke="#555" stroke-width="0.7"/>
<line x1="196.60" y1="891.50" x2="214.60" y2="891.50" stroke="#333" stroke-width="1.0"/>
<line x1="205.60" y1="891.50" x2="205.60" y2="859.62" stroke="#333" stroke-width="0.8"/>
<line x1="204.60" y1="870.45" x2="206.60" y2="870.45" stroke="#555" stroke-width="0.7"/>
<line x1="251.20" y1="769.80" x2="251.20" y2="897.10" stroke="#222" stroke-width="1.2"/>
<line x1="250.60" y1="896.50" x2="414.80" y2="896.50" stroke="#222" stroke-width="1.2"/>
<line x1="248.70" y1="891.30" x2="251.20" y2="891.30" stroke="#222" stroke-width="1"/>
<text x="241.80" y="895.71" font-size="10.5" text-anchor="middle"   fill="#111" >0</text>
<line x1="248.70" y1="861.17" x2="251.20" y2="861.17" stroke="#222" stroke-width="1"/>
<text x="241.80" y="865.59" font-size="10.5" text-anchor="middle"   fill="#111" >1</text>
<line x1="248.70" y1="831.05" x2="251.20" y2="831.05" stroke="#222" stroke-width="1"/>
<text x="241.80" y="835.46" font-size="10.5" text-anchor="middle"   fill="#111" >2</text>
<line x1="248.70" y1="800.92" x2="251.20" y2="800.92" stroke="#222" stroke-width="1"/>
<text x="241.80" y="805.34" font-size="10.5" text-anchor="middle"   fill="#111" >3</text>
<line x1="248.70" y1="770.80" x2="251.20" y2="770.80" stroke="#222" stroke-width="1"/>
<text x="241.80" y="775.21" font-size="10.5" text-anchor="middle"   fill="#111" >4</text>
<text x="338.00" y="769.61" font-size="10.5" font-weight="bold" text-anchor="middle" fill="#111">IKZF3</text>
<line x1="262.90" y1="896.50" x2="262.90" y2="899.00" stroke="#222" stroke-width="1"/>
<text x="262.90" y="909.61" font-size="10.5" text-anchor="middle"   fill="#111" >1</text>
<line x1="282.86" y1="896.50" x2="282.86" y2="899.00" stroke="#222" stroke-width="1"/>
<text x="282.86" y="909.61" font-size="10.5" text-anchor="middle"   fill="#111" >2</text>
<line x1="302.82" y1="896.50" x2="302.82" y2="899.00" stroke="#222" stroke-width="1"/>
<text x="302.82" y="909.61" font-size="10.5" text-anchor="middle"   fill="#111" >3</text>
<line x1="322.78" y1="896.50" x2="322.78" y2="899.00" stroke="#222" stroke-width="1"/>
<text x="322.78" y="909.61" font-size="10.5" text-anchor="middle"   fill="#111" >4</text>
<line x1="342.74" y1="896.50" x2="342.74" y2="899.00" stroke="#222" stroke-width="1"/>
<text x="342.74" y="909.61" font-size="10.5" text-anchor="middle"   fill="#111" >5</text>
<line x1="362.70" y1="896.50" x2="362.70" y2="899.00" stroke="#222" stroke-width="1"/>
<text x="362.70" y="909.61" font-size="10.5" text-anchor="middle"   fill="#111" >6</text>
<line x1="382.66" y1="896.50" x2="382.66" y2="899.00" stroke="#222" stroke-width="1"/>
<text x="382.66" y="909.61" font-size="10.5" text-anchor="middle"   fill="#111" >7</text>
<line x1="402.62" y1="896.50" x2="402.62" y2="899.00" stroke="#222" stroke-width="1"/>
<text x="402.62" y="909.61" font-size="10.5" text-anchor="middle"   fill="#111" >8</text>
<line x1="253.90" y1="891.30" x2="271.90" y2="891.30" stroke="#333" stroke-width="1.0"/>
<line x1="262.90" y1="891.30" x2="262.90" y2="857.56" stroke="#333" stroke-width="0.8"/>
<line x1="261.90" y1="870.21" x2="263.90" y2="870.21" stroke="#555" stroke-width="0.7"/>
<path d="M274.16,891.30 C274.78,890.35 276.66,887.08 277.86,885.58 C279.06,884.07 280.65,883.22 281.36,882.26 C282.07,881.31 282.44,880.86 282.11,879.85 C281.78,878.85 280.27,877.79 279.36,876.24 C278.45,874.68 276.58,872.72 276.66,870.51 C276.74,868.30 279.13,864.94 279.86,862.98 C280.59,861.02 280.56,859.77 281.06,858.76 C281.56,857.76 282.26,856.96 282.86,856.96 C283.46,856.96 284.16,857.76 284.66,858.76 C285.16,859.77 285.13,861.02 285.86,862.98 C286.59,864.94 288.98,868.30 289.06,870.51 C289.14,872.72 287.27,874.68 286.36,876.24 C285.45,877.79 283.94,878.85 283.61,879.85 C283.28,880.86 283.65,881.31 284.36,882.26 C285.07,883.22 286.66,884.07 287.86,885.58 C289.06,887.08 290.94,890.35 291.56,891.30 Z" fill="#CD9600" stroke="#1e1e1e" stroke-width="0.85" stroke-linejoin="round"/>
<line x1="293.82" y1="891.30" x2="311.82" y2="891.30" stroke="#333" stroke-width="1.0"/>
<line x1="302.82" y1="891.30" x2="302.82" y2="857.56" stroke="#333" stroke-width="0.8"/>
<line x1="301.82" y1="870.21" x2="303.82" y2="870.21" stroke="#555" stroke-width="0.7"/>
<line x1="313.78" y1="891.30" x2="331.78" y2="891.30" stroke="#333" stroke-width="1.0"/>
<line x1="322.78" y1="891.30" x2="322.78" y2="859.07" stroke="#333" stroke-width="0.8"/>
<line x1="321.78" y1="870.21" x2="323.78" y2="870.21" stroke="#555" stroke-width="0.7"/>
<path d="M342.74,867.20 C342.41,867.00 341.36,866.90 340.74,866.00 C340.12,865.09 339.74,863.48 339.04,861.78 C338.34,860.07 337.37,858.01 336.54,855.75 C335.71,853.49 333.76,851.33 334.04,848.22 C334.32,845.11 337.04,839.94 338.24,837.07 C339.44,834.21 340.49,832.46 341.24,831.05 C341.99,829.64 342.24,828.64 342.74,828.64 C343.24,828.64 343.49,829.64 344.24,831.05 C344.99,832.46 346.04,834.21 347.24,837.07 C348.44,839.94 351.16,845.11 351.44,848.22 C351.72,851.33 349.77,853.49 348.94,855.75 C348.11,858.01 347.14,860.07 346.44,861.78 C345.74,863.48 345.36,865.09 344.74,866.00 C344.12,866.90 343.07,867.00 342.74,867.20 Z" fill="#00BFC4" stroke="#1e1e1e" stroke-width="0.85" stroke-linejoin="round"/>
<line x1="362.70" y1="855.15" x2="362.70" y2="851.84" stroke="#1e1e1e" stroke-width="0.8"/>
<path d="M354.00,891.30 C354.62,890.35 356.50,887.08 357.70,885.58 C358.90,884.07 360.49,883.22 361.20,882.26 C361.91,881.31 362.20,880.86 361.95,879.85 C361.70,878.85 360.32,877.79 359.70,876.24 C359.07,874.68 358.12,872.27 358.20,870.51 C358.28,868.76 359.65,867.15 360.20,865.69 C360.75,864.24 361.17,863.28 361.50,861.78 C361.83,860.27 362.00,857.76 362.20,856.66 C362.40,855.55 362.53,855.15 362.70,855.15 C362.87,855.15 363.00,855.55 363.20,856.66 C363.40,857.76 363.57,860.27 363.90,861.78 C364.23,863.28 364.65,864.24 365.20,865.69 C365.75,867.15 367.12,868.76 367.20,870.51 C367.28,872.27 366.32,874.68 365.70,876.24 C365.07,877.79 363.70,878.85 363.45,879.85 C363.20,880.86 363.49,881.31 364.20,882.26 C364.91,883.22 366.50,884.07 367.70,885.58 C368.90,887.08 370.78,890.35 371.40,891.30 Z" fill="#00A9FF" stroke="#1e1e1e" stroke-width="0.85" stroke-linejoin="round"/>
<line x1="373.66" y1="891.30" x2="391.66" y2="891.30" stroke="#333" stroke-width="1.0"/>
<line x1="382.66" y1="891.30" x2="382.66" y2="857.56" stroke="#333" stroke-width="0.8"/>
<line x1="381.66" y1="870.21" x2="383.66" y2="870.21" stroke="#555" stroke-width="0.7"/>
<line x1="393.62" y1="891.30" x2="411.62" y2="891.30" stroke="#333" stroke-width="1.0"/>
<line x1="402.62" y1="891.30" x2="402.62" y2="869.31" stroke="#333" stroke-width="0.8"/>
<line x1="53.70" y1="934.90" x2="53.70" y2="1062.80" stroke="#222" stroke-width="1.2"/>
<line x1="53.10" y1="1062.20" x2="217.60" y2="1062.20" stroke="#222" stroke-width="1.2"/>
<line x1="51.20" y1="1056.90" x2="53.70" y2="1056.90" stroke="#222" stroke-width="1"/>
<text x="45.30" y="1061.31" font-size="10.5" text-anchor="middle"   fill="#111" >0</text>
<line x1="51.20" y1="1026.65" x2="53.70" y2="1026.65" stroke="#222" stroke-width="1"/>
<text x="45.30" y="1031.06" font-size="10.5" text-anchor="middle"   fill="#111" >1</text>
<line x1="51.20" y1="996.40" x2="53.70" y2="996.40" stroke="#222" stroke-width="1"/>
<text x="45.30" y="1000.81" font-size="10.5" text-anchor="middle"   fill="#111" >2</text>
<line x1="51.20" y1="966.15" x2="53.70" y2="966.15" stroke="#222" stroke-width="1"/>
<text x="45.30" y="970.56" font-size="10.5" text-anchor="middle"   fill="#111" >3</text>
<line x1="51.20" y1="935.90" x2="53.70" y2="935.90" stroke="#222" stroke-width="1"/>
<text x="45.30" y="940.31" font-size="10.5" text-anchor="middle"   fill="#111" >4</text>
<text x="134.80" y="931.41" font-size="10.5" font-weight="bold" text-anchor="middle" fill="#111">SLAMF7</text>
<text transform="translate(29.50,999.60) rotate(-90)" x="0" y="3.61" font-size="10.5" text-anchor="middle" textLength="79.8" lengthAdjust="spacingAndGlyphs"  fill="#111" >Expression Level</text>
<line x1="65.60" y1="1062.20" x2="65.60" y2="1064.70" stroke="#222" stroke-width="1"/>
<text x="65.60" y="1075.51" font-size="10.5" text-anchor="middle"   fill="#111" >1</text>
<line x1="85.65" y1="1062.20" x2="85.65" y2="1064.70" stroke="#222" stroke-width="1"/>
<text x="85.65" y="1075.51" font-size="10.5" text-anchor="middle"   fill="#111" >2</text>
<line x1="105.70" y1="1062.20" x2="105.70" y2="1064.70" stroke="#222" stroke-width="1"/>
<text x="105.70" y="1075.51" font-size="10.5" text-anchor="middle"   fill="#111" >3</text>
<line x1="125.75" y1="1062.20" x2="125.75" y2="1064.70" stroke="#222" stroke-width="1"/>
<text x="125.75" y="1075.51" font-size="10.5" text-anchor="middle"   fill="#111" >4</text>
<line x1="145.80" y1="1062.20" x2="145.80" y2="1064.70" stroke="#222" stroke-width="1"/>
<text x="145.80" y="1075.51" font-size="10.5" text-anchor="middle"   fill="#111" >5</text>
<line x1="165.85" y1="1062.20" x2="165.85" y2="1064.70" stroke="#222" stroke-width="1"/>
<text x="165.85" y="1075.51" font-size="10.5" text-anchor="middle"   fill="#111" >6</text>
<line x1="185.90" y1="1062.20" x2="185.90" y2="1064.70" stroke="#222" stroke-width="1"/>
<text x="185.90" y="1075.51" font-size="10.5" text-anchor="middle"   fill="#111" >7</text>
<line x1="205.95" y1="1062.20" x2="205.95" y2="1064.70" stroke="#222" stroke-width="1"/>
<text x="205.95" y="1075.51" font-size="10.5" text-anchor="middle"   fill="#111" >8</text>
<line x1="56.80" y1="1056.90" x2="74.40" y2="1056.90" stroke="#333" stroke-width="1.0"/>
<line x1="65.60" y1="1056.90" x2="65.60" y2="1035.12" stroke="#333" stroke-width="0.8"/>
<line x1="76.85" y1="1056.90" x2="94.45" y2="1056.90" stroke="#333" stroke-width="1.0"/>
<line x1="85.65" y1="1056.90" x2="85.65" y2="1023.02" stroke="#333" stroke-width="0.8"/>
<line x1="84.65" y1="1035.73" x2="86.65" y2="1035.73" stroke="#555" stroke-width="0.7"/>
<line x1="96.90" y1="1056.90" x2="114.50" y2="1056.90" stroke="#333" stroke-width="1.0"/>
<line x1="105.70" y1="1056.90" x2="105.70" y2="1034.21" stroke="#333" stroke-width="0.8"/>
<line x1="116.95" y1="1056.90" x2="134.55" y2="1056.90" stroke="#333" stroke-width="1.0"/>
<line x1="125.75" y1="1056.90" x2="125.75" y2="1034.21" stroke="#333" stroke-width="0.8"/>
<line x1="157.05" y1="1056.90" x2="174.65" y2="1056.90" stroke="#333" stroke-width="1.0"/>
<line x1="165.85" y1="1056.90" x2="165.85" y2="1021.21" stroke="#333" stroke-width="0.8"/>
<line x1="164.85" y1="1035.73" x2="166.85" y2="1035.73" stroke="#555" stroke-width="0.7"/>
<line x1="177.10" y1="1056.90" x2="194.70" y2="1056.90" stroke="#333" stroke-width="1.0"/>
<line x1="185.90" y1="1056.90" x2="185.90" y2="1034.21" stroke="#333" stroke-width="0.8"/>
<line x1="197.15" y1="1056.90" x2="214.75" y2="1056.90" stroke="#333" stroke-width="1.0"/>
<line x1="205.95" y1="1056.90" x2="205.95" y2="1034.21" stroke="#333" stroke-width="0.8"/>
<path d="M137.00,1056.90 C137.22,1056.30 137.72,1054.48 138.30,1053.27 C138.88,1052.06 139.58,1050.65 140.50,1049.64 C141.42,1048.63 143.02,1047.88 143.80,1047.22 C144.58,1046.56 145.28,1046.62 145.20,1045.71 C145.12,1044.80 143.85,1043.79 143.30,1041.78 C142.75,1039.76 141.82,1035.73 141.90,1033.61 C141.98,1031.49 143.30,1030.48 143.80,1029.07 C144.30,1027.66 144.67,1027.56 144.90,1025.14 C145.13,1022.72 145.05,1017.93 145.20,1014.55 C145.35,1011.17 145.60,1004.87 145.80,1004.87 C146.00,1004.87 146.25,1011.17 146.40,1014.55 C146.55,1017.93 146.47,1022.72 146.70,1025.14 C146.93,1027.56 147.30,1027.66 147.80,1029.07 C148.30,1030.48 149.62,1031.49 149.70,1033.61 C149.78,1035.73 148.85,1039.76 148.30,1041.78 C147.75,1043.79 146.48,1044.80 146.40,1045.71 C146.32,1046.62 147.02,1046.56 147.80,1047.22 C148.58,1047.88 150.18,1048.63 151.10,1049.64 C152.02,1050.65 152.72,1052.06 153.30,1053.27 C153.88,1054.48 154.38,1056.30 154.60,1056.90 Z" fill="#00BFC4" stroke="#1e1e1e" stroke-width="0.85" stroke-linejoin="round"/>
<rect x="253.1" y="933.70" width="12.4" height="12" fill="#F8766D"/>
<text x="268.90" y="945.02" font-size="10.8"    fill="#111" >1. Activated ILCs</text>
<rect x="253.1" y="950.20" width="12.4" height="12" fill="#CD9600"/>
<text x="268.90" y="961.52" font-size="10.8"    fill="#111" >2. CD127+CD94+ pop A</text>
<rect x="253.1" y="967.30" width="12.4" height="12" fill="#7CAE00"/>
<text x="268.90" y="978.62" font-size="10.8"    fill="#111" >3. ILC Naive</text>
<rect x="253.1" y="984.40" width="12.4" height="12" fill="#00BE67"/>
<text x="268.90" y="995.72" font-size="10.8"    fill="#111" >4. ILC Naive</text>
<rect x="253.1" y="1000.90" width="12.4" height="12" fill="#00BFC4"/>
<text x="268.90" y="1012.22" font-size="10.8"    fill="#111" >5. CD127-CD94+ NK</text>
<rect x="253.1" y="1017.70" width="12.4" height="12" fill="#00A9FF"/>
<text x="268.90" y="1029.02" font-size="10.8"    fill="#111" >6. CD127+CD94+ pop B</text>
<rect x="253.1" y="1034.80" width="12.4" height="12" fill="#C77CFF"/>
<text x="268.90" y="1046.12" font-size="10.8"    fill="#111" >7. Activated ILCs</text>
<rect x="253.1" y="1051.40" width="12.4" height="12" fill="#FF61CC"/>
<text x="268.90" y="1062.72" font-size="10.8"    fill="#111" >8. LTi-like cells</text>
<line x1="477.40" y1="603.20" x2="477.40" y2="730.40" stroke="#222" stroke-width="1.2"/>
<line x1="476.80" y1="729.80" x2="640.00" y2="729.80" stroke="#222" stroke-width="1.2"/>
<text x="467.70" y="729.01" font-size="10.5" text-anchor="middle"   fill="#111" >0</text>
<text x="467.70" y="698.91" font-size="10.5" text-anchor="middle"   fill="#111" >1</text>
<text x="467.70" y="668.81" font-size="10.5" text-anchor="middle"   fill="#111" >2</text>
<text x="467.70" y="638.71" font-size="10.5" text-anchor="middle"   fill="#111" >3</text>
<text x="467.70" y="608.61" font-size="10.5" text-anchor="middle"   fill="#111" >4</text>
<text x="557.50" y="604.61" font-size="10.5" font-weight="bold" text-anchor="middle" fill="#111">CCL3</text>
<text transform="translate(453.10,667.50) rotate(-90)" x="0" y="3.61" font-size="10.5" text-anchor="middle" textLength="79.8" lengthAdjust="spacingAndGlyphs"  fill="#111" >Expression Level</text>
<line x1="489.90" y1="729.80" x2="489.90" y2="732.30" stroke="#222" stroke-width="1"/>
<text x="489.90" y="744.01" font-size="10.5" text-anchor="middle"   fill="#111" >1</text>
<line x1="509.82" y1="729.80" x2="509.82" y2="732.30" stroke="#222" stroke-width="1"/>
<text x="509.82" y="744.01" font-size="10.5" text-anchor="middle"   fill="#111" >2</text>
<line x1="529.74" y1="729.80" x2="529.74" y2="732.30" stroke="#222" stroke-width="1"/>
<text x="529.74" y="744.01" font-size="10.5" text-anchor="middle"   fill="#111" >3</text>
<line x1="549.66" y1="729.80" x2="549.66" y2="732.30" stroke="#222" stroke-width="1"/>
<text x="549.66" y="744.01" font-size="10.5" text-anchor="middle"   fill="#111" >4</text>
<line x1="569.58" y1="729.80" x2="569.58" y2="732.30" stroke="#222" stroke-width="1"/>
<text x="569.58" y="744.01" font-size="10.5" text-anchor="middle"   fill="#111" >5</text>
<line x1="589.50" y1="729.80" x2="589.50" y2="732.30" stroke="#222" stroke-width="1"/>
<text x="589.50" y="744.01" font-size="10.5" text-anchor="middle"   fill="#111" >6</text>
<line x1="609.42" y1="729.80" x2="609.42" y2="732.30" stroke="#222" stroke-width="1"/>
<text x="609.42" y="744.01" font-size="10.5" text-anchor="middle"   fill="#111" >7</text>
<line x1="629.34" y1="729.80" x2="629.34" y2="732.30" stroke="#222" stroke-width="1"/>
<text x="629.34" y="744.01" font-size="10.5" text-anchor="middle"   fill="#111" >8</text>
<line x1="480.90" y1="724.60" x2="498.90" y2="724.60" stroke="#333" stroke-width="1.0"/>
<line x1="489.90" y1="724.60" x2="489.90" y2="703.23" stroke="#333" stroke-width="0.8"/>
<line x1="500.82" y1="724.60" x2="518.82" y2="724.60" stroke="#333" stroke-width="1.0"/>
<line x1="509.82" y1="724.60" x2="509.82" y2="674.94" stroke="#333" stroke-width="0.8"/>
<line x1="508.82" y1="703.53" x2="510.82" y2="703.53" stroke="#555" stroke-width="0.7"/>
<line x1="520.74" y1="724.60" x2="538.74" y2="724.60" stroke="#333" stroke-width="1.0"/>
<line x1="529.74" y1="724.60" x2="529.74" y2="690.29" stroke="#333" stroke-width="0.8"/>
<line x1="528.74" y1="703.53" x2="530.74" y2="703.53" stroke="#555" stroke-width="0.7"/>
<line x1="540.66" y1="724.60" x2="558.66" y2="724.60" stroke="#333" stroke-width="1.0"/>
<line x1="549.66" y1="724.60" x2="549.66" y2="703.23" stroke="#333" stroke-width="0.8"/>
<path d="M569.58,713.76 C569.21,713.56 568.13,713.76 567.38,712.56 C566.63,711.36 565.91,708.80 565.08,706.54 C564.25,704.28 563.10,701.52 562.38,699.01 C561.66,696.51 561.13,694.25 560.78,691.49 C560.43,688.73 560.31,685.97 560.28,682.46 C560.25,678.95 560.20,674.43 560.58,670.42 C560.96,666.41 561.83,662.39 562.58,658.38 C563.33,654.37 564.25,650.35 565.08,646.34 C565.91,642.33 566.83,638.46 567.58,634.30 C568.33,630.14 568.91,621.36 569.58,621.36 C570.25,621.36 570.83,630.14 571.58,634.30 C572.33,638.46 573.25,642.33 574.08,646.34 C574.91,650.35 575.83,654.37 576.58,658.38 C577.33,662.39 578.20,666.41 578.58,670.42 C578.96,674.43 578.91,678.95 578.88,682.46 C578.85,685.97 578.73,688.73 578.38,691.49 C578.03,694.25 577.50,696.51 576.78,699.01 C576.06,701.52 574.91,704.28 574.08,706.54 C573.25,708.80 572.53,711.36 571.78,712.56 C571.03,713.76 569.95,713.56 569.58,713.76 Z" fill="#00BFC4" stroke="#1e1e1e" stroke-width="0.85" stroke-linejoin="round"/>
<line x1="580.50" y1="724.60" x2="598.50" y2="724.60" stroke="#333" stroke-width="1.0"/>
<line x1="589.50" y1="724.60" x2="589.50" y2="644.23" stroke="#333" stroke-width="0.8"/>
<path d="M580.30,724.60 C581.00,724.30 583.17,723.55 584.50,722.79 C585.83,722.04 587.58,721.54 588.30,720.09 C589.02,718.63 588.73,716.32 588.80,714.07 C588.87,711.81 588.83,708.40 588.70,706.54 C588.57,704.68 588.12,703.93 588.00,702.93 C587.88,701.92 587.88,701.32 588.00,700.52 C588.12,699.72 588.45,698.86 588.70,698.11 C588.95,697.36 589.23,696.00 589.50,696.00 C589.77,696.00 590.05,697.36 590.30,698.11 C590.55,698.86 590.88,699.72 591.00,700.52 C591.12,701.32 591.12,701.92 591.00,702.93 C590.88,703.93 590.43,704.68 590.30,706.54 C590.17,708.40 590.13,711.81 590.20,714.07 C590.27,716.32 589.98,718.63 590.70,720.09 C591.42,721.54 593.17,722.04 594.50,722.79 C595.83,723.55 598.00,724.30 598.70,724.60 Z" fill="#00A9FF" stroke="#1e1e1e" stroke-width="0.85" stroke-linejoin="round"/>
<line x1="600.42" y1="724.60" x2="618.42" y2="724.60" stroke="#333" stroke-width="1.0"/>
<line x1="609.42" y1="724.60" x2="609.42" y2="690.29" stroke="#333" stroke-width="0.8"/>
<line x1="608.42" y1="703.53" x2="610.42" y2="703.53" stroke="#555" stroke-width="0.7"/>
<line x1="620.34" y1="724.60" x2="638.34" y2="724.60" stroke="#333" stroke-width="1.0"/>
<line x1="477.40" y1="769.20" x2="477.40" y2="896.40" stroke="#222" stroke-width="1.2"/>
<line x1="476.80" y1="895.80" x2="640.00" y2="895.80" stroke="#222" stroke-width="1.2"/>
<line x1="474.90" y1="890.40" x2="477.40" y2="890.40" stroke="#222" stroke-width="1"/>
<text x="467.70" y="894.81" font-size="10.5" text-anchor="middle"   fill="#111" >0</text>
<line x1="474.90" y1="860.35" x2="477.40" y2="860.35" stroke="#222" stroke-width="1"/>
<text x="467.70" y="864.76" font-size="10.5" text-anchor="middle"   fill="#111" >1</text>
<line x1="474.90" y1="830.30" x2="477.40" y2="830.30" stroke="#222" stroke-width="1"/>
<text x="467.70" y="834.71" font-size="10.5" text-anchor="middle"   fill="#111" >2</text>
<line x1="474.90" y1="800.25" x2="477.40" y2="800.25" stroke="#222" stroke-width="1"/>
<text x="467.70" y="804.66" font-size="10.5" text-anchor="middle"   fill="#111" >3</text>
<line x1="474.90" y1="770.20" x2="477.40" y2="770.20" stroke="#222" stroke-width="1"/>
<text x="467.70" y="774.61" font-size="10.5" text-anchor="middle"   fill="#111" >4</text>
<text x="557.50" y="769.71" font-size="10.5" font-weight="bold" text-anchor="middle" fill="#111">CCL4</text>
<text transform="translate(453.10,835.90) rotate(-90)" x="0" y="3.61" font-size="10.5" text-anchor="middle" textLength="79.8" lengthAdjust="spacingAndGlyphs"  fill="#111" >Expression Level</text>
<line x1="489.90" y1="895.80" x2="489.90" y2="898.30" stroke="#222" stroke-width="1"/>
<text x="489.90" y="910.31" font-size="10.5" text-anchor="middle"   fill="#111" >1</text>
<line x1="509.82" y1="895.80" x2="509.82" y2="898.30" stroke="#222" stroke-width="1"/>
<text x="509.82" y="910.31" font-size="10.5" text-anchor="middle"   fill="#111" >2</text>
<line x1="529.74" y1="895.80" x2="529.74" y2="898.30" stroke="#222" stroke-width="1"/>
<text x="529.74" y="910.31" font-size="10.5" text-anchor="middle"   fill="#111" >3</text>
<line x1="549.66" y1="895.80" x2="549.66" y2="898.30" stroke="#222" stroke-width="1"/>
<text x="549.66" y="910.31" font-size="10.5" text-anchor="middle"   fill="#111" >4</text>
<line x1="569.58" y1="895.80" x2="569.58" y2="898.30" stroke="#222" stroke-width="1"/>
<text x="569.58" y="910.31" font-size="10.5" text-anchor="middle"   fill="#111" >5</text>
<line x1="589.50" y1="895.80" x2="589.50" y2="898.30" stroke="#222" stroke-width="1"/>
<text x="589.50" y="910.31" font-size="10.5" text-anchor="middle"   fill="#111" >6</text>
<line x1="609.42" y1="895.80" x2="609.42" y2="898.30" stroke="#222" stroke-width="1"/>
<text x="609.42" y="910.31" font-size="10.5" text-anchor="middle"   fill="#111" >7</text>
<line x1="629.34" y1="895.80" x2="629.34" y2="898.30" stroke="#222" stroke-width="1"/>
<text x="629.34" y="910.31" font-size="10.5" text-anchor="middle"   fill="#111" >8</text>
<line x1="480.90" y1="890.40" x2="498.90" y2="890.40" stroke="#333" stroke-width="1.0"/>
<line x1="489.90" y1="890.40" x2="489.90" y2="869.37" stroke="#333" stroke-width="0.8"/>
<line x1="500.82" y1="890.40" x2="518.82" y2="890.40" stroke="#333" stroke-width="1.0"/>
<line x1="509.82" y1="890.40" x2="509.82" y2="813.77" stroke="#333" stroke-width="0.8"/>
<path d="M501.12,890.40 C501.90,890.15 504.57,889.40 505.82,888.90 C507.07,888.40 508.04,888.15 508.62,887.39 C509.20,886.64 509.20,886.64 509.32,884.39 C509.44,882.14 509.45,875.98 509.32,873.87 C509.19,871.77 508.70,872.52 508.52,871.77 C508.34,871.02 508.17,870.17 508.22,869.37 C508.27,868.56 508.55,867.56 508.82,866.96 C509.09,866.36 509.49,865.76 509.82,865.76 C510.15,865.76 510.55,866.36 510.82,866.96 C511.09,867.56 511.37,868.56 511.42,869.37 C511.47,870.17 511.30,871.02 511.12,871.77 C510.94,872.52 510.45,871.77 510.32,873.87 C510.19,875.98 510.20,882.14 510.32,884.39 C510.44,886.64 510.44,886.64 511.02,887.39 C511.60,888.15 512.57,888.40 513.82,888.90 C515.07,889.40 517.74,890.15 518.52,890.40 Z" fill="#CD9600" stroke="#1e1e1e" stroke-width="0.85" stroke-linejoin="round"/>
<line x1="520.74" y1="890.40" x2="538.74" y2="890.40" stroke="#333" stroke-width="1.0"/>
<line x1="529.74" y1="890.40" x2="529.74" y2="856.74" stroke="#333" stroke-width="0.8"/>
<line x1="528.74" y1="869.37" x2="530.74" y2="869.37" stroke="#555" stroke-width="0.7"/>
<line x1="540.66" y1="890.40" x2="558.66" y2="890.40" stroke="#333" stroke-width="1.0"/>
<line x1="549.66" y1="890.40" x2="549.66" y2="869.37" stroke="#333" stroke-width="0.8"/>
<path d="M569.58,890.40 C569.25,888.55 568.61,883.64 567.58,879.28 C566.55,874.92 564.58,870.02 563.38,864.26 C562.18,858.50 560.38,852.09 560.38,844.72 C560.38,837.36 562.35,825.49 563.38,820.08 C564.41,814.67 565.75,814.77 566.58,812.27 C567.41,809.77 568.05,808.06 568.38,805.06 C568.71,802.05 568.38,797.60 568.58,794.24 C568.78,790.88 569.25,784.92 569.58,784.92 C569.91,784.92 570.38,790.88 570.58,794.24 C570.78,797.60 570.45,802.05 570.78,805.06 C571.11,808.06 571.75,809.77 572.58,812.27 C573.41,814.77 574.75,814.67 575.78,820.08 C576.81,825.49 578.78,837.36 578.78,844.72 C578.78,852.09 576.98,858.50 575.78,864.26 C574.58,870.02 572.61,874.92 571.58,879.28 C570.55,883.64 569.91,888.55 569.58,890.40 Z" fill="#00BFC4" stroke="#1e1e1e" stroke-width="0.85" stroke-linejoin="round"/>
<line x1="589.50" y1="852.24" x2="589.50" y2="825.79" stroke="#1e1e1e" stroke-width="0.8"/>
<path d="M580.30,890.40 C580.67,889.80 581.55,887.90 582.50,886.79 C583.45,885.69 585.33,884.64 586.00,883.79 C586.67,882.94 586.38,883.09 586.50,881.69 C586.62,880.28 586.62,877.83 586.70,875.38 C586.78,872.92 586.78,869.47 587.00,866.96 C587.22,864.46 587.58,862.80 588.00,860.35 C588.42,857.90 589.00,852.24 589.50,852.24 C590.00,852.24 590.58,857.90 591.00,860.35 C591.42,862.80 591.78,864.46 592.00,866.96 C592.22,869.47 592.22,872.92 592.30,875.38 C592.38,877.83 592.38,880.28 592.50,881.69 C592.62,883.09 592.33,882.94 593.00,883.79 C593.67,884.64 595.55,885.69 596.50,886.79 C597.45,887.90 598.33,889.80 598.70,890.40 Z" fill="#00A9FF" stroke="#1e1e1e" stroke-width="0.85" stroke-linejoin="round"/>
<line x1="600.42" y1="890.40" x2="618.42" y2="890.40" stroke="#333" stroke-width="1.0"/>
<line x1="609.42" y1="890.40" x2="609.42" y2="836.01" stroke="#333" stroke-width="0.8"/>
<line x1="608.42" y1="869.37" x2="610.42" y2="869.37" stroke="#555" stroke-width="0.7"/>
<line x1="620.34" y1="890.40" x2="638.34" y2="890.40" stroke="#333" stroke-width="1.0"/>
<line x1="629.34" y1="890.40" x2="629.34" y2="869.37" stroke="#333" stroke-width="0.8"/>
<line x1="472.40" y1="935.80" x2="472.40" y2="1062.90" stroke="#222" stroke-width="1.2"/>
<line x1="471.80" y1="1062.30" x2="634.20" y2="1062.30" stroke="#222" stroke-width="1.2"/>
<line x1="469.90" y1="1056.90" x2="472.40" y2="1056.90" stroke="#222" stroke-width="1"/>
<text x="461.90" y="1066.51" font-size="10.5" text-anchor="middle"   fill="#111" >0</text>
<line x1="469.90" y1="1026.88" x2="472.40" y2="1026.88" stroke="#222" stroke-width="1"/>
<text x="461.90" y="1036.49" font-size="10.5" text-anchor="middle"   fill="#111" >1</text>
<line x1="469.90" y1="996.85" x2="472.40" y2="996.85" stroke="#222" stroke-width="1"/>
<text x="461.90" y="1006.46" font-size="10.5" text-anchor="middle"   fill="#111" >2</text>
<line x1="469.90" y1="966.83" x2="472.40" y2="966.83" stroke="#222" stroke-width="1"/>
<text x="461.90" y="976.44" font-size="10.5" text-anchor="middle"   fill="#111" >3</text>
<line x1="469.90" y1="936.80" x2="472.40" y2="936.80" stroke="#222" stroke-width="1"/>
<text x="461.90" y="946.41" font-size="10.5" text-anchor="middle"   fill="#111" >4</text>
<text x="557.50" y="931.31" font-size="10.5" font-weight="bold" text-anchor="middle" fill="#111">CCL5</text>
<text transform="translate(448.00,1010.00) rotate(-90)" x="0" y="3.61" font-size="10.5" text-anchor="middle" textLength="79.8" lengthAdjust="spacingAndGlyphs"  fill="#111" >Expression Level</text>
<line x1="484.50" y1="1062.30" x2="484.50" y2="1064.80" stroke="#222" stroke-width="1"/>
<text x="484.50" y="1076.21" font-size="10.5" text-anchor="middle"   fill="#111" >1</text>
<line x1="504.46" y1="1062.30" x2="504.46" y2="1064.80" stroke="#222" stroke-width="1"/>
<text x="504.46" y="1076.21" font-size="10.5" text-anchor="middle"   fill="#111" >2</text>
<line x1="524.42" y1="1062.30" x2="524.42" y2="1064.80" stroke="#222" stroke-width="1"/>
<text x="524.42" y="1076.21" font-size="10.5" text-anchor="middle"   fill="#111" >3</text>
<line x1="544.38" y1="1062.30" x2="544.38" y2="1064.80" stroke="#222" stroke-width="1"/>
<text x="544.38" y="1076.21" font-size="10.5" text-anchor="middle"   fill="#111" >4</text>
<line x1="564.34" y1="1062.30" x2="564.34" y2="1064.80" stroke="#222" stroke-width="1"/>
<text x="564.34" y="1076.21" font-size="10.5" text-anchor="middle"   fill="#111" >5</text>
<line x1="584.30" y1="1062.30" x2="584.30" y2="1064.80" stroke="#222" stroke-width="1"/>
<text x="584.30" y="1076.21" font-size="10.5" text-anchor="middle"   fill="#111" >6</text>
<line x1="604.26" y1="1062.30" x2="604.26" y2="1064.80" stroke="#222" stroke-width="1"/>
<text x="604.26" y="1076.21" font-size="10.5" text-anchor="middle"   fill="#111" >7</text>
<line x1="624.22" y1="1062.30" x2="624.22" y2="1064.80" stroke="#222" stroke-width="1"/>
<text x="624.22" y="1076.21" font-size="10.5" text-anchor="middle"   fill="#111" >8</text>
<line x1="475.20" y1="1056.90" x2="493.80" y2="1056.90" stroke="#333" stroke-width="1.0"/>
<line x1="484.50" y1="1056.90" x2="484.50" y2="1014.87" stroke="#333" stroke-width="0.8"/>
<line x1="483.50" y1="1035.88" x2="485.50" y2="1035.88" stroke="#555" stroke-width="0.7"/>
<path d="M495.66,1056.90 C496.29,1056.30 498.16,1054.80 499.46,1053.30 C500.76,1051.80 503.13,1050.04 503.46,1047.89 C503.79,1045.74 502.38,1042.89 501.46,1040.39 C500.54,1037.88 498.96,1035.53 497.96,1032.88 C496.96,1030.23 495.24,1027.48 495.46,1024.47 C495.68,1021.47 498.13,1017.97 499.26,1014.87 C500.39,1011.76 501.56,1008.86 502.26,1005.86 C502.96,1002.86 503.09,999.65 503.46,996.85 C503.83,994.05 504.13,989.04 504.46,989.04 C504.79,989.04 505.09,994.05 505.46,996.85 C505.83,999.65 505.96,1002.86 506.66,1005.86 C507.36,1008.86 508.53,1011.76 509.66,1014.87 C510.79,1017.97 513.24,1021.47 513.46,1024.47 C513.68,1027.48 511.96,1030.23 510.96,1032.88 C509.96,1035.53 508.38,1037.88 507.46,1040.39 C506.54,1042.89 505.13,1045.74 505.46,1047.89 C505.79,1050.04 508.16,1051.80 509.46,1053.30 C510.76,1054.80 512.63,1056.30 513.26,1056.90 Z" fill="#CD9600" stroke="#1e1e1e" stroke-width="0.85" stroke-linejoin="round"/>
<path d="M514.92,1056.90 C515.87,1055.70 519.14,1051.90 520.62,1049.69 C522.10,1047.49 523.60,1045.49 523.82,1043.69 C524.04,1041.89 522.35,1040.49 521.92,1038.88 C521.49,1037.28 521.10,1035.83 521.22,1034.08 C521.34,1032.33 522.22,1029.93 522.62,1028.38 C523.02,1026.82 523.32,1028.23 523.62,1024.77 C523.92,1021.32 524.15,1007.66 524.42,1007.66 C524.69,1007.66 524.92,1021.32 525.22,1024.77 C525.52,1028.23 525.82,1026.82 526.22,1028.38 C526.62,1029.93 527.50,1032.33 527.62,1034.08 C527.74,1035.83 527.35,1037.28 526.92,1038.88 C526.49,1040.49 524.80,1041.89 525.02,1043.69 C525.24,1045.49 526.74,1047.49 528.22,1049.69 C529.70,1051.90 532.97,1055.70 533.92,1056.90 Z" fill="#7CAE00" stroke="#1e1e1e" stroke-width="0.85" stroke-linejoin="round"/>
<path d="M534.88,1056.90 C535.83,1055.70 539.10,1051.90 540.58,1049.69 C542.06,1047.49 543.65,1045.49 543.78,1043.69 C543.91,1041.89 541.98,1040.39 541.38,1038.88 C540.78,1037.38 540.05,1036.28 540.18,1034.68 C540.31,1033.08 541.63,1030.83 542.18,1029.28 C542.73,1027.73 543.11,1028.88 543.48,1025.37 C543.85,1021.87 544.08,1008.26 544.38,1008.26 C544.68,1008.26 544.91,1021.87 545.28,1025.37 C545.65,1028.88 546.03,1027.73 546.58,1029.28 C547.13,1030.83 548.45,1033.08 548.58,1034.68 C548.71,1036.28 547.98,1037.38 547.38,1038.88 C546.78,1040.39 544.85,1041.89 544.98,1043.69 C545.11,1045.49 546.70,1047.49 548.18,1049.69 C549.66,1051.90 552.93,1055.70 553.88,1056.90 Z" fill="#00BE67" stroke="#1e1e1e" stroke-width="0.85" stroke-linejoin="round"/>
<path d="M564.34,1020.57 C564.02,1018.72 563.39,1013.51 562.44,1009.46 C561.49,1005.41 559.81,1001.60 558.64,996.25 C557.47,990.90 555.27,983.64 555.44,977.33 C555.61,971.03 558.41,963.17 559.64,958.42 C560.87,953.66 562.06,951.16 562.84,948.81 C563.62,946.46 563.84,944.31 564.34,944.31 C564.84,944.31 565.06,946.46 565.84,948.81 C566.62,951.16 567.81,953.66 569.04,958.42 C570.27,963.17 573.07,971.03 573.24,977.33 C573.41,983.64 571.21,990.90 570.04,996.25 C568.87,1001.60 567.19,1005.41 566.24,1009.46 C565.29,1013.51 564.66,1018.72 564.34,1020.57 Z" fill="#00BFC4" stroke="#1e1e1e" stroke-width="0.85" stroke-linejoin="round"/>
<path d="M577.30,1056.90 C577.83,1055.70 579.48,1051.90 580.50,1049.69 C581.52,1047.49 583.72,1045.94 583.40,1043.69 C583.08,1041.44 579.93,1039.04 578.60,1036.18 C577.27,1033.33 575.70,1029.08 575.40,1026.57 C575.10,1024.07 576.15,1023.12 576.80,1021.17 C577.45,1019.22 578.52,1016.92 579.30,1014.87 C580.08,1012.81 580.88,1011.36 581.50,1008.86 C582.12,1006.36 582.65,1002.86 583.00,999.85 C583.35,996.85 583.38,993.65 583.60,990.85 C583.82,988.04 584.07,983.04 584.30,983.04 C584.53,983.04 584.78,988.04 585.00,990.85 C585.22,993.65 585.25,996.85 585.60,999.85 C585.95,1002.86 586.48,1006.36 587.10,1008.86 C587.72,1011.36 588.52,1012.81 589.30,1014.87 C590.08,1016.92 591.15,1019.22 591.80,1021.17 C592.45,1023.12 593.50,1024.07 593.20,1026.57 C592.90,1029.08 591.33,1033.33 590.00,1036.18 C588.67,1039.04 585.52,1041.44 585.20,1043.69 C584.88,1045.94 587.08,1047.49 588.10,1049.69 C589.12,1051.90 590.77,1055.70 591.30,1056.90 Z" fill="#00A9FF" stroke="#1e1e1e" stroke-width="0.85" stroke-linejoin="round"/>
<path d="M594.76,1056.90 C595.59,1055.90 598.33,1053.10 599.76,1050.89 C601.19,1048.69 603.11,1045.69 603.36,1043.69 C603.61,1041.69 601.81,1040.49 601.26,1038.88 C600.71,1037.28 600.09,1035.68 600.06,1034.08 C600.03,1032.48 600.76,1030.68 601.06,1029.28 C601.36,1027.88 601.59,1026.57 601.86,1025.67 C602.13,1024.77 602.26,1024.27 602.66,1023.87 C603.06,1023.47 603.73,1023.27 604.26,1023.27 C604.79,1023.27 605.46,1023.47 605.86,1023.87 C606.26,1024.27 606.39,1024.77 606.66,1025.67 C606.93,1026.57 607.16,1027.88 607.46,1029.28 C607.76,1030.68 608.49,1032.48 608.46,1034.08 C608.43,1035.68 607.81,1037.28 607.26,1038.88 C606.71,1040.49 604.91,1041.69 605.16,1043.69 C605.41,1045.69 607.33,1048.69 608.76,1050.89 C610.19,1053.10 612.93,1055.90 613.76,1056.90 Z" fill="#C77CFF" stroke="#1e1e1e" stroke-width="0.85" stroke-linejoin="round"/>
<line x1="614.72" y1="1056.90" x2="633.72" y2="1056.90" stroke="#333" stroke-width="1.0"/>
<line x1="624.22" y1="1056.90" x2="624.22" y2="1023.87" stroke="#333" stroke-width="0.8"/>
<line x1="623.22" y1="1035.88" x2="625.22" y2="1035.88" stroke="#555" stroke-width="0.7"/>
</svg></body></html>
